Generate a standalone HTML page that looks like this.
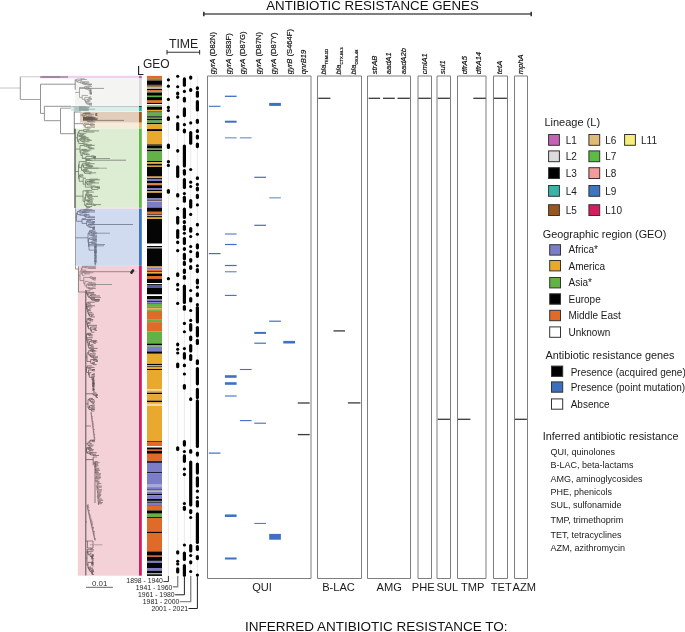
<!DOCTYPE html>
<html><head><meta charset="utf-8"><style>
html,body{margin:0;padding:0;background:#fff;}
svg{display:block;will-change:transform;font-family:"Liberation Sans",sans-serif;}
</style></head><body>
<svg width="685" height="632" viewBox="0 0 685 632">
<rect width="685" height="632" fill="#fff"/>
<rect x="40.00" y="75.80" width="99.00" height="2.50" fill="#efd3ee" />
<rect x="139.00" y="75.80" width="2.80" height="2.50" fill="#c462b6" />
<rect x="75.00" y="78.30" width="64.00" height="27.70" fill="#f4f4f2" />
<rect x="139.00" y="78.30" width="2.80" height="27.70" fill="#dadada" />
<rect x="71.00" y="106.00" width="68.00" height="0.90" fill="#b8bcc0" />
<rect x="139.00" y="106.00" width="2.80" height="0.90" fill="#10201e" />
<rect x="71.00" y="106.90" width="68.00" height="4.20" fill="#d8eeeb" />
<rect x="139.00" y="106.90" width="2.80" height="4.20" fill="#2bb3a6" />
<rect x="80.00" y="111.10" width="59.00" height="0.80" fill="#f6f6d8" />
<rect x="139.00" y="111.10" width="2.80" height="0.80" fill="#e8e070" />
<rect x="80.00" y="111.90" width="59.00" height="10.80" fill="#e1cdb9" />
<rect x="139.00" y="111.90" width="2.80" height="10.80" fill="#9b561e" />
<rect x="82.50" y="122.70" width="56.50" height="6.00" fill="#f6ecdb" />
<rect x="139.00" y="122.70" width="2.80" height="6.00" fill="#e0b86e" />
<rect x="75.00" y="128.70" width="64.00" height="79.20" fill="#ddedd3" />
<rect x="139.00" y="128.70" width="2.80" height="79.20" fill="#5cbb45" />
<rect x="75.00" y="207.90" width="64.00" height="0.80" fill="#f8dcd6" />
<rect x="139.00" y="207.90" width="2.80" height="0.80" fill="#ee9a94" />
<rect x="75.40" y="208.70" width="63.60" height="57.10" fill="#d1dbf0" />
<rect x="139.00" y="208.70" width="2.80" height="57.10" fill="#3a75c4" />
<rect x="77.80" y="265.80" width="61.20" height="309.90" fill="#f4d1d6" />
<rect x="139.00" y="265.80" width="2.80" height="309.90" fill="#d81a60" />
<line x1="0.00" y1="88.00" x2="20.30" y2="88.00" stroke="#c4c4c4" stroke-width="1.0"/>
<line x1="20.30" y1="76.80" x2="20.30" y2="99.50" stroke="#888" stroke-width="0.9"/>
<line x1="20.30" y1="76.80" x2="40.00" y2="76.80" stroke="#c4c4c4" stroke-width="0.9"/>
<line x1="40.00" y1="77.00" x2="68.00" y2="77.00" stroke="#8e7a8c" stroke-width="1.3"/>
<line x1="42.00" y1="77.00" x2="60.00" y2="77.00" stroke="#7a5a78" stroke-width="0.6"/>
<line x1="20.30" y1="99.50" x2="40.50" y2="99.50" stroke="#999" stroke-width="0.9"/>
<line x1="40.50" y1="84.20" x2="40.50" y2="113.40" stroke="#888" stroke-width="0.9"/>
<line x1="40.50" y1="84.20" x2="75.20" y2="84.20" stroke="#888" stroke-width="0.9"/>
<line x1="40.50" y1="113.40" x2="44.40" y2="113.40" stroke="#888" stroke-width="0.9"/>
<line x1="44.40" y1="106.30" x2="44.40" y2="120.70" stroke="#888" stroke-width="0.9"/>
<line x1="44.40" y1="106.30" x2="71.00" y2="106.30" stroke="#888" stroke-width="0.9"/>
<line x1="44.40" y1="120.70" x2="60.50" y2="120.70" stroke="#888" stroke-width="0.9"/>
<line x1="60.50" y1="108.20" x2="60.50" y2="133.70" stroke="#888" stroke-width="0.9"/>
<line x1="60.50" y1="108.20" x2="71.00" y2="108.20" stroke="#999" stroke-width="0.9"/>
<line x1="60.50" y1="133.70" x2="74.30" y2="133.70" stroke="#888" stroke-width="0.9"/>
<line x1="74.30" y1="111.50" x2="74.30" y2="133.70" stroke="#777" stroke-width="0.9"/>
<line x1="75.20" y1="79.40" x2="75.20" y2="89.70" stroke="#777" stroke-width="0.8"/>
<line x1="80.67" y1="78.76" x2="84.76" y2="78.76" stroke="#7a7a7a" stroke-width="0.6"/>
<line x1="80.67" y1="79.51" x2="86.97" y2="79.51" stroke="#7a7a7a" stroke-width="0.6"/>
<line x1="80.67" y1="78.76" x2="80.67" y2="79.51" stroke="#7a7a7a" stroke-width="0.6"/>
<line x1="76.50" y1="79.13" x2="80.67" y2="79.13" stroke="#7a7a7a" stroke-width="0.6"/>
<line x1="77.75" y1="80.54" x2="82.15" y2="80.54" stroke="#7a7a7a" stroke-width="0.6"/>
<line x1="80.24" y1="81.71" x2="88.95" y2="81.71" stroke="#7a7a7a" stroke-width="0.6"/>
<line x1="82.02" y1="82.61" x2="84.97" y2="82.61" stroke="#7a7a7a" stroke-width="0.6"/>
<line x1="82.59" y1="82.89" x2="89.44" y2="82.89" stroke="#7a7a7a" stroke-width="0.6"/>
<line x1="83.79" y1="83.36" x2="87.65" y2="83.36" stroke="#7a7a7a" stroke-width="0.6"/>
<line x1="85.59" y1="84.04" x2="92.00" y2="84.04" stroke="#7a7a7a" stroke-width="0.6"/>
<line x1="88.29" y1="84.49" x2="92.00" y2="84.49" stroke="#7a7a7a" stroke-width="0.6"/>
<line x1="88.29" y1="85.30" x2="91.16" y2="85.30" stroke="#7a7a7a" stroke-width="0.6"/>
<line x1="88.29" y1="84.49" x2="88.29" y2="85.30" stroke="#7a7a7a" stroke-width="0.6"/>
<line x1="85.59" y1="84.89" x2="88.29" y2="84.89" stroke="#7a7a7a" stroke-width="0.6"/>
<line x1="85.59" y1="84.04" x2="85.59" y2="84.89" stroke="#7a7a7a" stroke-width="0.6"/>
<line x1="83.79" y1="84.46" x2="85.59" y2="84.46" stroke="#7a7a7a" stroke-width="0.6"/>
<line x1="83.79" y1="83.36" x2="83.79" y2="84.46" stroke="#7a7a7a" stroke-width="0.6"/>
<line x1="82.59" y1="83.91" x2="83.79" y2="83.91" stroke="#7a7a7a" stroke-width="0.6"/>
<line x1="82.59" y1="82.89" x2="82.59" y2="83.91" stroke="#7a7a7a" stroke-width="0.6"/>
<line x1="82.02" y1="83.40" x2="82.59" y2="83.40" stroke="#7a7a7a" stroke-width="0.6"/>
<line x1="82.02" y1="82.61" x2="82.02" y2="83.40" stroke="#7a7a7a" stroke-width="0.6"/>
<line x1="80.24" y1="83.00" x2="82.02" y2="83.00" stroke="#7a7a7a" stroke-width="0.6"/>
<line x1="80.24" y1="81.71" x2="80.24" y2="83.00" stroke="#7a7a7a" stroke-width="0.6"/>
<line x1="77.75" y1="82.36" x2="80.24" y2="82.36" stroke="#7a7a7a" stroke-width="0.6"/>
<line x1="77.75" y1="80.54" x2="77.75" y2="82.36" stroke="#7a7a7a" stroke-width="0.6"/>
<line x1="76.50" y1="81.45" x2="77.75" y2="81.45" stroke="#7a7a7a" stroke-width="0.6"/>
<line x1="76.50" y1="79.13" x2="76.50" y2="81.45" stroke="#7a7a7a" stroke-width="0.6"/>
<line x1="75.20" y1="80.29" x2="76.50" y2="80.29" stroke="#7a7a7a" stroke-width="0.6"/>
<line x1="84.56" y1="86.56" x2="92.00" y2="86.56" stroke="#7a7a7a" stroke-width="0.6"/>
<line x1="85.82" y1="87.49" x2="89.39" y2="87.49" stroke="#7a7a7a" stroke-width="0.6"/>
<line x1="88.13" y1="88.40" x2="91.31" y2="88.40" stroke="#7a7a7a" stroke-width="0.6"/>
<line x1="90.00" y1="89.24" x2="91.49" y2="89.24" stroke="#7a7a7a" stroke-width="0.6"/>
<line x1="90.00" y1="90.02" x2="91.35" y2="90.02" stroke="#7a7a7a" stroke-width="0.6"/>
<line x1="90.00" y1="90.71" x2="92.00" y2="90.71" stroke="#7a7a7a" stroke-width="0.6"/>
<line x1="90.00" y1="91.47" x2="91.59" y2="91.47" stroke="#7a7a7a" stroke-width="0.6"/>
<line x1="90.00" y1="90.71" x2="90.00" y2="91.47" stroke="#7a7a7a" stroke-width="0.6"/>
<line x1="90.00" y1="92.39" x2="92.00" y2="92.39" stroke="#7a7a7a" stroke-width="0.6"/>
<line x1="90.00" y1="92.92" x2="91.88" y2="92.92" stroke="#7a7a7a" stroke-width="0.6"/>
<line x1="90.00" y1="93.15" x2="92.00" y2="93.15" stroke="#7a7a7a" stroke-width="0.6"/>
<line x1="90.00" y1="93.39" x2="92.00" y2="93.39" stroke="#7a7a7a" stroke-width="0.6"/>
<line x1="90.00" y1="94.20" x2="92.00" y2="94.20" stroke="#7a7a7a" stroke-width="0.6"/>
<line x1="90.00" y1="93.39" x2="90.00" y2="94.20" stroke="#7a7a7a" stroke-width="0.6"/>
<line x1="90.00" y1="93.15" x2="90.00" y2="93.79" stroke="#7a7a7a" stroke-width="0.6"/>
<line x1="90.00" y1="92.92" x2="90.00" y2="93.47" stroke="#7a7a7a" stroke-width="0.6"/>
<line x1="90.00" y1="92.39" x2="90.00" y2="93.19" stroke="#7a7a7a" stroke-width="0.6"/>
<line x1="90.00" y1="91.09" x2="90.00" y2="92.79" stroke="#7a7a7a" stroke-width="0.6"/>
<line x1="90.00" y1="90.02" x2="90.00" y2="91.94" stroke="#7a7a7a" stroke-width="0.6"/>
<line x1="90.00" y1="89.24" x2="90.00" y2="90.98" stroke="#7a7a7a" stroke-width="0.6"/>
<line x1="88.13" y1="90.11" x2="90.00" y2="90.11" stroke="#7a7a7a" stroke-width="0.6"/>
<line x1="88.13" y1="88.40" x2="88.13" y2="90.11" stroke="#7a7a7a" stroke-width="0.6"/>
<line x1="85.82" y1="89.25" x2="88.13" y2="89.25" stroke="#7a7a7a" stroke-width="0.6"/>
<line x1="85.82" y1="87.49" x2="85.82" y2="89.25" stroke="#7a7a7a" stroke-width="0.6"/>
<line x1="84.56" y1="88.37" x2="85.82" y2="88.37" stroke="#7a7a7a" stroke-width="0.6"/>
<line x1="84.56" y1="86.56" x2="84.56" y2="88.37" stroke="#7a7a7a" stroke-width="0.6"/>
<line x1="79.50" y1="87.47" x2="84.56" y2="87.47" stroke="#7a7a7a" stroke-width="0.6"/>
<line x1="82.26" y1="95.47" x2="87.86" y2="95.47" stroke="#7a7a7a" stroke-width="0.6"/>
<line x1="89.33" y1="96.82" x2="91.27" y2="96.82" stroke="#7a7a7a" stroke-width="0.6"/>
<line x1="89.33" y1="97.97" x2="91.10" y2="97.97" stroke="#7a7a7a" stroke-width="0.6"/>
<line x1="89.33" y1="96.82" x2="89.33" y2="97.97" stroke="#7a7a7a" stroke-width="0.6"/>
<line x1="84.80" y1="97.39" x2="89.33" y2="97.39" stroke="#7a7a7a" stroke-width="0.6"/>
<line x1="88.51" y1="98.61" x2="92.00" y2="98.61" stroke="#7a7a7a" stroke-width="0.6"/>
<line x1="88.51" y1="99.37" x2="92.00" y2="99.37" stroke="#7a7a7a" stroke-width="0.6"/>
<line x1="88.51" y1="98.61" x2="88.51" y2="99.37" stroke="#7a7a7a" stroke-width="0.6"/>
<line x1="87.69" y1="98.99" x2="88.51" y2="98.99" stroke="#7a7a7a" stroke-width="0.6"/>
<line x1="87.69" y1="100.53" x2="90.24" y2="100.53" stroke="#7a7a7a" stroke-width="0.6"/>
<line x1="87.69" y1="98.99" x2="87.69" y2="100.53" stroke="#7a7a7a" stroke-width="0.6"/>
<line x1="85.56" y1="99.76" x2="87.69" y2="99.76" stroke="#7a7a7a" stroke-width="0.6"/>
<line x1="86.74" y1="101.26" x2="90.46" y2="101.26" stroke="#7a7a7a" stroke-width="0.6"/>
<line x1="86.74" y1="102.08" x2="89.15" y2="102.08" stroke="#7a7a7a" stroke-width="0.6"/>
<line x1="86.74" y1="101.26" x2="86.74" y2="102.08" stroke="#7a7a7a" stroke-width="0.6"/>
<line x1="86.42" y1="101.67" x2="86.74" y2="101.67" stroke="#7a7a7a" stroke-width="0.6"/>
<line x1="87.29" y1="103.20" x2="92.00" y2="103.20" stroke="#7a7a7a" stroke-width="0.6"/>
<line x1="89.08" y1="103.68" x2="92.00" y2="103.68" stroke="#7a7a7a" stroke-width="0.6"/>
<line x1="89.60" y1="104.37" x2="92.00" y2="104.37" stroke="#7a7a7a" stroke-width="0.6"/>
<line x1="89.60" y1="105.23" x2="92.00" y2="105.23" stroke="#7a7a7a" stroke-width="0.6"/>
<line x1="89.60" y1="104.37" x2="89.60" y2="105.23" stroke="#7a7a7a" stroke-width="0.6"/>
<line x1="89.08" y1="104.80" x2="89.60" y2="104.80" stroke="#7a7a7a" stroke-width="0.6"/>
<line x1="89.08" y1="103.68" x2="89.08" y2="104.80" stroke="#7a7a7a" stroke-width="0.6"/>
<line x1="87.29" y1="104.24" x2="89.08" y2="104.24" stroke="#7a7a7a" stroke-width="0.6"/>
<line x1="87.29" y1="103.20" x2="87.29" y2="104.24" stroke="#7a7a7a" stroke-width="0.6"/>
<line x1="86.42" y1="103.72" x2="87.29" y2="103.72" stroke="#7a7a7a" stroke-width="0.6"/>
<line x1="86.42" y1="101.67" x2="86.42" y2="103.72" stroke="#7a7a7a" stroke-width="0.6"/>
<line x1="85.56" y1="102.70" x2="86.42" y2="102.70" stroke="#7a7a7a" stroke-width="0.6"/>
<line x1="85.56" y1="99.76" x2="85.56" y2="102.70" stroke="#7a7a7a" stroke-width="0.6"/>
<line x1="84.80" y1="101.23" x2="85.56" y2="101.23" stroke="#7a7a7a" stroke-width="0.6"/>
<line x1="84.80" y1="97.39" x2="84.80" y2="101.23" stroke="#7a7a7a" stroke-width="0.6"/>
<line x1="82.26" y1="99.31" x2="84.80" y2="99.31" stroke="#7a7a7a" stroke-width="0.6"/>
<line x1="82.26" y1="95.47" x2="82.26" y2="99.31" stroke="#7a7a7a" stroke-width="0.6"/>
<line x1="79.50" y1="97.39" x2="82.26" y2="97.39" stroke="#7a7a7a" stroke-width="0.6"/>
<line x1="79.50" y1="87.47" x2="79.50" y2="97.39" stroke="#7a7a7a" stroke-width="0.6"/>
<line x1="75.20" y1="92.43" x2="79.50" y2="92.43" stroke="#7a7a7a" stroke-width="0.6"/>
<line x1="79.50" y1="88.40" x2="104.00" y2="88.40" stroke="#777" stroke-width="0.7"/>
<line x1="72.28" y1="106.70" x2="81.00" y2="106.70" stroke="#a6bcba" stroke-width="0.6"/>
<line x1="79.00" y1="106.70" x2="86.30" y2="106.70" stroke="#7d9593" stroke-width="0.6"/>
<line x1="73.18" y1="107.18" x2="80.21" y2="107.18" stroke="#a6bcba" stroke-width="0.6"/>
<line x1="79.00" y1="107.18" x2="89.60" y2="107.18" stroke="#7d9593" stroke-width="0.6"/>
<line x1="73.95" y1="107.66" x2="80.11" y2="107.66" stroke="#a6bcba" stroke-width="0.6"/>
<line x1="79.00" y1="107.66" x2="89.17" y2="107.66" stroke="#7d9593" stroke-width="0.6"/>
<line x1="74.66" y1="108.14" x2="79.06" y2="108.14" stroke="#a6bcba" stroke-width="0.6"/>
<line x1="79.00" y1="108.14" x2="88.74" y2="108.14" stroke="#7d9593" stroke-width="0.6"/>
<line x1="74.60" y1="108.62" x2="80.61" y2="108.62" stroke="#a6bcba" stroke-width="0.6"/>
<line x1="79.00" y1="108.62" x2="87.67" y2="108.62" stroke="#7d9593" stroke-width="0.6"/>
<line x1="74.16" y1="109.10" x2="80.59" y2="109.10" stroke="#a6bcba" stroke-width="0.6"/>
<line x1="79.00" y1="109.10" x2="88.29" y2="109.10" stroke="#7d9593" stroke-width="0.6"/>
<line x1="73.50" y1="109.58" x2="79.15" y2="109.58" stroke="#a6bcba" stroke-width="0.6"/>
<line x1="79.00" y1="109.58" x2="88.33" y2="109.58" stroke="#7d9593" stroke-width="0.6"/>
<line x1="73.44" y1="110.06" x2="78.24" y2="110.06" stroke="#a6bcba" stroke-width="0.6"/>
<line x1="79.00" y1="110.06" x2="88.56" y2="110.06" stroke="#7d9593" stroke-width="0.6"/>
<line x1="74.97" y1="110.54" x2="80.64" y2="110.54" stroke="#a6bcba" stroke-width="0.6"/>
<line x1="79.00" y1="110.54" x2="88.91" y2="110.54" stroke="#7d9593" stroke-width="0.6"/>
<line x1="88.00" y1="109.20" x2="95.00" y2="109.20" stroke="#7d9593" stroke-width="0.6"/>
<line x1="74.30" y1="112.00" x2="80.50" y2="112.00" stroke="#777" stroke-width="0.8"/>
<line x1="84.60" y1="112.90" x2="90.28" y2="112.90" stroke="#6e6258" stroke-width="0.7"/>
<line x1="85.14" y1="113.41" x2="90.62" y2="113.41" stroke="#6e6258" stroke-width="0.7"/>
<line x1="85.14" y1="114.22" x2="93.80" y2="114.22" stroke="#6e6258" stroke-width="0.7"/>
<line x1="85.14" y1="113.41" x2="85.14" y2="114.22" stroke="#6e6258" stroke-width="0.7"/>
<line x1="84.60" y1="113.81" x2="85.14" y2="113.81" stroke="#6e6258" stroke-width="0.7"/>
<line x1="84.60" y1="112.90" x2="84.60" y2="113.81" stroke="#6e6258" stroke-width="0.7"/>
<line x1="83.00" y1="113.36" x2="84.60" y2="113.36" stroke="#6e6258" stroke-width="0.7"/>
<line x1="84.20" y1="115.23" x2="86.60" y2="115.23" stroke="#6e6258" stroke-width="0.7"/>
<line x1="87.98" y1="115.96" x2="92.33" y2="115.96" stroke="#6e6258" stroke-width="0.7"/>
<line x1="87.98" y1="116.93" x2="93.84" y2="116.93" stroke="#6e6258" stroke-width="0.7"/>
<line x1="87.98" y1="115.96" x2="87.98" y2="116.93" stroke="#6e6258" stroke-width="0.7"/>
<line x1="86.06" y1="116.45" x2="87.98" y2="116.45" stroke="#6e6258" stroke-width="0.7"/>
<line x1="88.28" y1="117.67" x2="95.34" y2="117.67" stroke="#6e6258" stroke-width="0.7"/>
<line x1="91.75" y1="117.98" x2="95.87" y2="117.98" stroke="#6e6258" stroke-width="0.7"/>
<line x1="92.89" y1="118.25" x2="98.00" y2="118.25" stroke="#6e6258" stroke-width="0.7"/>
<line x1="92.89" y1="119.10" x2="97.19" y2="119.10" stroke="#6e6258" stroke-width="0.7"/>
<line x1="92.89" y1="118.25" x2="92.89" y2="119.10" stroke="#6e6258" stroke-width="0.7"/>
<line x1="91.75" y1="118.68" x2="92.89" y2="118.68" stroke="#6e6258" stroke-width="0.7"/>
<line x1="91.75" y1="117.98" x2="91.75" y2="118.68" stroke="#6e6258" stroke-width="0.7"/>
<line x1="90.96" y1="118.33" x2="91.75" y2="118.33" stroke="#6e6258" stroke-width="0.7"/>
<line x1="90.96" y1="120.29" x2="92.76" y2="120.29" stroke="#6e6258" stroke-width="0.7"/>
<line x1="90.96" y1="118.33" x2="90.96" y2="120.29" stroke="#6e6258" stroke-width="0.7"/>
<line x1="88.28" y1="119.31" x2="90.96" y2="119.31" stroke="#6e6258" stroke-width="0.7"/>
<line x1="88.28" y1="117.67" x2="88.28" y2="119.31" stroke="#6e6258" stroke-width="0.7"/>
<line x1="87.26" y1="118.49" x2="88.28" y2="118.49" stroke="#6e6258" stroke-width="0.7"/>
<line x1="88.81" y1="121.03" x2="92.88" y2="121.03" stroke="#6e6258" stroke-width="0.7"/>
<line x1="88.81" y1="121.90" x2="95.24" y2="121.90" stroke="#6e6258" stroke-width="0.7"/>
<line x1="88.81" y1="121.03" x2="88.81" y2="121.90" stroke="#6e6258" stroke-width="0.7"/>
<line x1="87.26" y1="121.47" x2="88.81" y2="121.47" stroke="#6e6258" stroke-width="0.7"/>
<line x1="87.26" y1="118.49" x2="87.26" y2="121.47" stroke="#6e6258" stroke-width="0.7"/>
<line x1="86.06" y1="119.98" x2="87.26" y2="119.98" stroke="#6e6258" stroke-width="0.7"/>
<line x1="86.06" y1="116.45" x2="86.06" y2="119.98" stroke="#6e6258" stroke-width="0.7"/>
<line x1="84.20" y1="118.21" x2="86.06" y2="118.21" stroke="#6e6258" stroke-width="0.7"/>
<line x1="84.20" y1="115.23" x2="84.20" y2="118.21" stroke="#6e6258" stroke-width="0.7"/>
<line x1="83.00" y1="116.72" x2="84.20" y2="116.72" stroke="#6e6258" stroke-width="0.7"/>
<line x1="83.00" y1="113.36" x2="83.00" y2="116.72" stroke="#6e6258" stroke-width="0.7"/>
<line x1="80.50" y1="115.04" x2="83.00" y2="115.04" stroke="#6e6258" stroke-width="0.7"/>
<line x1="83.00" y1="117.50" x2="92.12" y2="117.50" stroke="#5e544c" stroke-width="0.8"/>
<line x1="83.00" y1="118.00" x2="92.88" y2="118.00" stroke="#5e544c" stroke-width="0.8"/>
<line x1="83.00" y1="118.50" x2="94.96" y2="118.50" stroke="#5e544c" stroke-width="0.8"/>
<line x1="83.00" y1="119.00" x2="92.16" y2="119.00" stroke="#5e544c" stroke-width="0.8"/>
<line x1="83.00" y1="119.50" x2="97.39" y2="119.50" stroke="#5e544c" stroke-width="0.8"/>
<line x1="83.00" y1="120.00" x2="93.54" y2="120.00" stroke="#5e544c" stroke-width="0.8"/>
<line x1="83.00" y1="120.40" x2="124.00" y2="120.40" stroke="#7a7068" stroke-width="0.8"/>
<line x1="96.00" y1="113.80" x2="96.00" y2="115.20" stroke="#555" stroke-width="1.2"/>
<line x1="95.50" y1="113.60" x2="97.50" y2="113.60" stroke="#555" stroke-width="0.8"/>
<line x1="95.50" y1="115.40" x2="97.50" y2="115.40" stroke="#555" stroke-width="0.8"/>
<line x1="74.30" y1="123.70" x2="83.00" y2="123.70" stroke="#777" stroke-width="0.8"/>
<line x1="84.00" y1="123.25" x2="89.27" y2="123.25" stroke="#7a7a70" stroke-width="0.7"/>
<line x1="90.28" y1="123.78" x2="93.47" y2="123.78" stroke="#7a7a70" stroke-width="0.7"/>
<line x1="90.79" y1="124.54" x2="95.00" y2="124.54" stroke="#7a7a70" stroke-width="0.7"/>
<line x1="90.79" y1="125.82" x2="94.64" y2="125.82" stroke="#7a7a70" stroke-width="0.7"/>
<line x1="90.79" y1="124.54" x2="90.79" y2="125.82" stroke="#7a7a70" stroke-width="0.7"/>
<line x1="90.28" y1="125.18" x2="90.79" y2="125.18" stroke="#7a7a70" stroke-width="0.7"/>
<line x1="90.28" y1="123.78" x2="90.28" y2="125.18" stroke="#7a7a70" stroke-width="0.7"/>
<line x1="85.21" y1="124.48" x2="90.28" y2="124.48" stroke="#7a7a70" stroke-width="0.7"/>
<line x1="87.09" y1="127.18" x2="95.00" y2="127.18" stroke="#7a7a70" stroke-width="0.7"/>
<line x1="87.09" y1="128.13" x2="90.71" y2="128.13" stroke="#7a7a70" stroke-width="0.7"/>
<line x1="87.09" y1="127.18" x2="87.09" y2="128.13" stroke="#7a7a70" stroke-width="0.7"/>
<line x1="85.21" y1="127.65" x2="87.09" y2="127.65" stroke="#7a7a70" stroke-width="0.7"/>
<line x1="85.21" y1="124.48" x2="85.21" y2="127.65" stroke="#7a7a70" stroke-width="0.7"/>
<line x1="84.00" y1="126.07" x2="85.21" y2="126.07" stroke="#7a7a70" stroke-width="0.7"/>
<line x1="84.00" y1="123.25" x2="84.00" y2="126.07" stroke="#7a7a70" stroke-width="0.7"/>
<line x1="83.00" y1="124.66" x2="84.00" y2="124.66" stroke="#7a7a70" stroke-width="0.7"/>
<line x1="75.00" y1="128.80" x2="75.00" y2="208.00" stroke="#333" stroke-width="1.1"/>
<line x1="83.65" y1="129.72" x2="89.43" y2="129.72" stroke="#64725d" stroke-width="0.72"/>
<line x1="86.20" y1="130.88" x2="99.00" y2="130.88" stroke="#64725d" stroke-width="0.72"/>
<line x1="86.20" y1="132.04" x2="94.34" y2="132.04" stroke="#64725d" stroke-width="0.72"/>
<line x1="86.20" y1="130.88" x2="86.20" y2="132.04" stroke="#64725d" stroke-width="0.72"/>
<line x1="83.65" y1="131.46" x2="86.20" y2="131.46" stroke="#64725d" stroke-width="0.72"/>
<line x1="83.65" y1="129.72" x2="83.65" y2="131.46" stroke="#64725d" stroke-width="0.72"/>
<line x1="79.02" y1="130.59" x2="83.65" y2="130.59" stroke="#64725d" stroke-width="0.72"/>
<line x1="80.27" y1="133.24" x2="86.25" y2="133.24" stroke="#64725d" stroke-width="0.72"/>
<line x1="80.27" y1="134.40" x2="84.31" y2="134.40" stroke="#64725d" stroke-width="0.72"/>
<line x1="80.27" y1="133.24" x2="80.27" y2="134.40" stroke="#64725d" stroke-width="0.72"/>
<line x1="79.02" y1="133.82" x2="80.27" y2="133.82" stroke="#64725d" stroke-width="0.72"/>
<line x1="79.02" y1="130.59" x2="79.02" y2="133.82" stroke="#64725d" stroke-width="0.72"/>
<line x1="78.01" y1="132.21" x2="79.02" y2="132.21" stroke="#64725d" stroke-width="0.72"/>
<line x1="79.52" y1="135.37" x2="83.08" y2="135.37" stroke="#64725d" stroke-width="0.72"/>
<line x1="80.82" y1="136.08" x2="85.55" y2="136.08" stroke="#64725d" stroke-width="0.72"/>
<line x1="81.55" y1="136.77" x2="86.30" y2="136.77" stroke="#64725d" stroke-width="0.72"/>
<line x1="81.55" y1="137.60" x2="88.50" y2="137.60" stroke="#64725d" stroke-width="0.72"/>
<line x1="81.55" y1="136.77" x2="81.55" y2="137.60" stroke="#64725d" stroke-width="0.72"/>
<line x1="80.82" y1="137.18" x2="81.55" y2="137.18" stroke="#64725d" stroke-width="0.72"/>
<line x1="80.82" y1="136.08" x2="80.82" y2="137.18" stroke="#64725d" stroke-width="0.72"/>
<line x1="79.52" y1="136.63" x2="80.82" y2="136.63" stroke="#64725d" stroke-width="0.72"/>
<line x1="79.52" y1="135.37" x2="79.52" y2="136.63" stroke="#64725d" stroke-width="0.72"/>
<line x1="78.01" y1="136.00" x2="79.52" y2="136.00" stroke="#64725d" stroke-width="0.72"/>
<line x1="78.01" y1="132.21" x2="78.01" y2="136.00" stroke="#64725d" stroke-width="0.72"/>
<line x1="77.50" y1="134.10" x2="78.01" y2="134.10" stroke="#64725d" stroke-width="0.72"/>
<line x1="80.04" y1="138.41" x2="85.73" y2="138.41" stroke="#64725d" stroke-width="0.72"/>
<line x1="84.04" y1="138.84" x2="88.72" y2="138.84" stroke="#64725d" stroke-width="0.72"/>
<line x1="87.31" y1="139.55" x2="90.28" y2="139.55" stroke="#64725d" stroke-width="0.72"/>
<line x1="87.31" y1="140.35" x2="91.75" y2="140.35" stroke="#64725d" stroke-width="0.72"/>
<line x1="87.31" y1="139.55" x2="87.31" y2="140.35" stroke="#64725d" stroke-width="0.72"/>
<line x1="84.04" y1="139.95" x2="87.31" y2="139.95" stroke="#64725d" stroke-width="0.72"/>
<line x1="84.04" y1="138.84" x2="84.04" y2="139.95" stroke="#64725d" stroke-width="0.72"/>
<line x1="80.95" y1="139.40" x2="84.04" y2="139.40" stroke="#64725d" stroke-width="0.72"/>
<line x1="82.44" y1="140.80" x2="85.60" y2="140.80" stroke="#64725d" stroke-width="0.72"/>
<line x1="82.44" y1="141.72" x2="89.40" y2="141.72" stroke="#64725d" stroke-width="0.72"/>
<line x1="82.44" y1="140.80" x2="82.44" y2="141.72" stroke="#64725d" stroke-width="0.72"/>
<line x1="80.95" y1="141.26" x2="82.44" y2="141.26" stroke="#64725d" stroke-width="0.72"/>
<line x1="80.95" y1="139.40" x2="80.95" y2="141.26" stroke="#64725d" stroke-width="0.72"/>
<line x1="80.04" y1="140.33" x2="80.95" y2="140.33" stroke="#64725d" stroke-width="0.72"/>
<line x1="80.04" y1="138.41" x2="80.04" y2="140.33" stroke="#64725d" stroke-width="0.72"/>
<line x1="78.73" y1="139.37" x2="80.04" y2="139.37" stroke="#64725d" stroke-width="0.72"/>
<line x1="82.80" y1="142.99" x2="85.28" y2="142.99" stroke="#64725d" stroke-width="0.72"/>
<line x1="82.80" y1="144.01" x2="87.64" y2="144.01" stroke="#64725d" stroke-width="0.72"/>
<line x1="82.80" y1="142.99" x2="82.80" y2="144.01" stroke="#64725d" stroke-width="0.72"/>
<line x1="78.73" y1="143.50" x2="82.80" y2="143.50" stroke="#64725d" stroke-width="0.72"/>
<line x1="78.73" y1="139.37" x2="78.73" y2="143.50" stroke="#64725d" stroke-width="0.72"/>
<line x1="77.50" y1="141.43" x2="78.73" y2="141.43" stroke="#64725d" stroke-width="0.72"/>
<line x1="77.50" y1="134.10" x2="77.50" y2="141.43" stroke="#64725d" stroke-width="0.72"/>
<line x1="75.00" y1="137.77" x2="77.50" y2="137.77" stroke="#64725d" stroke-width="0.72"/>
<line x1="84.15" y1="144.76" x2="92.08" y2="144.76" stroke="#64725d" stroke-width="0.72"/>
<line x1="86.68" y1="145.34" x2="94.79" y2="145.34" stroke="#64725d" stroke-width="0.72"/>
<line x1="88.34" y1="146.11" x2="90.32" y2="146.11" stroke="#64725d" stroke-width="0.72"/>
<line x1="89.10" y1="147.16" x2="91.33" y2="147.16" stroke="#64725d" stroke-width="0.72"/>
<line x1="90.76" y1="148.01" x2="93.68" y2="148.01" stroke="#64725d" stroke-width="0.72"/>
<line x1="90.76" y1="148.79" x2="94.49" y2="148.79" stroke="#64725d" stroke-width="0.72"/>
<line x1="90.76" y1="148.01" x2="90.76" y2="148.79" stroke="#64725d" stroke-width="0.72"/>
<line x1="89.10" y1="148.40" x2="90.76" y2="148.40" stroke="#64725d" stroke-width="0.72"/>
<line x1="89.10" y1="147.16" x2="89.10" y2="148.40" stroke="#64725d" stroke-width="0.72"/>
<line x1="88.34" y1="147.78" x2="89.10" y2="147.78" stroke="#64725d" stroke-width="0.72"/>
<line x1="88.34" y1="146.11" x2="88.34" y2="147.78" stroke="#64725d" stroke-width="0.72"/>
<line x1="86.68" y1="146.95" x2="88.34" y2="146.95" stroke="#64725d" stroke-width="0.72"/>
<line x1="86.68" y1="145.34" x2="86.68" y2="146.95" stroke="#64725d" stroke-width="0.72"/>
<line x1="84.15" y1="146.14" x2="86.68" y2="146.14" stroke="#64725d" stroke-width="0.72"/>
<line x1="84.15" y1="144.76" x2="84.15" y2="146.14" stroke="#64725d" stroke-width="0.72"/>
<line x1="80.00" y1="145.45" x2="84.15" y2="145.45" stroke="#64725d" stroke-width="0.72"/>
<line x1="81.98" y1="149.41" x2="86.66" y2="149.41" stroke="#64725d" stroke-width="0.72"/>
<line x1="83.70" y1="149.99" x2="91.29" y2="149.99" stroke="#64725d" stroke-width="0.72"/>
<line x1="83.70" y1="150.82" x2="89.67" y2="150.82" stroke="#64725d" stroke-width="0.72"/>
<line x1="83.70" y1="149.99" x2="83.70" y2="150.82" stroke="#64725d" stroke-width="0.72"/>
<line x1="81.98" y1="150.40" x2="83.70" y2="150.40" stroke="#64725d" stroke-width="0.72"/>
<line x1="81.98" y1="149.41" x2="81.98" y2="150.40" stroke="#64725d" stroke-width="0.72"/>
<line x1="80.88" y1="149.91" x2="81.98" y2="149.91" stroke="#64725d" stroke-width="0.72"/>
<line x1="83.15" y1="151.82" x2="88.41" y2="151.82" stroke="#64725d" stroke-width="0.72"/>
<line x1="83.82" y1="153.04" x2="86.64" y2="153.04" stroke="#64725d" stroke-width="0.72"/>
<line x1="86.46" y1="153.94" x2="88.58" y2="153.94" stroke="#64725d" stroke-width="0.72"/>
<line x1="86.46" y1="154.81" x2="89.91" y2="154.81" stroke="#64725d" stroke-width="0.72"/>
<line x1="86.46" y1="153.94" x2="86.46" y2="154.81" stroke="#64725d" stroke-width="0.72"/>
<line x1="83.82" y1="154.37" x2="86.46" y2="154.37" stroke="#64725d" stroke-width="0.72"/>
<line x1="83.82" y1="153.04" x2="83.82" y2="154.37" stroke="#64725d" stroke-width="0.72"/>
<line x1="83.15" y1="153.71" x2="83.82" y2="153.71" stroke="#64725d" stroke-width="0.72"/>
<line x1="83.15" y1="151.82" x2="83.15" y2="153.71" stroke="#64725d" stroke-width="0.72"/>
<line x1="82.28" y1="152.77" x2="83.15" y2="152.77" stroke="#64725d" stroke-width="0.72"/>
<line x1="91.33" y1="155.84" x2="94.21" y2="155.84" stroke="#64725d" stroke-width="0.72"/>
<line x1="93.22" y1="156.44" x2="96.00" y2="156.44" stroke="#64725d" stroke-width="0.72"/>
<line x1="94.00" y1="156.73" x2="96.00" y2="156.73" stroke="#64725d" stroke-width="0.72"/>
<line x1="94.00" y1="157.24" x2="96.00" y2="157.24" stroke="#64725d" stroke-width="0.72"/>
<line x1="94.00" y1="157.99" x2="96.00" y2="157.99" stroke="#64725d" stroke-width="0.72"/>
<line x1="94.00" y1="157.24" x2="94.00" y2="157.99" stroke="#64725d" stroke-width="0.72"/>
<line x1="94.00" y1="158.74" x2="96.00" y2="158.74" stroke="#64725d" stroke-width="0.72"/>
<line x1="94.00" y1="157.61" x2="94.00" y2="158.74" stroke="#64725d" stroke-width="0.72"/>
<line x1="94.00" y1="156.73" x2="94.00" y2="158.18" stroke="#64725d" stroke-width="0.72"/>
<line x1="93.22" y1="157.46" x2="94.00" y2="157.46" stroke="#64725d" stroke-width="0.72"/>
<line x1="93.22" y1="156.44" x2="93.22" y2="157.46" stroke="#64725d" stroke-width="0.72"/>
<line x1="91.33" y1="156.95" x2="93.22" y2="156.95" stroke="#64725d" stroke-width="0.72"/>
<line x1="91.33" y1="155.84" x2="91.33" y2="156.95" stroke="#64725d" stroke-width="0.72"/>
<line x1="85.85" y1="156.39" x2="91.33" y2="156.39" stroke="#64725d" stroke-width="0.72"/>
<line x1="86.50" y1="159.40" x2="90.11" y2="159.40" stroke="#64725d" stroke-width="0.72"/>
<line x1="86.50" y1="160.34" x2="91.75" y2="160.34" stroke="#64725d" stroke-width="0.72"/>
<line x1="86.50" y1="159.40" x2="86.50" y2="160.34" stroke="#64725d" stroke-width="0.72"/>
<line x1="85.85" y1="159.87" x2="86.50" y2="159.87" stroke="#64725d" stroke-width="0.72"/>
<line x1="85.85" y1="156.39" x2="85.85" y2="159.87" stroke="#64725d" stroke-width="0.72"/>
<line x1="82.28" y1="158.13" x2="85.85" y2="158.13" stroke="#64725d" stroke-width="0.72"/>
<line x1="82.28" y1="152.77" x2="82.28" y2="158.13" stroke="#64725d" stroke-width="0.72"/>
<line x1="80.88" y1="155.45" x2="82.28" y2="155.45" stroke="#64725d" stroke-width="0.72"/>
<line x1="80.88" y1="149.91" x2="80.88" y2="155.45" stroke="#64725d" stroke-width="0.72"/>
<line x1="80.00" y1="152.68" x2="80.88" y2="152.68" stroke="#64725d" stroke-width="0.72"/>
<line x1="80.00" y1="145.45" x2="80.00" y2="152.68" stroke="#64725d" stroke-width="0.72"/>
<line x1="75.00" y1="149.06" x2="80.00" y2="149.06" stroke="#64725d" stroke-width="0.72"/>
<line x1="82.00" y1="158.50" x2="110.00" y2="158.50" stroke="#777" stroke-width="0.7"/>
<line x1="85.00" y1="160.20" x2="126.00" y2="160.20" stroke="#666" stroke-width="0.7"/>
<line x1="79.13" y1="161.56" x2="86.83" y2="161.56" stroke="#64725d" stroke-width="0.72"/>
<line x1="85.40" y1="162.72" x2="90.25" y2="162.72" stroke="#64725d" stroke-width="0.72"/>
<line x1="85.40" y1="163.72" x2="94.59" y2="163.72" stroke="#64725d" stroke-width="0.72"/>
<line x1="85.40" y1="162.72" x2="85.40" y2="163.72" stroke="#64725d" stroke-width="0.72"/>
<line x1="82.64" y1="163.22" x2="85.40" y2="163.22" stroke="#64725d" stroke-width="0.72"/>
<line x1="85.99" y1="164.45" x2="88.98" y2="164.45" stroke="#64725d" stroke-width="0.72"/>
<line x1="86.99" y1="164.95" x2="90.48" y2="164.95" stroke="#64725d" stroke-width="0.72"/>
<line x1="88.67" y1="165.62" x2="92.69" y2="165.62" stroke="#64725d" stroke-width="0.72"/>
<line x1="88.67" y1="166.50" x2="93.36" y2="166.50" stroke="#64725d" stroke-width="0.72"/>
<line x1="88.67" y1="165.62" x2="88.67" y2="166.50" stroke="#64725d" stroke-width="0.72"/>
<line x1="86.99" y1="166.06" x2="88.67" y2="166.06" stroke="#64725d" stroke-width="0.72"/>
<line x1="86.99" y1="164.95" x2="86.99" y2="166.06" stroke="#64725d" stroke-width="0.72"/>
<line x1="85.99" y1="165.50" x2="86.99" y2="165.50" stroke="#64725d" stroke-width="0.72"/>
<line x1="85.99" y1="164.45" x2="85.99" y2="165.50" stroke="#64725d" stroke-width="0.72"/>
<line x1="83.50" y1="164.98" x2="85.99" y2="164.98" stroke="#64725d" stroke-width="0.72"/>
<line x1="85.74" y1="167.18" x2="92.17" y2="167.18" stroke="#64725d" stroke-width="0.72"/>
<line x1="85.74" y1="168.19" x2="98.48" y2="168.19" stroke="#64725d" stroke-width="0.72"/>
<line x1="85.74" y1="167.18" x2="85.74" y2="168.19" stroke="#64725d" stroke-width="0.72"/>
<line x1="83.50" y1="167.69" x2="85.74" y2="167.69" stroke="#64725d" stroke-width="0.72"/>
<line x1="83.50" y1="164.98" x2="83.50" y2="167.69" stroke="#64725d" stroke-width="0.72"/>
<line x1="82.64" y1="166.33" x2="83.50" y2="166.33" stroke="#64725d" stroke-width="0.72"/>
<line x1="82.64" y1="163.22" x2="82.64" y2="166.33" stroke="#64725d" stroke-width="0.72"/>
<line x1="81.57" y1="164.78" x2="82.64" y2="164.78" stroke="#64725d" stroke-width="0.72"/>
<line x1="83.17" y1="169.49" x2="87.76" y2="169.49" stroke="#64725d" stroke-width="0.72"/>
<line x1="84.02" y1="170.35" x2="86.75" y2="170.35" stroke="#64725d" stroke-width="0.72"/>
<line x1="86.01" y1="170.91" x2="89.03" y2="170.91" stroke="#64725d" stroke-width="0.72"/>
<line x1="86.01" y1="171.89" x2="91.77" y2="171.89" stroke="#64725d" stroke-width="0.72"/>
<line x1="86.01" y1="170.91" x2="86.01" y2="171.89" stroke="#64725d" stroke-width="0.72"/>
<line x1="84.65" y1="171.40" x2="86.01" y2="171.40" stroke="#64725d" stroke-width="0.72"/>
<line x1="89.24" y1="172.87" x2="96.13" y2="172.87" stroke="#64725d" stroke-width="0.72"/>
<line x1="89.24" y1="173.78" x2="91.42" y2="173.78" stroke="#64725d" stroke-width="0.72"/>
<line x1="89.24" y1="172.87" x2="89.24" y2="173.78" stroke="#64725d" stroke-width="0.72"/>
<line x1="84.65" y1="173.33" x2="89.24" y2="173.33" stroke="#64725d" stroke-width="0.72"/>
<line x1="84.65" y1="171.40" x2="84.65" y2="173.33" stroke="#64725d" stroke-width="0.72"/>
<line x1="84.02" y1="172.36" x2="84.65" y2="172.36" stroke="#64725d" stroke-width="0.72"/>
<line x1="84.02" y1="170.35" x2="84.02" y2="172.36" stroke="#64725d" stroke-width="0.72"/>
<line x1="83.17" y1="171.36" x2="84.02" y2="171.36" stroke="#64725d" stroke-width="0.72"/>
<line x1="83.17" y1="169.49" x2="83.17" y2="171.36" stroke="#64725d" stroke-width="0.72"/>
<line x1="81.57" y1="170.42" x2="83.17" y2="170.42" stroke="#64725d" stroke-width="0.72"/>
<line x1="81.57" y1="164.78" x2="81.57" y2="170.42" stroke="#64725d" stroke-width="0.72"/>
<line x1="79.13" y1="167.60" x2="81.57" y2="167.60" stroke="#64725d" stroke-width="0.72"/>
<line x1="79.13" y1="161.56" x2="79.13" y2="167.60" stroke="#64725d" stroke-width="0.72"/>
<line x1="78.50" y1="164.58" x2="79.13" y2="164.58" stroke="#64725d" stroke-width="0.72"/>
<line x1="79.61" y1="174.73" x2="83.11" y2="174.73" stroke="#64725d" stroke-width="0.72"/>
<line x1="80.65" y1="175.76" x2="83.33" y2="175.76" stroke="#64725d" stroke-width="0.72"/>
<line x1="80.65" y1="177.11" x2="83.70" y2="177.11" stroke="#64725d" stroke-width="0.72"/>
<line x1="80.65" y1="175.76" x2="80.65" y2="177.11" stroke="#64725d" stroke-width="0.72"/>
<line x1="79.61" y1="176.43" x2="80.65" y2="176.43" stroke="#64725d" stroke-width="0.72"/>
<line x1="79.61" y1="174.73" x2="79.61" y2="176.43" stroke="#64725d" stroke-width="0.72"/>
<line x1="79.22" y1="175.58" x2="79.61" y2="175.58" stroke="#64725d" stroke-width="0.72"/>
<line x1="83.20" y1="178.29" x2="85.99" y2="178.29" stroke="#64725d" stroke-width="0.72"/>
<line x1="89.61" y1="179.17" x2="98.25" y2="179.17" stroke="#64725d" stroke-width="0.72"/>
<line x1="90.99" y1="179.87" x2="100.00" y2="179.87" stroke="#64725d" stroke-width="0.72"/>
<line x1="90.99" y1="180.65" x2="94.84" y2="180.65" stroke="#64725d" stroke-width="0.72"/>
<line x1="90.99" y1="179.87" x2="90.99" y2="180.65" stroke="#64725d" stroke-width="0.72"/>
<line x1="89.61" y1="180.26" x2="90.99" y2="180.26" stroke="#64725d" stroke-width="0.72"/>
<line x1="89.61" y1="179.17" x2="89.61" y2="180.26" stroke="#64725d" stroke-width="0.72"/>
<line x1="85.77" y1="179.71" x2="89.61" y2="179.71" stroke="#64725d" stroke-width="0.72"/>
<line x1="87.58" y1="181.16" x2="91.28" y2="181.16" stroke="#64725d" stroke-width="0.72"/>
<line x1="89.40" y1="181.48" x2="93.41" y2="181.48" stroke="#64725d" stroke-width="0.72"/>
<line x1="91.71" y1="182.20" x2="95.30" y2="182.20" stroke="#64725d" stroke-width="0.72"/>
<line x1="91.71" y1="182.96" x2="99.12" y2="182.96" stroke="#64725d" stroke-width="0.72"/>
<line x1="91.71" y1="182.20" x2="91.71" y2="182.96" stroke="#64725d" stroke-width="0.72"/>
<line x1="89.40" y1="182.58" x2="91.71" y2="182.58" stroke="#64725d" stroke-width="0.72"/>
<line x1="89.40" y1="181.48" x2="89.40" y2="182.58" stroke="#64725d" stroke-width="0.72"/>
<line x1="87.58" y1="182.03" x2="89.40" y2="182.03" stroke="#64725d" stroke-width="0.72"/>
<line x1="87.58" y1="181.16" x2="87.58" y2="182.03" stroke="#64725d" stroke-width="0.72"/>
<line x1="86.94" y1="181.60" x2="87.58" y2="181.60" stroke="#64725d" stroke-width="0.72"/>
<line x1="87.50" y1="183.85" x2="92.36" y2="183.85" stroke="#64725d" stroke-width="0.72"/>
<line x1="87.50" y1="185.01" x2="91.46" y2="185.01" stroke="#64725d" stroke-width="0.72"/>
<line x1="87.50" y1="183.85" x2="87.50" y2="185.01" stroke="#64725d" stroke-width="0.72"/>
<line x1="86.94" y1="184.43" x2="87.50" y2="184.43" stroke="#64725d" stroke-width="0.72"/>
<line x1="86.94" y1="181.60" x2="86.94" y2="184.43" stroke="#64725d" stroke-width="0.72"/>
<line x1="85.77" y1="183.01" x2="86.94" y2="183.01" stroke="#64725d" stroke-width="0.72"/>
<line x1="85.77" y1="179.71" x2="85.77" y2="183.01" stroke="#64725d" stroke-width="0.72"/>
<line x1="85.39" y1="181.36" x2="85.77" y2="181.36" stroke="#64725d" stroke-width="0.72"/>
<line x1="91.28" y1="186.02" x2="95.39" y2="186.02" stroke="#64725d" stroke-width="0.72"/>
<line x1="95.49" y1="186.67" x2="97.89" y2="186.67" stroke="#64725d" stroke-width="0.72"/>
<line x1="97.17" y1="186.93" x2="100.00" y2="186.93" stroke="#64725d" stroke-width="0.72"/>
<line x1="98.00" y1="187.43" x2="100.00" y2="187.43" stroke="#64725d" stroke-width="0.72"/>
<line x1="98.00" y1="188.34" x2="100.00" y2="188.34" stroke="#64725d" stroke-width="0.72"/>
<line x1="98.00" y1="187.43" x2="98.00" y2="188.34" stroke="#64725d" stroke-width="0.72"/>
<line x1="97.17" y1="187.89" x2="98.00" y2="187.89" stroke="#64725d" stroke-width="0.72"/>
<line x1="97.17" y1="186.93" x2="97.17" y2="187.89" stroke="#64725d" stroke-width="0.72"/>
<line x1="95.49" y1="187.41" x2="97.17" y2="187.41" stroke="#64725d" stroke-width="0.72"/>
<line x1="95.49" y1="186.67" x2="95.49" y2="187.41" stroke="#64725d" stroke-width="0.72"/>
<line x1="92.03" y1="187.04" x2="95.49" y2="187.04" stroke="#64725d" stroke-width="0.72"/>
<line x1="92.03" y1="189.42" x2="98.14" y2="189.42" stroke="#64725d" stroke-width="0.72"/>
<line x1="92.03" y1="187.04" x2="92.03" y2="189.42" stroke="#64725d" stroke-width="0.72"/>
<line x1="91.28" y1="188.23" x2="92.03" y2="188.23" stroke="#64725d" stroke-width="0.72"/>
<line x1="91.28" y1="186.02" x2="91.28" y2="188.23" stroke="#64725d" stroke-width="0.72"/>
<line x1="85.39" y1="187.12" x2="91.28" y2="187.12" stroke="#64725d" stroke-width="0.72"/>
<line x1="85.39" y1="181.36" x2="85.39" y2="187.12" stroke="#64725d" stroke-width="0.72"/>
<line x1="83.20" y1="184.24" x2="85.39" y2="184.24" stroke="#64725d" stroke-width="0.72"/>
<line x1="83.20" y1="178.29" x2="83.20" y2="184.24" stroke="#64725d" stroke-width="0.72"/>
<line x1="79.22" y1="181.27" x2="83.20" y2="181.27" stroke="#64725d" stroke-width="0.72"/>
<line x1="79.22" y1="175.58" x2="79.22" y2="181.27" stroke="#64725d" stroke-width="0.72"/>
<line x1="78.50" y1="178.43" x2="79.22" y2="178.43" stroke="#64725d" stroke-width="0.72"/>
<line x1="78.50" y1="164.58" x2="78.50" y2="178.43" stroke="#64725d" stroke-width="0.72"/>
<line x1="75.00" y1="171.50" x2="78.50" y2="171.50" stroke="#64725d" stroke-width="0.72"/>
<line x1="84.00" y1="168.20" x2="107.00" y2="168.20" stroke="#888" stroke-width="0.7"/>
<line x1="85.78" y1="190.36" x2="92.06" y2="190.36" stroke="#64725d" stroke-width="0.72"/>
<line x1="85.78" y1="191.31" x2="88.79" y2="191.31" stroke="#64725d" stroke-width="0.72"/>
<line x1="85.78" y1="190.36" x2="85.78" y2="191.31" stroke="#64725d" stroke-width="0.72"/>
<line x1="83.00" y1="190.84" x2="85.78" y2="190.84" stroke="#64725d" stroke-width="0.72"/>
<line x1="87.12" y1="192.08" x2="93.89" y2="192.08" stroke="#64725d" stroke-width="0.72"/>
<line x1="87.12" y1="193.09" x2="89.25" y2="193.09" stroke="#64725d" stroke-width="0.72"/>
<line x1="87.12" y1="192.08" x2="87.12" y2="193.09" stroke="#64725d" stroke-width="0.72"/>
<line x1="86.70" y1="192.59" x2="87.12" y2="192.59" stroke="#64725d" stroke-width="0.72"/>
<line x1="87.30" y1="194.52" x2="91.96" y2="194.52" stroke="#64725d" stroke-width="0.72"/>
<line x1="88.77" y1="195.51" x2="92.36" y2="195.51" stroke="#64725d" stroke-width="0.72"/>
<line x1="88.77" y1="196.37" x2="98.02" y2="196.37" stroke="#64725d" stroke-width="0.72"/>
<line x1="88.77" y1="195.51" x2="88.77" y2="196.37" stroke="#64725d" stroke-width="0.72"/>
<line x1="88.24" y1="195.94" x2="88.77" y2="195.94" stroke="#64725d" stroke-width="0.72"/>
<line x1="89.27" y1="197.66" x2="92.34" y2="197.66" stroke="#64725d" stroke-width="0.72"/>
<line x1="89.27" y1="198.88" x2="93.68" y2="198.88" stroke="#64725d" stroke-width="0.72"/>
<line x1="89.27" y1="197.66" x2="89.27" y2="198.88" stroke="#64725d" stroke-width="0.72"/>
<line x1="88.24" y1="198.27" x2="89.27" y2="198.27" stroke="#64725d" stroke-width="0.72"/>
<line x1="88.24" y1="195.94" x2="88.24" y2="198.27" stroke="#64725d" stroke-width="0.72"/>
<line x1="87.30" y1="197.10" x2="88.24" y2="197.10" stroke="#64725d" stroke-width="0.72"/>
<line x1="87.30" y1="194.52" x2="87.30" y2="197.10" stroke="#64725d" stroke-width="0.72"/>
<line x1="86.70" y1="195.81" x2="87.30" y2="195.81" stroke="#64725d" stroke-width="0.72"/>
<line x1="86.70" y1="192.59" x2="86.70" y2="195.81" stroke="#64725d" stroke-width="0.72"/>
<line x1="85.56" y1="194.20" x2="86.70" y2="194.20" stroke="#64725d" stroke-width="0.72"/>
<line x1="86.62" y1="199.81" x2="92.42" y2="199.81" stroke="#64725d" stroke-width="0.72"/>
<line x1="87.46" y1="200.55" x2="90.06" y2="200.55" stroke="#64725d" stroke-width="0.72"/>
<line x1="88.55" y1="201.04" x2="93.08" y2="201.04" stroke="#64725d" stroke-width="0.72"/>
<line x1="88.55" y1="202.14" x2="92.71" y2="202.14" stroke="#64725d" stroke-width="0.72"/>
<line x1="88.55" y1="201.04" x2="88.55" y2="202.14" stroke="#64725d" stroke-width="0.72"/>
<line x1="87.46" y1="201.59" x2="88.55" y2="201.59" stroke="#64725d" stroke-width="0.72"/>
<line x1="87.46" y1="200.55" x2="87.46" y2="201.59" stroke="#64725d" stroke-width="0.72"/>
<line x1="86.62" y1="201.07" x2="87.46" y2="201.07" stroke="#64725d" stroke-width="0.72"/>
<line x1="86.62" y1="199.81" x2="86.62" y2="201.07" stroke="#64725d" stroke-width="0.72"/>
<line x1="85.56" y1="200.44" x2="86.62" y2="200.44" stroke="#64725d" stroke-width="0.72"/>
<line x1="85.56" y1="194.20" x2="85.56" y2="200.44" stroke="#64725d" stroke-width="0.72"/>
<line x1="84.67" y1="197.32" x2="85.56" y2="197.32" stroke="#64725d" stroke-width="0.72"/>
<line x1="86.92" y1="203.27" x2="92.11" y2="203.27" stroke="#64725d" stroke-width="0.72"/>
<line x1="91.50" y1="204.00" x2="94.20" y2="204.00" stroke="#64725d" stroke-width="0.72"/>
<line x1="93.86" y1="204.62" x2="101.00" y2="204.62" stroke="#64725d" stroke-width="0.72"/>
<line x1="93.86" y1="205.47" x2="95.85" y2="205.47" stroke="#64725d" stroke-width="0.72"/>
<line x1="93.86" y1="204.62" x2="93.86" y2="205.47" stroke="#64725d" stroke-width="0.72"/>
<line x1="91.50" y1="205.05" x2="93.86" y2="205.05" stroke="#64725d" stroke-width="0.72"/>
<line x1="91.50" y1="204.00" x2="91.50" y2="205.05" stroke="#64725d" stroke-width="0.72"/>
<line x1="86.92" y1="204.52" x2="91.50" y2="204.52" stroke="#64725d" stroke-width="0.72"/>
<line x1="86.92" y1="203.27" x2="86.92" y2="204.52" stroke="#64725d" stroke-width="0.72"/>
<line x1="86.13" y1="203.90" x2="86.92" y2="203.90" stroke="#64725d" stroke-width="0.72"/>
<line x1="86.65" y1="206.59" x2="92.00" y2="206.59" stroke="#64725d" stroke-width="0.72"/>
<line x1="86.65" y1="207.43" x2="90.30" y2="207.43" stroke="#64725d" stroke-width="0.72"/>
<line x1="86.65" y1="206.59" x2="86.65" y2="207.43" stroke="#64725d" stroke-width="0.72"/>
<line x1="86.13" y1="207.01" x2="86.65" y2="207.01" stroke="#64725d" stroke-width="0.72"/>
<line x1="86.13" y1="203.90" x2="86.13" y2="207.01" stroke="#64725d" stroke-width="0.72"/>
<line x1="84.67" y1="205.45" x2="86.13" y2="205.45" stroke="#64725d" stroke-width="0.72"/>
<line x1="84.67" y1="197.32" x2="84.67" y2="205.45" stroke="#64725d" stroke-width="0.72"/>
<line x1="83.00" y1="201.39" x2="84.67" y2="201.39" stroke="#64725d" stroke-width="0.72"/>
<line x1="83.00" y1="190.84" x2="83.00" y2="201.39" stroke="#64725d" stroke-width="0.72"/>
<line x1="75.00" y1="196.11" x2="83.00" y2="196.11" stroke="#64725d" stroke-width="0.72"/>
<line x1="75.50" y1="208.30" x2="75.50" y2="269.00" stroke="#999" stroke-width="0.9"/>
<line x1="85.87" y1="209.04" x2="88.63" y2="209.04" stroke="#636a80" stroke-width="0.75"/>
<line x1="85.87" y1="209.75" x2="92.21" y2="209.75" stroke="#636a80" stroke-width="0.75"/>
<line x1="85.87" y1="209.04" x2="85.87" y2="209.75" stroke="#636a80" stroke-width="0.75"/>
<line x1="83.73" y1="209.40" x2="85.87" y2="209.40" stroke="#636a80" stroke-width="0.75"/>
<line x1="83.73" y1="210.35" x2="95.00" y2="210.35" stroke="#636a80" stroke-width="0.75"/>
<line x1="83.73" y1="209.40" x2="83.73" y2="210.35" stroke="#636a80" stroke-width="0.75"/>
<line x1="80.48" y1="209.87" x2="83.73" y2="209.87" stroke="#636a80" stroke-width="0.75"/>
<line x1="80.48" y1="211.26" x2="85.98" y2="211.26" stroke="#636a80" stroke-width="0.75"/>
<line x1="80.48" y1="209.87" x2="80.48" y2="211.26" stroke="#636a80" stroke-width="0.75"/>
<line x1="79.23" y1="210.57" x2="80.48" y2="210.57" stroke="#636a80" stroke-width="0.75"/>
<line x1="82.25" y1="211.95" x2="95.00" y2="211.95" stroke="#636a80" stroke-width="0.75"/>
<line x1="83.25" y1="212.15" x2="89.25" y2="212.15" stroke="#636a80" stroke-width="0.75"/>
<line x1="83.25" y1="212.87" x2="86.84" y2="212.87" stroke="#636a80" stroke-width="0.75"/>
<line x1="83.25" y1="212.15" x2="83.25" y2="212.87" stroke="#636a80" stroke-width="0.75"/>
<line x1="82.25" y1="212.51" x2="83.25" y2="212.51" stroke="#636a80" stroke-width="0.75"/>
<line x1="82.25" y1="211.95" x2="82.25" y2="212.51" stroke="#636a80" stroke-width="0.75"/>
<line x1="79.23" y1="212.23" x2="82.25" y2="212.23" stroke="#636a80" stroke-width="0.75"/>
<line x1="79.23" y1="210.57" x2="79.23" y2="212.23" stroke="#636a80" stroke-width="0.75"/>
<line x1="77.54" y1="211.40" x2="79.23" y2="211.40" stroke="#636a80" stroke-width="0.75"/>
<line x1="79.88" y1="213.92" x2="82.87" y2="213.92" stroke="#636a80" stroke-width="0.75"/>
<line x1="83.84" y1="214.61" x2="89.37" y2="214.61" stroke="#636a80" stroke-width="0.75"/>
<line x1="84.72" y1="215.08" x2="86.96" y2="215.08" stroke="#636a80" stroke-width="0.75"/>
<line x1="85.70" y1="215.96" x2="90.39" y2="215.96" stroke="#636a80" stroke-width="0.75"/>
<line x1="88.64" y1="216.86" x2="95.00" y2="216.86" stroke="#636a80" stroke-width="0.75"/>
<line x1="88.64" y1="217.75" x2="95.00" y2="217.75" stroke="#636a80" stroke-width="0.75"/>
<line x1="88.64" y1="216.86" x2="88.64" y2="217.75" stroke="#636a80" stroke-width="0.75"/>
<line x1="85.70" y1="217.31" x2="88.64" y2="217.31" stroke="#636a80" stroke-width="0.75"/>
<line x1="85.70" y1="215.96" x2="85.70" y2="217.31" stroke="#636a80" stroke-width="0.75"/>
<line x1="84.72" y1="216.64" x2="85.70" y2="216.64" stroke="#636a80" stroke-width="0.75"/>
<line x1="84.72" y1="215.08" x2="84.72" y2="216.64" stroke="#636a80" stroke-width="0.75"/>
<line x1="83.84" y1="215.86" x2="84.72" y2="215.86" stroke="#636a80" stroke-width="0.75"/>
<line x1="83.84" y1="214.61" x2="83.84" y2="215.86" stroke="#636a80" stroke-width="0.75"/>
<line x1="79.88" y1="215.23" x2="83.84" y2="215.23" stroke="#636a80" stroke-width="0.75"/>
<line x1="79.88" y1="213.92" x2="79.88" y2="215.23" stroke="#636a80" stroke-width="0.75"/>
<line x1="77.54" y1="214.58" x2="79.88" y2="214.58" stroke="#636a80" stroke-width="0.75"/>
<line x1="77.54" y1="211.40" x2="77.54" y2="214.58" stroke="#636a80" stroke-width="0.75"/>
<line x1="76.50" y1="212.99" x2="77.54" y2="212.99" stroke="#636a80" stroke-width="0.75"/>
<line x1="82.36" y1="218.73" x2="85.97" y2="218.73" stroke="#636a80" stroke-width="0.75"/>
<line x1="82.36" y1="219.48" x2="95.00" y2="219.48" stroke="#636a80" stroke-width="0.75"/>
<line x1="82.36" y1="218.73" x2="82.36" y2="219.48" stroke="#636a80" stroke-width="0.75"/>
<line x1="81.97" y1="219.11" x2="82.36" y2="219.11" stroke="#636a80" stroke-width="0.75"/>
<line x1="87.03" y1="220.40" x2="91.09" y2="220.40" stroke="#636a80" stroke-width="0.75"/>
<line x1="88.87" y1="221.13" x2="92.89" y2="221.13" stroke="#636a80" stroke-width="0.75"/>
<line x1="93.00" y1="221.58" x2="95.00" y2="221.58" stroke="#636a80" stroke-width="0.75"/>
<line x1="93.00" y1="222.46" x2="95.00" y2="222.46" stroke="#636a80" stroke-width="0.75"/>
<line x1="93.00" y1="221.58" x2="93.00" y2="222.46" stroke="#636a80" stroke-width="0.75"/>
<line x1="92.30" y1="222.02" x2="93.00" y2="222.02" stroke="#636a80" stroke-width="0.75"/>
<line x1="92.30" y1="223.50" x2="94.26" y2="223.50" stroke="#636a80" stroke-width="0.75"/>
<line x1="92.30" y1="222.02" x2="92.30" y2="223.50" stroke="#636a80" stroke-width="0.75"/>
<line x1="88.87" y1="222.76" x2="92.30" y2="222.76" stroke="#636a80" stroke-width="0.75"/>
<line x1="88.87" y1="221.13" x2="88.87" y2="222.76" stroke="#636a80" stroke-width="0.75"/>
<line x1="87.03" y1="221.95" x2="88.87" y2="221.95" stroke="#636a80" stroke-width="0.75"/>
<line x1="87.03" y1="220.40" x2="87.03" y2="221.95" stroke="#636a80" stroke-width="0.75"/>
<line x1="86.71" y1="221.17" x2="87.03" y2="221.17" stroke="#636a80" stroke-width="0.75"/>
<line x1="88.62" y1="224.09" x2="92.59" y2="224.09" stroke="#636a80" stroke-width="0.75"/>
<line x1="88.62" y1="224.82" x2="95.00" y2="224.82" stroke="#636a80" stroke-width="0.75"/>
<line x1="88.62" y1="224.09" x2="88.62" y2="224.82" stroke="#636a80" stroke-width="0.75"/>
<line x1="88.13" y1="224.46" x2="88.62" y2="224.46" stroke="#636a80" stroke-width="0.75"/>
<line x1="89.58" y1="225.99" x2="91.75" y2="225.99" stroke="#636a80" stroke-width="0.75"/>
<line x1="92.60" y1="226.98" x2="95.00" y2="226.98" stroke="#636a80" stroke-width="0.75"/>
<line x1="93.00" y1="227.44" x2="95.00" y2="227.44" stroke="#636a80" stroke-width="0.75"/>
<line x1="93.00" y1="227.85" x2="95.00" y2="227.85" stroke="#636a80" stroke-width="0.75"/>
<line x1="93.00" y1="228.72" x2="95.00" y2="228.72" stroke="#636a80" stroke-width="0.75"/>
<line x1="93.00" y1="229.66" x2="95.00" y2="229.66" stroke="#636a80" stroke-width="0.75"/>
<line x1="93.00" y1="228.72" x2="93.00" y2="229.66" stroke="#636a80" stroke-width="0.75"/>
<line x1="93.00" y1="227.85" x2="93.00" y2="229.19" stroke="#636a80" stroke-width="0.75"/>
<line x1="93.00" y1="227.44" x2="93.00" y2="228.52" stroke="#636a80" stroke-width="0.75"/>
<line x1="92.60" y1="227.98" x2="93.00" y2="227.98" stroke="#636a80" stroke-width="0.75"/>
<line x1="92.60" y1="226.98" x2="92.60" y2="227.98" stroke="#636a80" stroke-width="0.75"/>
<line x1="89.58" y1="227.48" x2="92.60" y2="227.48" stroke="#636a80" stroke-width="0.75"/>
<line x1="89.58" y1="225.99" x2="89.58" y2="227.48" stroke="#636a80" stroke-width="0.75"/>
<line x1="88.13" y1="226.74" x2="89.58" y2="226.74" stroke="#636a80" stroke-width="0.75"/>
<line x1="88.13" y1="224.46" x2="88.13" y2="226.74" stroke="#636a80" stroke-width="0.75"/>
<line x1="86.71" y1="225.60" x2="88.13" y2="225.60" stroke="#636a80" stroke-width="0.75"/>
<line x1="86.71" y1="221.17" x2="86.71" y2="225.60" stroke="#636a80" stroke-width="0.75"/>
<line x1="81.97" y1="223.38" x2="86.71" y2="223.38" stroke="#636a80" stroke-width="0.75"/>
<line x1="81.97" y1="219.11" x2="81.97" y2="223.38" stroke="#636a80" stroke-width="0.75"/>
<line x1="76.50" y1="221.25" x2="81.97" y2="221.25" stroke="#636a80" stroke-width="0.75"/>
<line x1="76.50" y1="212.99" x2="76.50" y2="221.25" stroke="#636a80" stroke-width="0.75"/>
<line x1="75.50" y1="217.12" x2="76.50" y2="217.12" stroke="#636a80" stroke-width="0.75"/>
<line x1="89.87" y1="230.37" x2="93.36" y2="230.37" stroke="#636a80" stroke-width="0.7"/>
<line x1="90.79" y1="231.16" x2="95.82" y2="231.16" stroke="#636a80" stroke-width="0.7"/>
<line x1="91.56" y1="232.00" x2="95.11" y2="232.00" stroke="#636a80" stroke-width="0.7"/>
<line x1="93.60" y1="232.77" x2="97.00" y2="232.77" stroke="#636a80" stroke-width="0.7"/>
<line x1="93.60" y1="233.80" x2="97.00" y2="233.80" stroke="#636a80" stroke-width="0.7"/>
<line x1="93.60" y1="232.77" x2="93.60" y2="233.80" stroke="#636a80" stroke-width="0.7"/>
<line x1="91.56" y1="233.29" x2="93.60" y2="233.29" stroke="#636a80" stroke-width="0.7"/>
<line x1="91.56" y1="232.00" x2="91.56" y2="233.29" stroke="#636a80" stroke-width="0.7"/>
<line x1="90.79" y1="232.64" x2="91.56" y2="232.64" stroke="#636a80" stroke-width="0.7"/>
<line x1="90.79" y1="231.16" x2="90.79" y2="232.64" stroke="#636a80" stroke-width="0.7"/>
<line x1="89.87" y1="231.90" x2="90.79" y2="231.90" stroke="#636a80" stroke-width="0.7"/>
<line x1="89.87" y1="230.37" x2="89.87" y2="231.90" stroke="#636a80" stroke-width="0.7"/>
<line x1="89.22" y1="231.13" x2="89.87" y2="231.13" stroke="#636a80" stroke-width="0.7"/>
<line x1="90.87" y1="234.72" x2="95.12" y2="234.72" stroke="#636a80" stroke-width="0.7"/>
<line x1="92.45" y1="235.09" x2="94.13" y2="235.09" stroke="#636a80" stroke-width="0.7"/>
<line x1="93.57" y1="235.69" x2="97.00" y2="235.69" stroke="#636a80" stroke-width="0.7"/>
<line x1="93.57" y1="236.71" x2="97.00" y2="236.71" stroke="#636a80" stroke-width="0.7"/>
<line x1="93.57" y1="235.69" x2="93.57" y2="236.71" stroke="#636a80" stroke-width="0.7"/>
<line x1="92.45" y1="236.20" x2="93.57" y2="236.20" stroke="#636a80" stroke-width="0.7"/>
<line x1="92.45" y1="235.09" x2="92.45" y2="236.20" stroke="#636a80" stroke-width="0.7"/>
<line x1="90.87" y1="235.64" x2="92.45" y2="235.64" stroke="#636a80" stroke-width="0.7"/>
<line x1="90.87" y1="234.72" x2="90.87" y2="235.64" stroke="#636a80" stroke-width="0.7"/>
<line x1="89.22" y1="235.18" x2="90.87" y2="235.18" stroke="#636a80" stroke-width="0.7"/>
<line x1="89.22" y1="231.13" x2="89.22" y2="235.18" stroke="#636a80" stroke-width="0.7"/>
<line x1="88.00" y1="233.16" x2="89.22" y2="233.16" stroke="#636a80" stroke-width="0.7"/>
<line x1="89.61" y1="237.75" x2="97.00" y2="237.75" stroke="#636a80" stroke-width="0.7"/>
<line x1="91.98" y1="238.77" x2="96.51" y2="238.77" stroke="#636a80" stroke-width="0.7"/>
<line x1="92.98" y1="239.46" x2="97.00" y2="239.46" stroke="#636a80" stroke-width="0.7"/>
<line x1="95.00" y1="240.00" x2="97.00" y2="240.00" stroke="#636a80" stroke-width="0.7"/>
<line x1="95.00" y1="240.96" x2="97.00" y2="240.96" stroke="#636a80" stroke-width="0.7"/>
<line x1="95.00" y1="240.00" x2="95.00" y2="240.96" stroke="#636a80" stroke-width="0.7"/>
<line x1="92.98" y1="240.48" x2="95.00" y2="240.48" stroke="#636a80" stroke-width="0.7"/>
<line x1="92.98" y1="239.46" x2="92.98" y2="240.48" stroke="#636a80" stroke-width="0.7"/>
<line x1="91.98" y1="239.97" x2="92.98" y2="239.97" stroke="#636a80" stroke-width="0.7"/>
<line x1="91.98" y1="238.77" x2="91.98" y2="239.97" stroke="#636a80" stroke-width="0.7"/>
<line x1="89.61" y1="239.37" x2="91.98" y2="239.37" stroke="#636a80" stroke-width="0.7"/>
<line x1="89.61" y1="237.75" x2="89.61" y2="239.37" stroke="#636a80" stroke-width="0.7"/>
<line x1="88.51" y1="238.56" x2="89.61" y2="238.56" stroke="#636a80" stroke-width="0.7"/>
<line x1="91.21" y1="241.88" x2="97.00" y2="241.88" stroke="#636a80" stroke-width="0.7"/>
<line x1="91.97" y1="242.58" x2="95.55" y2="242.58" stroke="#636a80" stroke-width="0.7"/>
<line x1="91.97" y1="243.60" x2="96.79" y2="243.60" stroke="#636a80" stroke-width="0.7"/>
<line x1="91.97" y1="242.58" x2="91.97" y2="243.60" stroke="#636a80" stroke-width="0.7"/>
<line x1="91.21" y1="243.09" x2="91.97" y2="243.09" stroke="#636a80" stroke-width="0.7"/>
<line x1="91.21" y1="241.88" x2="91.21" y2="243.09" stroke="#636a80" stroke-width="0.7"/>
<line x1="89.03" y1="242.49" x2="91.21" y2="242.49" stroke="#636a80" stroke-width="0.7"/>
<line x1="95.00" y1="244.41" x2="97.00" y2="244.41" stroke="#636a80" stroke-width="0.7"/>
<line x1="95.00" y1="245.30" x2="97.00" y2="245.30" stroke="#636a80" stroke-width="0.7"/>
<line x1="95.00" y1="244.41" x2="95.00" y2="245.30" stroke="#636a80" stroke-width="0.7"/>
<line x1="95.00" y1="246.33" x2="97.00" y2="246.33" stroke="#636a80" stroke-width="0.7"/>
<line x1="95.00" y1="246.81" x2="96.50" y2="246.81" stroke="#636a80" stroke-width="0.7"/>
<line x1="95.00" y1="247.65" x2="97.00" y2="247.65" stroke="#636a80" stroke-width="0.7"/>
<line x1="95.00" y1="246.81" x2="95.00" y2="247.65" stroke="#636a80" stroke-width="0.7"/>
<line x1="95.00" y1="246.33" x2="95.00" y2="247.23" stroke="#636a80" stroke-width="0.7"/>
<line x1="95.00" y1="248.87" x2="97.00" y2="248.87" stroke="#636a80" stroke-width="0.7"/>
<line x1="95.00" y1="249.85" x2="97.00" y2="249.85" stroke="#636a80" stroke-width="0.7"/>
<line x1="95.00" y1="248.87" x2="95.00" y2="249.85" stroke="#636a80" stroke-width="0.7"/>
<line x1="95.00" y1="246.78" x2="95.00" y2="249.36" stroke="#636a80" stroke-width="0.7"/>
<line x1="95.00" y1="244.85" x2="95.00" y2="248.07" stroke="#636a80" stroke-width="0.7"/>
<line x1="94.72" y1="246.46" x2="95.00" y2="246.46" stroke="#636a80" stroke-width="0.7"/>
<line x1="95.00" y1="250.49" x2="96.48" y2="250.49" stroke="#636a80" stroke-width="0.7"/>
<line x1="95.00" y1="250.95" x2="97.00" y2="250.95" stroke="#636a80" stroke-width="0.7"/>
<line x1="95.00" y1="251.53" x2="97.00" y2="251.53" stroke="#636a80" stroke-width="0.7"/>
<line x1="95.00" y1="252.07" x2="97.00" y2="252.07" stroke="#636a80" stroke-width="0.7"/>
<line x1="95.00" y1="252.74" x2="97.00" y2="252.74" stroke="#636a80" stroke-width="0.7"/>
<line x1="95.00" y1="253.70" x2="97.00" y2="253.70" stroke="#636a80" stroke-width="0.7"/>
<line x1="95.00" y1="252.74" x2="95.00" y2="253.70" stroke="#636a80" stroke-width="0.7"/>
<line x1="95.00" y1="252.07" x2="95.00" y2="253.22" stroke="#636a80" stroke-width="0.7"/>
<line x1="95.00" y1="251.53" x2="95.00" y2="252.65" stroke="#636a80" stroke-width="0.7"/>
<line x1="95.00" y1="250.95" x2="95.00" y2="252.09" stroke="#636a80" stroke-width="0.7"/>
<line x1="95.00" y1="250.49" x2="95.00" y2="251.52" stroke="#636a80" stroke-width="0.7"/>
<line x1="95.00" y1="254.39" x2="96.14" y2="254.39" stroke="#636a80" stroke-width="0.7"/>
<line x1="95.00" y1="255.22" x2="97.00" y2="255.22" stroke="#636a80" stroke-width="0.7"/>
<line x1="95.00" y1="256.18" x2="96.91" y2="256.18" stroke="#636a80" stroke-width="0.7"/>
<line x1="95.00" y1="255.22" x2="95.00" y2="256.18" stroke="#636a80" stroke-width="0.7"/>
<line x1="95.00" y1="254.39" x2="95.00" y2="255.70" stroke="#636a80" stroke-width="0.7"/>
<line x1="95.00" y1="256.93" x2="97.00" y2="256.93" stroke="#636a80" stroke-width="0.7"/>
<line x1="95.00" y1="257.73" x2="96.68" y2="257.73" stroke="#636a80" stroke-width="0.7"/>
<line x1="95.00" y1="258.72" x2="97.00" y2="258.72" stroke="#636a80" stroke-width="0.7"/>
<line x1="95.00" y1="260.02" x2="97.00" y2="260.02" stroke="#636a80" stroke-width="0.7"/>
<line x1="95.00" y1="260.97" x2="97.00" y2="260.97" stroke="#636a80" stroke-width="0.7"/>
<line x1="95.00" y1="261.34" x2="96.16" y2="261.34" stroke="#636a80" stroke-width="0.7"/>
<line x1="95.00" y1="262.14" x2="97.00" y2="262.14" stroke="#636a80" stroke-width="0.7"/>
<line x1="95.00" y1="261.34" x2="95.00" y2="262.14" stroke="#636a80" stroke-width="0.7"/>
<line x1="95.00" y1="260.97" x2="95.00" y2="261.74" stroke="#636a80" stroke-width="0.7"/>
<line x1="95.00" y1="260.02" x2="95.00" y2="261.35" stroke="#636a80" stroke-width="0.7"/>
<line x1="95.00" y1="263.44" x2="96.12" y2="263.44" stroke="#636a80" stroke-width="0.7"/>
<line x1="95.00" y1="264.78" x2="96.08" y2="264.78" stroke="#636a80" stroke-width="0.7"/>
<line x1="95.00" y1="263.44" x2="95.00" y2="264.78" stroke="#636a80" stroke-width="0.7"/>
<line x1="95.00" y1="260.69" x2="95.00" y2="264.11" stroke="#636a80" stroke-width="0.7"/>
<line x1="95.00" y1="258.72" x2="95.00" y2="262.40" stroke="#636a80" stroke-width="0.7"/>
<line x1="95.00" y1="257.73" x2="95.00" y2="260.56" stroke="#636a80" stroke-width="0.7"/>
<line x1="95.00" y1="256.93" x2="95.00" y2="259.14" stroke="#636a80" stroke-width="0.7"/>
<line x1="95.00" y1="255.04" x2="95.00" y2="258.04" stroke="#636a80" stroke-width="0.7"/>
<line x1="95.00" y1="251.01" x2="95.00" y2="256.54" stroke="#636a80" stroke-width="0.7"/>
<line x1="94.72" y1="253.77" x2="95.00" y2="253.77" stroke="#636a80" stroke-width="0.7"/>
<line x1="94.72" y1="246.46" x2="94.72" y2="253.77" stroke="#636a80" stroke-width="0.7"/>
<line x1="89.03" y1="250.12" x2="94.72" y2="250.12" stroke="#636a80" stroke-width="0.7"/>
<line x1="89.03" y1="242.49" x2="89.03" y2="250.12" stroke="#636a80" stroke-width="0.7"/>
<line x1="88.51" y1="246.30" x2="89.03" y2="246.30" stroke="#636a80" stroke-width="0.7"/>
<line x1="88.51" y1="238.56" x2="88.51" y2="246.30" stroke="#636a80" stroke-width="0.7"/>
<line x1="88.00" y1="242.43" x2="88.51" y2="242.43" stroke="#636a80" stroke-width="0.7"/>
<line x1="88.00" y1="233.16" x2="88.00" y2="242.43" stroke="#636a80" stroke-width="0.7"/>
<line x1="75.50" y1="237.79" x2="88.00" y2="237.79" stroke="#636a80" stroke-width="0.7"/>
<line x1="90.00" y1="224.50" x2="133.00" y2="224.50" stroke="#6d7488" stroke-width="0.8"/>
<line x1="88.00" y1="233.20" x2="110.00" y2="233.20" stroke="#6d7488" stroke-width="0.7"/>
<line x1="88.00" y1="244.50" x2="105.00" y2="244.50" stroke="#6d7488" stroke-width="0.7"/>
<line x1="88.00" y1="245.80" x2="104.00" y2="245.80" stroke="#6d7488" stroke-width="0.7"/>
<line x1="75.50" y1="269.00" x2="78.50" y2="269.00" stroke="#777" stroke-width="0.8"/>
<line x1="78.50" y1="266.50" x2="78.50" y2="292.00" stroke="#777" stroke-width="0.8"/>
<line x1="82.61" y1="266.30" x2="96.00" y2="266.30" stroke="#75686a" stroke-width="0.6"/>
<line x1="85.65" y1="266.89" x2="87.40" y2="266.89" stroke="#75686a" stroke-width="0.6"/>
<line x1="88.70" y1="267.44" x2="95.65" y2="267.44" stroke="#75686a" stroke-width="0.6"/>
<line x1="88.70" y1="268.48" x2="96.00" y2="268.48" stroke="#75686a" stroke-width="0.6"/>
<line x1="88.70" y1="267.44" x2="88.70" y2="268.48" stroke="#75686a" stroke-width="0.6"/>
<line x1="85.65" y1="267.96" x2="88.70" y2="267.96" stroke="#75686a" stroke-width="0.6"/>
<line x1="85.65" y1="266.89" x2="85.65" y2="267.96" stroke="#75686a" stroke-width="0.6"/>
<line x1="82.61" y1="267.43" x2="85.65" y2="267.43" stroke="#75686a" stroke-width="0.6"/>
<line x1="82.61" y1="266.30" x2="82.61" y2="267.43" stroke="#75686a" stroke-width="0.6"/>
<line x1="81.98" y1="266.86" x2="82.61" y2="266.86" stroke="#75686a" stroke-width="0.6"/>
<line x1="81.98" y1="270.12" x2="86.03" y2="270.12" stroke="#75686a" stroke-width="0.6"/>
<line x1="81.98" y1="266.86" x2="81.98" y2="270.12" stroke="#75686a" stroke-width="0.6"/>
<line x1="81.33" y1="268.49" x2="81.98" y2="268.49" stroke="#75686a" stroke-width="0.6"/>
<line x1="83.44" y1="271.23" x2="87.10" y2="271.23" stroke="#75686a" stroke-width="0.6"/>
<line x1="84.20" y1="271.82" x2="90.56" y2="271.82" stroke="#75686a" stroke-width="0.6"/>
<line x1="85.26" y1="272.78" x2="93.49" y2="272.78" stroke="#75686a" stroke-width="0.6"/>
<line x1="85.26" y1="273.93" x2="89.94" y2="273.93" stroke="#75686a" stroke-width="0.6"/>
<line x1="85.26" y1="272.78" x2="85.26" y2="273.93" stroke="#75686a" stroke-width="0.6"/>
<line x1="84.20" y1="273.36" x2="85.26" y2="273.36" stroke="#75686a" stroke-width="0.6"/>
<line x1="84.20" y1="271.82" x2="84.20" y2="273.36" stroke="#75686a" stroke-width="0.6"/>
<line x1="83.44" y1="272.59" x2="84.20" y2="272.59" stroke="#75686a" stroke-width="0.6"/>
<line x1="83.44" y1="271.23" x2="83.44" y2="272.59" stroke="#75686a" stroke-width="0.6"/>
<line x1="82.26" y1="271.91" x2="83.44" y2="271.91" stroke="#75686a" stroke-width="0.6"/>
<line x1="82.26" y1="275.31" x2="84.66" y2="275.31" stroke="#75686a" stroke-width="0.6"/>
<line x1="82.26" y1="271.91" x2="82.26" y2="275.31" stroke="#75686a" stroke-width="0.6"/>
<line x1="81.33" y1="273.61" x2="82.26" y2="273.61" stroke="#75686a" stroke-width="0.6"/>
<line x1="81.33" y1="268.49" x2="81.33" y2="273.61" stroke="#75686a" stroke-width="0.6"/>
<line x1="80.00" y1="271.05" x2="81.33" y2="271.05" stroke="#75686a" stroke-width="0.6"/>
<line x1="90.17" y1="276.61" x2="92.38" y2="276.61" stroke="#75686a" stroke-width="0.6"/>
<line x1="91.77" y1="277.55" x2="96.00" y2="277.55" stroke="#75686a" stroke-width="0.6"/>
<line x1="92.68" y1="278.23" x2="96.00" y2="278.23" stroke="#75686a" stroke-width="0.6"/>
<line x1="93.42" y1="278.80" x2="96.00" y2="278.80" stroke="#75686a" stroke-width="0.6"/>
<line x1="93.42" y1="279.99" x2="96.00" y2="279.99" stroke="#75686a" stroke-width="0.6"/>
<line x1="93.42" y1="278.80" x2="93.42" y2="279.99" stroke="#75686a" stroke-width="0.6"/>
<line x1="92.68" y1="279.39" x2="93.42" y2="279.39" stroke="#75686a" stroke-width="0.6"/>
<line x1="92.68" y1="278.23" x2="92.68" y2="279.39" stroke="#75686a" stroke-width="0.6"/>
<line x1="91.77" y1="278.81" x2="92.68" y2="278.81" stroke="#75686a" stroke-width="0.6"/>
<line x1="91.77" y1="277.55" x2="91.77" y2="278.81" stroke="#75686a" stroke-width="0.6"/>
<line x1="90.17" y1="278.18" x2="91.77" y2="278.18" stroke="#75686a" stroke-width="0.6"/>
<line x1="90.17" y1="276.61" x2="90.17" y2="278.18" stroke="#75686a" stroke-width="0.6"/>
<line x1="83.76" y1="277.40" x2="90.17" y2="277.40" stroke="#75686a" stroke-width="0.6"/>
<line x1="84.96" y1="281.36" x2="88.59" y2="281.36" stroke="#75686a" stroke-width="0.6"/>
<line x1="89.49" y1="282.26" x2="91.73" y2="282.26" stroke="#75686a" stroke-width="0.6"/>
<line x1="91.12" y1="282.89" x2="95.41" y2="282.89" stroke="#75686a" stroke-width="0.6"/>
<line x1="91.12" y1="283.95" x2="96.00" y2="283.95" stroke="#75686a" stroke-width="0.6"/>
<line x1="91.12" y1="282.89" x2="91.12" y2="283.95" stroke="#75686a" stroke-width="0.6"/>
<line x1="89.49" y1="283.42" x2="91.12" y2="283.42" stroke="#75686a" stroke-width="0.6"/>
<line x1="89.49" y1="282.26" x2="89.49" y2="283.42" stroke="#75686a" stroke-width="0.6"/>
<line x1="88.09" y1="282.84" x2="89.49" y2="282.84" stroke="#75686a" stroke-width="0.6"/>
<line x1="92.22" y1="284.97" x2="96.00" y2="284.97" stroke="#75686a" stroke-width="0.6"/>
<line x1="92.22" y1="286.03" x2="96.00" y2="286.03" stroke="#75686a" stroke-width="0.6"/>
<line x1="92.22" y1="284.97" x2="92.22" y2="286.03" stroke="#75686a" stroke-width="0.6"/>
<line x1="88.09" y1="285.50" x2="92.22" y2="285.50" stroke="#75686a" stroke-width="0.6"/>
<line x1="88.09" y1="282.84" x2="88.09" y2="285.50" stroke="#75686a" stroke-width="0.6"/>
<line x1="86.70" y1="284.17" x2="88.09" y2="284.17" stroke="#75686a" stroke-width="0.6"/>
<line x1="88.05" y1="287.30" x2="89.69" y2="287.30" stroke="#75686a" stroke-width="0.6"/>
<line x1="88.74" y1="287.92" x2="94.92" y2="287.92" stroke="#75686a" stroke-width="0.6"/>
<line x1="89.61" y1="288.38" x2="96.00" y2="288.38" stroke="#75686a" stroke-width="0.6"/>
<line x1="89.61" y1="289.32" x2="92.73" y2="289.32" stroke="#75686a" stroke-width="0.6"/>
<line x1="89.61" y1="288.38" x2="89.61" y2="289.32" stroke="#75686a" stroke-width="0.6"/>
<line x1="88.74" y1="288.85" x2="89.61" y2="288.85" stroke="#75686a" stroke-width="0.6"/>
<line x1="88.74" y1="287.92" x2="88.74" y2="288.85" stroke="#75686a" stroke-width="0.6"/>
<line x1="88.05" y1="288.39" x2="88.74" y2="288.39" stroke="#75686a" stroke-width="0.6"/>
<line x1="88.05" y1="287.30" x2="88.05" y2="288.39" stroke="#75686a" stroke-width="0.6"/>
<line x1="86.70" y1="287.84" x2="88.05" y2="287.84" stroke="#75686a" stroke-width="0.6"/>
<line x1="86.70" y1="284.17" x2="86.70" y2="287.84" stroke="#75686a" stroke-width="0.6"/>
<line x1="84.96" y1="286.01" x2="86.70" y2="286.01" stroke="#75686a" stroke-width="0.6"/>
<line x1="84.96" y1="281.36" x2="84.96" y2="286.01" stroke="#75686a" stroke-width="0.6"/>
<line x1="83.76" y1="283.68" x2="84.96" y2="283.68" stroke="#75686a" stroke-width="0.6"/>
<line x1="83.76" y1="277.40" x2="83.76" y2="283.68" stroke="#75686a" stroke-width="0.6"/>
<line x1="80.00" y1="280.54" x2="83.76" y2="280.54" stroke="#75686a" stroke-width="0.6"/>
<line x1="80.00" y1="271.05" x2="80.00" y2="280.54" stroke="#75686a" stroke-width="0.6"/>
<line x1="78.50" y1="275.79" x2="80.00" y2="275.79" stroke="#75686a" stroke-width="0.6"/>
<line x1="82.00" y1="271.70" x2="131.00" y2="271.70" stroke="#8e7e80" stroke-width="0.9"/>
<line x1="131.00" y1="271.70" x2="136.80" y2="271.70" stroke="#c0a8ac" stroke-width="0.6"/>
<rect x="129.7" y="270.3" width="5" height="2.6" rx="0.8" fill="#2a2a2a" transform="rotate(-55 132.2 271.6)"/>
<line x1="85.80" y1="290.00" x2="85.80" y2="575.50" stroke="#444" stroke-width="0.9"/>
<line x1="78.50" y1="292.00" x2="85.80" y2="292.00" stroke="#777" stroke-width="0.8"/>
<line x1="86.50" y1="290.89" x2="90.29" y2="290.89" stroke="#5a4e50" stroke-width="0.68"/>
<line x1="87.45" y1="292.49" x2="94.38" y2="292.49" stroke="#5a4e50" stroke-width="0.68"/>
<line x1="88.06" y1="293.79" x2="94.07" y2="293.79" stroke="#5a4e50" stroke-width="0.68"/>
<line x1="91.07" y1="294.75" x2="96.01" y2="294.75" stroke="#5a4e50" stroke-width="0.68"/>
<line x1="91.07" y1="295.99" x2="100.00" y2="295.99" stroke="#5a4e50" stroke-width="0.68"/>
<line x1="91.07" y1="294.75" x2="91.07" y2="295.99" stroke="#5a4e50" stroke-width="0.68"/>
<line x1="89.97" y1="295.37" x2="91.07" y2="295.37" stroke="#5a4e50" stroke-width="0.68"/>
<line x1="91.02" y1="297.32" x2="95.05" y2="297.32" stroke="#5a4e50" stroke-width="0.68"/>
<line x1="91.56" y1="298.54" x2="94.99" y2="298.54" stroke="#5a4e50" stroke-width="0.68"/>
<line x1="92.49" y1="299.41" x2="100.00" y2="299.41" stroke="#5a4e50" stroke-width="0.68"/>
<line x1="94.72" y1="299.69" x2="98.77" y2="299.69" stroke="#5a4e50" stroke-width="0.68"/>
<line x1="95.55" y1="300.34" x2="99.83" y2="300.34" stroke="#5a4e50" stroke-width="0.68"/>
<line x1="95.55" y1="301.41" x2="99.10" y2="301.41" stroke="#5a4e50" stroke-width="0.68"/>
<line x1="95.55" y1="300.34" x2="95.55" y2="301.41" stroke="#5a4e50" stroke-width="0.68"/>
<line x1="94.72" y1="300.87" x2="95.55" y2="300.87" stroke="#5a4e50" stroke-width="0.68"/>
<line x1="94.72" y1="299.69" x2="94.72" y2="300.87" stroke="#5a4e50" stroke-width="0.68"/>
<line x1="92.49" y1="300.28" x2="94.72" y2="300.28" stroke="#5a4e50" stroke-width="0.68"/>
<line x1="92.49" y1="299.41" x2="92.49" y2="300.28" stroke="#5a4e50" stroke-width="0.68"/>
<line x1="91.56" y1="299.85" x2="92.49" y2="299.85" stroke="#5a4e50" stroke-width="0.68"/>
<line x1="91.56" y1="298.54" x2="91.56" y2="299.85" stroke="#5a4e50" stroke-width="0.68"/>
<line x1="91.02" y1="299.19" x2="91.56" y2="299.19" stroke="#5a4e50" stroke-width="0.68"/>
<line x1="91.02" y1="297.32" x2="91.02" y2="299.19" stroke="#5a4e50" stroke-width="0.68"/>
<line x1="89.97" y1="298.26" x2="91.02" y2="298.26" stroke="#5a4e50" stroke-width="0.68"/>
<line x1="89.97" y1="295.37" x2="89.97" y2="298.26" stroke="#5a4e50" stroke-width="0.68"/>
<line x1="88.06" y1="296.81" x2="89.97" y2="296.81" stroke="#5a4e50" stroke-width="0.68"/>
<line x1="88.06" y1="293.79" x2="88.06" y2="296.81" stroke="#5a4e50" stroke-width="0.68"/>
<line x1="87.45" y1="295.30" x2="88.06" y2="295.30" stroke="#5a4e50" stroke-width="0.68"/>
<line x1="87.45" y1="292.49" x2="87.45" y2="295.30" stroke="#5a4e50" stroke-width="0.68"/>
<line x1="86.50" y1="293.90" x2="87.45" y2="293.90" stroke="#5a4e50" stroke-width="0.68"/>
<line x1="86.50" y1="290.89" x2="86.50" y2="293.90" stroke="#5a4e50" stroke-width="0.68"/>
<line x1="85.80" y1="292.39" x2="86.50" y2="292.39" stroke="#5a4e50" stroke-width="0.68"/>
<line x1="88.24" y1="302.19" x2="94.81" y2="302.19" stroke="#5a4e50" stroke-width="0.68"/>
<line x1="88.24" y1="303.34" x2="90.69" y2="303.34" stroke="#5a4e50" stroke-width="0.68"/>
<line x1="88.24" y1="302.19" x2="88.24" y2="303.34" stroke="#5a4e50" stroke-width="0.68"/>
<line x1="86.87" y1="302.77" x2="88.24" y2="302.77" stroke="#5a4e50" stroke-width="0.68"/>
<line x1="86.87" y1="304.94" x2="91.31" y2="304.94" stroke="#5a4e50" stroke-width="0.68"/>
<line x1="86.87" y1="302.77" x2="86.87" y2="304.94" stroke="#5a4e50" stroke-width="0.68"/>
<line x1="86.50" y1="303.85" x2="86.87" y2="303.85" stroke="#5a4e50" stroke-width="0.68"/>
<line x1="87.92" y1="305.80" x2="95.00" y2="305.80" stroke="#5a4e50" stroke-width="0.68"/>
<line x1="87.92" y1="307.04" x2="92.26" y2="307.04" stroke="#5a4e50" stroke-width="0.68"/>
<line x1="87.92" y1="305.80" x2="87.92" y2="307.04" stroke="#5a4e50" stroke-width="0.68"/>
<line x1="87.40" y1="306.42" x2="87.92" y2="306.42" stroke="#5a4e50" stroke-width="0.68"/>
<line x1="89.00" y1="308.91" x2="91.09" y2="308.91" stroke="#5a4e50" stroke-width="0.68"/>
<line x1="89.00" y1="310.81" x2="91.13" y2="310.81" stroke="#5a4e50" stroke-width="0.68"/>
<line x1="89.00" y1="308.91" x2="89.00" y2="310.81" stroke="#5a4e50" stroke-width="0.68"/>
<line x1="88.12" y1="309.86" x2="89.00" y2="309.86" stroke="#5a4e50" stroke-width="0.68"/>
<line x1="88.69" y1="312.73" x2="92.40" y2="312.73" stroke="#5a4e50" stroke-width="0.68"/>
<line x1="89.50" y1="314.23" x2="93.90" y2="314.23" stroke="#5a4e50" stroke-width="0.68"/>
<line x1="91.39" y1="315.34" x2="93.33" y2="315.34" stroke="#5a4e50" stroke-width="0.68"/>
<line x1="91.39" y1="316.91" x2="95.00" y2="316.91" stroke="#5a4e50" stroke-width="0.68"/>
<line x1="91.39" y1="315.34" x2="91.39" y2="316.91" stroke="#5a4e50" stroke-width="0.68"/>
<line x1="89.50" y1="316.13" x2="91.39" y2="316.13" stroke="#5a4e50" stroke-width="0.68"/>
<line x1="89.50" y1="314.23" x2="89.50" y2="316.13" stroke="#5a4e50" stroke-width="0.68"/>
<line x1="88.69" y1="315.18" x2="89.50" y2="315.18" stroke="#5a4e50" stroke-width="0.68"/>
<line x1="88.69" y1="312.73" x2="88.69" y2="315.18" stroke="#5a4e50" stroke-width="0.68"/>
<line x1="88.12" y1="313.95" x2="88.69" y2="313.95" stroke="#5a4e50" stroke-width="0.68"/>
<line x1="88.12" y1="309.86" x2="88.12" y2="313.95" stroke="#5a4e50" stroke-width="0.68"/>
<line x1="87.40" y1="311.91" x2="88.12" y2="311.91" stroke="#5a4e50" stroke-width="0.68"/>
<line x1="87.40" y1="306.42" x2="87.40" y2="311.91" stroke="#5a4e50" stroke-width="0.68"/>
<line x1="86.50" y1="309.16" x2="87.40" y2="309.16" stroke="#5a4e50" stroke-width="0.68"/>
<line x1="86.50" y1="303.85" x2="86.50" y2="309.16" stroke="#5a4e50" stroke-width="0.68"/>
<line x1="85.80" y1="306.51" x2="86.50" y2="306.51" stroke="#5a4e50" stroke-width="0.68"/>
<line x1="88.18" y1="318.25" x2="91.34" y2="318.25" stroke="#5a4e50" stroke-width="0.68"/>
<line x1="88.84" y1="318.74" x2="91.09" y2="318.74" stroke="#5a4e50" stroke-width="0.68"/>
<line x1="90.09" y1="319.54" x2="93.26" y2="319.54" stroke="#5a4e50" stroke-width="0.68"/>
<line x1="90.09" y1="320.92" x2="93.10" y2="320.92" stroke="#5a4e50" stroke-width="0.68"/>
<line x1="90.09" y1="319.54" x2="90.09" y2="320.92" stroke="#5a4e50" stroke-width="0.68"/>
<line x1="88.84" y1="320.23" x2="90.09" y2="320.23" stroke="#5a4e50" stroke-width="0.68"/>
<line x1="88.84" y1="318.74" x2="88.84" y2="320.23" stroke="#5a4e50" stroke-width="0.68"/>
<line x1="88.18" y1="319.48" x2="88.84" y2="319.48" stroke="#5a4e50" stroke-width="0.68"/>
<line x1="88.18" y1="318.25" x2="88.18" y2="319.48" stroke="#5a4e50" stroke-width="0.68"/>
<line x1="87.00" y1="318.87" x2="88.18" y2="318.87" stroke="#5a4e50" stroke-width="0.68"/>
<line x1="88.48" y1="322.26" x2="90.68" y2="322.26" stroke="#5a4e50" stroke-width="0.68"/>
<line x1="88.48" y1="323.60" x2="90.47" y2="323.60" stroke="#5a4e50" stroke-width="0.68"/>
<line x1="88.48" y1="322.26" x2="88.48" y2="323.60" stroke="#5a4e50" stroke-width="0.68"/>
<line x1="87.55" y1="322.93" x2="88.48" y2="322.93" stroke="#5a4e50" stroke-width="0.68"/>
<line x1="88.52" y1="325.35" x2="97.00" y2="325.35" stroke="#5a4e50" stroke-width="0.68"/>
<line x1="90.61" y1="327.05" x2="97.00" y2="327.05" stroke="#5a4e50" stroke-width="0.68"/>
<line x1="94.08" y1="328.41" x2="96.12" y2="328.41" stroke="#5a4e50" stroke-width="0.68"/>
<line x1="95.00" y1="329.18" x2="96.35" y2="329.18" stroke="#5a4e50" stroke-width="0.68"/>
<line x1="95.00" y1="330.36" x2="97.00" y2="330.36" stroke="#5a4e50" stroke-width="0.68"/>
<line x1="95.00" y1="329.18" x2="95.00" y2="330.36" stroke="#5a4e50" stroke-width="0.68"/>
<line x1="94.08" y1="329.77" x2="95.00" y2="329.77" stroke="#5a4e50" stroke-width="0.68"/>
<line x1="94.08" y1="328.41" x2="94.08" y2="329.77" stroke="#5a4e50" stroke-width="0.68"/>
<line x1="91.35" y1="329.09" x2="94.08" y2="329.09" stroke="#5a4e50" stroke-width="0.68"/>
<line x1="91.35" y1="332.18" x2="94.39" y2="332.18" stroke="#5a4e50" stroke-width="0.68"/>
<line x1="91.35" y1="329.09" x2="91.35" y2="332.18" stroke="#5a4e50" stroke-width="0.68"/>
<line x1="90.61" y1="330.63" x2="91.35" y2="330.63" stroke="#5a4e50" stroke-width="0.68"/>
<line x1="90.61" y1="327.05" x2="90.61" y2="330.63" stroke="#5a4e50" stroke-width="0.68"/>
<line x1="88.52" y1="328.84" x2="90.61" y2="328.84" stroke="#5a4e50" stroke-width="0.68"/>
<line x1="88.52" y1="325.35" x2="88.52" y2="328.84" stroke="#5a4e50" stroke-width="0.68"/>
<line x1="87.55" y1="327.10" x2="88.52" y2="327.10" stroke="#5a4e50" stroke-width="0.68"/>
<line x1="87.55" y1="322.93" x2="87.55" y2="327.10" stroke="#5a4e50" stroke-width="0.68"/>
<line x1="87.00" y1="325.01" x2="87.55" y2="325.01" stroke="#5a4e50" stroke-width="0.68"/>
<line x1="87.00" y1="318.87" x2="87.00" y2="325.01" stroke="#5a4e50" stroke-width="0.68"/>
<line x1="85.80" y1="321.94" x2="87.00" y2="321.94" stroke="#5a4e50" stroke-width="0.68"/>
<line x1="87.13" y1="333.33" x2="91.04" y2="333.33" stroke="#5a4e50" stroke-width="0.68"/>
<line x1="88.47" y1="334.04" x2="90.70" y2="334.04" stroke="#5a4e50" stroke-width="0.68"/>
<line x1="89.44" y1="334.62" x2="92.58" y2="334.62" stroke="#5a4e50" stroke-width="0.68"/>
<line x1="89.44" y1="335.83" x2="92.87" y2="335.83" stroke="#5a4e50" stroke-width="0.68"/>
<line x1="89.44" y1="334.62" x2="89.44" y2="335.83" stroke="#5a4e50" stroke-width="0.68"/>
<line x1="88.47" y1="335.23" x2="89.44" y2="335.23" stroke="#5a4e50" stroke-width="0.68"/>
<line x1="88.47" y1="334.04" x2="88.47" y2="335.23" stroke="#5a4e50" stroke-width="0.68"/>
<line x1="87.13" y1="334.63" x2="88.47" y2="334.63" stroke="#5a4e50" stroke-width="0.68"/>
<line x1="87.13" y1="333.33" x2="87.13" y2="334.63" stroke="#5a4e50" stroke-width="0.68"/>
<line x1="86.50" y1="333.98" x2="87.13" y2="333.98" stroke="#5a4e50" stroke-width="0.68"/>
<line x1="87.09" y1="337.74" x2="92.87" y2="337.74" stroke="#5a4e50" stroke-width="0.68"/>
<line x1="88.00" y1="339.42" x2="91.89" y2="339.42" stroke="#5a4e50" stroke-width="0.68"/>
<line x1="91.03" y1="340.55" x2="96.95" y2="340.55" stroke="#5a4e50" stroke-width="0.68"/>
<line x1="93.22" y1="341.37" x2="95.99" y2="341.37" stroke="#5a4e50" stroke-width="0.68"/>
<line x1="93.86" y1="342.03" x2="97.43" y2="342.03" stroke="#5a4e50" stroke-width="0.68"/>
<line x1="93.86" y1="343.25" x2="96.04" y2="343.25" stroke="#5a4e50" stroke-width="0.68"/>
<line x1="93.86" y1="342.03" x2="93.86" y2="343.25" stroke="#5a4e50" stroke-width="0.68"/>
<line x1="93.22" y1="342.64" x2="93.86" y2="342.64" stroke="#5a4e50" stroke-width="0.68"/>
<line x1="93.22" y1="341.37" x2="93.22" y2="342.64" stroke="#5a4e50" stroke-width="0.68"/>
<line x1="91.03" y1="342.00" x2="93.22" y2="342.00" stroke="#5a4e50" stroke-width="0.68"/>
<line x1="91.03" y1="340.55" x2="91.03" y2="342.00" stroke="#5a4e50" stroke-width="0.68"/>
<line x1="89.54" y1="341.27" x2="91.03" y2="341.27" stroke="#5a4e50" stroke-width="0.68"/>
<line x1="90.97" y1="344.78" x2="93.27" y2="344.78" stroke="#5a4e50" stroke-width="0.68"/>
<line x1="90.97" y1="346.09" x2="93.77" y2="346.09" stroke="#5a4e50" stroke-width="0.68"/>
<line x1="90.97" y1="344.78" x2="90.97" y2="346.09" stroke="#5a4e50" stroke-width="0.68"/>
<line x1="89.54" y1="345.43" x2="90.97" y2="345.43" stroke="#5a4e50" stroke-width="0.68"/>
<line x1="89.54" y1="341.27" x2="89.54" y2="345.43" stroke="#5a4e50" stroke-width="0.68"/>
<line x1="88.70" y1="343.35" x2="89.54" y2="343.35" stroke="#5a4e50" stroke-width="0.68"/>
<line x1="90.02" y1="347.23" x2="93.92" y2="347.23" stroke="#5a4e50" stroke-width="0.68"/>
<line x1="91.46" y1="348.41" x2="97.60" y2="348.41" stroke="#5a4e50" stroke-width="0.68"/>
<line x1="91.46" y1="349.62" x2="94.13" y2="349.62" stroke="#5a4e50" stroke-width="0.68"/>
<line x1="91.46" y1="348.41" x2="91.46" y2="349.62" stroke="#5a4e50" stroke-width="0.68"/>
<line x1="90.02" y1="349.02" x2="91.46" y2="349.02" stroke="#5a4e50" stroke-width="0.68"/>
<line x1="90.02" y1="347.23" x2="90.02" y2="349.02" stroke="#5a4e50" stroke-width="0.68"/>
<line x1="88.70" y1="348.12" x2="90.02" y2="348.12" stroke="#5a4e50" stroke-width="0.68"/>
<line x1="88.70" y1="343.35" x2="88.70" y2="348.12" stroke="#5a4e50" stroke-width="0.68"/>
<line x1="88.00" y1="345.74" x2="88.70" y2="345.74" stroke="#5a4e50" stroke-width="0.68"/>
<line x1="88.00" y1="339.42" x2="88.00" y2="345.74" stroke="#5a4e50" stroke-width="0.68"/>
<line x1="87.09" y1="342.58" x2="88.00" y2="342.58" stroke="#5a4e50" stroke-width="0.68"/>
<line x1="87.09" y1="337.74" x2="87.09" y2="342.58" stroke="#5a4e50" stroke-width="0.68"/>
<line x1="86.50" y1="340.16" x2="87.09" y2="340.16" stroke="#5a4e50" stroke-width="0.68"/>
<line x1="86.50" y1="333.98" x2="86.50" y2="340.16" stroke="#5a4e50" stroke-width="0.68"/>
<line x1="85.80" y1="337.07" x2="86.50" y2="337.07" stroke="#5a4e50" stroke-width="0.68"/>
<line x1="90.16" y1="350.25" x2="93.39" y2="350.25" stroke="#5a4e50" stroke-width="0.68"/>
<line x1="91.99" y1="350.69" x2="95.20" y2="350.69" stroke="#5a4e50" stroke-width="0.68"/>
<line x1="92.67" y1="350.97" x2="96.50" y2="350.97" stroke="#5a4e50" stroke-width="0.68"/>
<line x1="92.67" y1="352.12" x2="94.52" y2="352.12" stroke="#5a4e50" stroke-width="0.68"/>
<line x1="92.67" y1="350.97" x2="92.67" y2="352.12" stroke="#5a4e50" stroke-width="0.68"/>
<line x1="91.99" y1="351.55" x2="92.67" y2="351.55" stroke="#5a4e50" stroke-width="0.68"/>
<line x1="91.99" y1="350.69" x2="91.99" y2="351.55" stroke="#5a4e50" stroke-width="0.68"/>
<line x1="90.16" y1="351.12" x2="91.99" y2="351.12" stroke="#5a4e50" stroke-width="0.68"/>
<line x1="90.16" y1="350.25" x2="90.16" y2="351.12" stroke="#5a4e50" stroke-width="0.68"/>
<line x1="88.69" y1="350.69" x2="90.16" y2="350.69" stroke="#5a4e50" stroke-width="0.68"/>
<line x1="89.84" y1="353.84" x2="95.95" y2="353.84" stroke="#5a4e50" stroke-width="0.68"/>
<line x1="90.51" y1="355.20" x2="95.35" y2="355.20" stroke="#5a4e50" stroke-width="0.68"/>
<line x1="91.69" y1="356.20" x2="94.13" y2="356.20" stroke="#5a4e50" stroke-width="0.68"/>
<line x1="93.40" y1="356.80" x2="98.00" y2="356.80" stroke="#5a4e50" stroke-width="0.68"/>
<line x1="93.40" y1="357.87" x2="97.68" y2="357.87" stroke="#5a4e50" stroke-width="0.68"/>
<line x1="93.40" y1="356.80" x2="93.40" y2="357.87" stroke="#5a4e50" stroke-width="0.68"/>
<line x1="91.69" y1="357.33" x2="93.40" y2="357.33" stroke="#5a4e50" stroke-width="0.68"/>
<line x1="91.69" y1="356.20" x2="91.69" y2="357.33" stroke="#5a4e50" stroke-width="0.68"/>
<line x1="90.51" y1="356.76" x2="91.69" y2="356.76" stroke="#5a4e50" stroke-width="0.68"/>
<line x1="90.51" y1="355.20" x2="90.51" y2="356.76" stroke="#5a4e50" stroke-width="0.68"/>
<line x1="89.84" y1="355.98" x2="90.51" y2="355.98" stroke="#5a4e50" stroke-width="0.68"/>
<line x1="89.84" y1="353.84" x2="89.84" y2="355.98" stroke="#5a4e50" stroke-width="0.68"/>
<line x1="88.69" y1="354.91" x2="89.84" y2="354.91" stroke="#5a4e50" stroke-width="0.68"/>
<line x1="88.69" y1="350.69" x2="88.69" y2="354.91" stroke="#5a4e50" stroke-width="0.68"/>
<line x1="87.00" y1="352.80" x2="88.69" y2="352.80" stroke="#5a4e50" stroke-width="0.68"/>
<line x1="93.12" y1="358.96" x2="96.16" y2="358.96" stroke="#5a4e50" stroke-width="0.68"/>
<line x1="93.87" y1="359.54" x2="97.29" y2="359.54" stroke="#5a4e50" stroke-width="0.68"/>
<line x1="96.00" y1="360.38" x2="98.00" y2="360.38" stroke="#5a4e50" stroke-width="0.68"/>
<line x1="96.00" y1="361.53" x2="98.00" y2="361.53" stroke="#5a4e50" stroke-width="0.68"/>
<line x1="96.00" y1="360.38" x2="96.00" y2="361.53" stroke="#5a4e50" stroke-width="0.68"/>
<line x1="93.87" y1="360.96" x2="96.00" y2="360.96" stroke="#5a4e50" stroke-width="0.68"/>
<line x1="93.87" y1="359.54" x2="93.87" y2="360.96" stroke="#5a4e50" stroke-width="0.68"/>
<line x1="93.12" y1="360.25" x2="93.87" y2="360.25" stroke="#5a4e50" stroke-width="0.68"/>
<line x1="93.12" y1="358.96" x2="93.12" y2="360.25" stroke="#5a4e50" stroke-width="0.68"/>
<line x1="90.69" y1="359.60" x2="93.12" y2="359.60" stroke="#5a4e50" stroke-width="0.68"/>
<line x1="92.74" y1="362.49" x2="94.87" y2="362.49" stroke="#5a4e50" stroke-width="0.68"/>
<line x1="93.28" y1="363.58" x2="94.79" y2="363.58" stroke="#5a4e50" stroke-width="0.68"/>
<line x1="93.28" y1="364.67" x2="96.73" y2="364.67" stroke="#5a4e50" stroke-width="0.68"/>
<line x1="93.28" y1="363.58" x2="93.28" y2="364.67" stroke="#5a4e50" stroke-width="0.68"/>
<line x1="92.74" y1="364.13" x2="93.28" y2="364.13" stroke="#5a4e50" stroke-width="0.68"/>
<line x1="92.74" y1="362.49" x2="92.74" y2="364.13" stroke="#5a4e50" stroke-width="0.68"/>
<line x1="90.69" y1="363.31" x2="92.74" y2="363.31" stroke="#5a4e50" stroke-width="0.68"/>
<line x1="90.69" y1="359.60" x2="90.69" y2="363.31" stroke="#5a4e50" stroke-width="0.68"/>
<line x1="87.00" y1="361.45" x2="90.69" y2="361.45" stroke="#5a4e50" stroke-width="0.68"/>
<line x1="87.00" y1="352.80" x2="87.00" y2="361.45" stroke="#5a4e50" stroke-width="0.68"/>
<line x1="85.80" y1="357.13" x2="87.00" y2="357.13" stroke="#5a4e50" stroke-width="0.68"/>
<line x1="87.24" y1="365.91" x2="92.04" y2="365.91" stroke="#5a4e50" stroke-width="0.68"/>
<line x1="88.67" y1="367.40" x2="94.61" y2="367.40" stroke="#5a4e50" stroke-width="0.68"/>
<line x1="88.67" y1="368.68" x2="91.24" y2="368.68" stroke="#5a4e50" stroke-width="0.68"/>
<line x1="88.67" y1="367.40" x2="88.67" y2="368.68" stroke="#5a4e50" stroke-width="0.68"/>
<line x1="87.24" y1="368.04" x2="88.67" y2="368.04" stroke="#5a4e50" stroke-width="0.68"/>
<line x1="87.24" y1="365.91" x2="87.24" y2="368.04" stroke="#5a4e50" stroke-width="0.68"/>
<line x1="86.50" y1="366.97" x2="87.24" y2="366.97" stroke="#5a4e50" stroke-width="0.68"/>
<line x1="92.10" y1="369.50" x2="95.00" y2="369.50" stroke="#5a4e50" stroke-width="0.68"/>
<line x1="92.62" y1="369.86" x2="95.00" y2="369.86" stroke="#5a4e50" stroke-width="0.68"/>
<line x1="92.62" y1="370.90" x2="94.91" y2="370.90" stroke="#5a4e50" stroke-width="0.68"/>
<line x1="92.62" y1="369.86" x2="92.62" y2="370.90" stroke="#5a4e50" stroke-width="0.68"/>
<line x1="92.10" y1="370.38" x2="92.62" y2="370.38" stroke="#5a4e50" stroke-width="0.68"/>
<line x1="92.10" y1="369.50" x2="92.10" y2="370.38" stroke="#5a4e50" stroke-width="0.68"/>
<line x1="88.55" y1="369.94" x2="92.10" y2="369.94" stroke="#5a4e50" stroke-width="0.68"/>
<line x1="89.33" y1="372.65" x2="91.45" y2="372.65" stroke="#5a4e50" stroke-width="0.68"/>
<line x1="93.00" y1="373.87" x2="95.00" y2="373.87" stroke="#5a4e50" stroke-width="0.68"/>
<line x1="93.00" y1="374.98" x2="95.00" y2="374.98" stroke="#5a4e50" stroke-width="0.68"/>
<line x1="93.00" y1="373.87" x2="93.00" y2="374.98" stroke="#5a4e50" stroke-width="0.68"/>
<line x1="91.97" y1="374.43" x2="93.00" y2="374.43" stroke="#5a4e50" stroke-width="0.68"/>
<line x1="93.00" y1="376.25" x2="95.00" y2="376.25" stroke="#5a4e50" stroke-width="0.68"/>
<line x1="93.00" y1="377.41" x2="94.37" y2="377.41" stroke="#5a4e50" stroke-width="0.68"/>
<line x1="93.00" y1="378.57" x2="94.25" y2="378.57" stroke="#5a4e50" stroke-width="0.68"/>
<line x1="93.00" y1="377.41" x2="93.00" y2="378.57" stroke="#5a4e50" stroke-width="0.68"/>
<line x1="93.00" y1="376.25" x2="93.00" y2="377.99" stroke="#5a4e50" stroke-width="0.68"/>
<line x1="93.00" y1="379.13" x2="94.02" y2="379.13" stroke="#5a4e50" stroke-width="0.68"/>
<line x1="93.00" y1="380.16" x2="95.00" y2="380.16" stroke="#5a4e50" stroke-width="0.68"/>
<line x1="93.00" y1="379.13" x2="93.00" y2="380.16" stroke="#5a4e50" stroke-width="0.68"/>
<line x1="93.00" y1="381.72" x2="94.58" y2="381.72" stroke="#5a4e50" stroke-width="0.68"/>
<line x1="93.00" y1="382.80" x2="94.98" y2="382.80" stroke="#5a4e50" stroke-width="0.68"/>
<line x1="93.00" y1="383.50" x2="95.00" y2="383.50" stroke="#5a4e50" stroke-width="0.68"/>
<line x1="93.00" y1="384.54" x2="94.87" y2="384.54" stroke="#5a4e50" stroke-width="0.68"/>
<line x1="93.00" y1="383.50" x2="93.00" y2="384.54" stroke="#5a4e50" stroke-width="0.68"/>
<line x1="93.00" y1="382.80" x2="93.00" y2="384.02" stroke="#5a4e50" stroke-width="0.68"/>
<line x1="93.00" y1="381.72" x2="93.00" y2="383.41" stroke="#5a4e50" stroke-width="0.68"/>
<line x1="93.00" y1="385.69" x2="94.82" y2="385.69" stroke="#5a4e50" stroke-width="0.68"/>
<line x1="93.00" y1="386.93" x2="95.00" y2="386.93" stroke="#5a4e50" stroke-width="0.68"/>
<line x1="93.00" y1="385.69" x2="93.00" y2="386.93" stroke="#5a4e50" stroke-width="0.68"/>
<line x1="93.00" y1="382.56" x2="93.00" y2="386.31" stroke="#5a4e50" stroke-width="0.68"/>
<line x1="93.00" y1="388.33" x2="94.39" y2="388.33" stroke="#5a4e50" stroke-width="0.68"/>
<line x1="93.00" y1="389.02" x2="94.02" y2="389.02" stroke="#5a4e50" stroke-width="0.68"/>
<line x1="93.00" y1="389.43" x2="95.00" y2="389.43" stroke="#5a4e50" stroke-width="0.68"/>
<line x1="93.00" y1="389.99" x2="94.23" y2="389.99" stroke="#5a4e50" stroke-width="0.68"/>
<line x1="93.00" y1="391.15" x2="95.00" y2="391.15" stroke="#5a4e50" stroke-width="0.68"/>
<line x1="93.00" y1="389.99" x2="93.00" y2="391.15" stroke="#5a4e50" stroke-width="0.68"/>
<line x1="93.00" y1="389.43" x2="93.00" y2="390.57" stroke="#5a4e50" stroke-width="0.68"/>
<line x1="93.00" y1="389.02" x2="93.00" y2="390.00" stroke="#5a4e50" stroke-width="0.68"/>
<line x1="93.00" y1="388.33" x2="93.00" y2="389.51" stroke="#5a4e50" stroke-width="0.68"/>
<line x1="93.00" y1="384.44" x2="93.00" y2="388.92" stroke="#5a4e50" stroke-width="0.68"/>
<line x1="93.00" y1="379.65" x2="93.00" y2="386.68" stroke="#5a4e50" stroke-width="0.68"/>
<line x1="93.00" y1="377.12" x2="93.00" y2="383.16" stroke="#5a4e50" stroke-width="0.68"/>
<line x1="91.97" y1="380.14" x2="93.00" y2="380.14" stroke="#5a4e50" stroke-width="0.68"/>
<line x1="91.97" y1="374.43" x2="91.97" y2="380.14" stroke="#5a4e50" stroke-width="0.68"/>
<line x1="89.33" y1="377.28" x2="91.97" y2="377.28" stroke="#5a4e50" stroke-width="0.68"/>
<line x1="89.33" y1="372.65" x2="89.33" y2="377.28" stroke="#5a4e50" stroke-width="0.68"/>
<line x1="88.55" y1="374.97" x2="89.33" y2="374.97" stroke="#5a4e50" stroke-width="0.68"/>
<line x1="88.55" y1="369.94" x2="88.55" y2="374.97" stroke="#5a4e50" stroke-width="0.68"/>
<line x1="86.50" y1="372.45" x2="88.55" y2="372.45" stroke="#5a4e50" stroke-width="0.68"/>
<line x1="86.50" y1="366.97" x2="86.50" y2="372.45" stroke="#5a4e50" stroke-width="0.68"/>
<line x1="85.80" y1="369.71" x2="86.50" y2="369.71" stroke="#5a4e50" stroke-width="0.68"/>
<line x1="93.00" y1="392.88" x2="96.36" y2="392.88" stroke="#5a4e50" stroke-width="0.68"/>
<line x1="93.88" y1="394.05" x2="96.78" y2="394.05" stroke="#5a4e50" stroke-width="0.68"/>
<line x1="96.00" y1="394.64" x2="98.00" y2="394.64" stroke="#5a4e50" stroke-width="0.68"/>
<line x1="96.00" y1="395.27" x2="98.00" y2="395.27" stroke="#5a4e50" stroke-width="0.68"/>
<line x1="96.00" y1="396.27" x2="97.18" y2="396.27" stroke="#5a4e50" stroke-width="0.68"/>
<line x1="96.00" y1="397.46" x2="98.00" y2="397.46" stroke="#5a4e50" stroke-width="0.68"/>
<line x1="96.00" y1="396.27" x2="96.00" y2="397.46" stroke="#5a4e50" stroke-width="0.68"/>
<line x1="96.00" y1="395.27" x2="96.00" y2="396.87" stroke="#5a4e50" stroke-width="0.68"/>
<line x1="96.00" y1="394.64" x2="96.00" y2="396.07" stroke="#5a4e50" stroke-width="0.68"/>
<line x1="93.88" y1="395.35" x2="96.00" y2="395.35" stroke="#5a4e50" stroke-width="0.68"/>
<line x1="93.88" y1="394.05" x2="93.88" y2="395.35" stroke="#5a4e50" stroke-width="0.68"/>
<line x1="93.00" y1="394.70" x2="93.88" y2="394.70" stroke="#5a4e50" stroke-width="0.68"/>
<line x1="93.00" y1="392.88" x2="93.00" y2="394.70" stroke="#5a4e50" stroke-width="0.68"/>
<line x1="85.80" y1="393.79" x2="93.00" y2="393.79" stroke="#5a4e50" stroke-width="0.68"/>
<line x1="89.45" y1="398.44" x2="92.98" y2="398.44" stroke="#5a4e50" stroke-width="0.68"/>
<line x1="90.66" y1="399.52" x2="94.17" y2="399.52" stroke="#5a4e50" stroke-width="0.68"/>
<line x1="91.92" y1="400.98" x2="95.00" y2="400.98" stroke="#5a4e50" stroke-width="0.68"/>
<line x1="93.00" y1="402.16" x2="95.00" y2="402.16" stroke="#5a4e50" stroke-width="0.68"/>
<line x1="93.00" y1="403.63" x2="94.24" y2="403.63" stroke="#5a4e50" stroke-width="0.68"/>
<line x1="93.00" y1="402.16" x2="93.00" y2="403.63" stroke="#5a4e50" stroke-width="0.68"/>
<line x1="91.92" y1="402.90" x2="93.00" y2="402.90" stroke="#5a4e50" stroke-width="0.68"/>
<line x1="91.92" y1="400.98" x2="91.92" y2="402.90" stroke="#5a4e50" stroke-width="0.68"/>
<line x1="90.66" y1="401.94" x2="91.92" y2="401.94" stroke="#5a4e50" stroke-width="0.68"/>
<line x1="90.66" y1="399.52" x2="90.66" y2="401.94" stroke="#5a4e50" stroke-width="0.68"/>
<line x1="89.45" y1="400.73" x2="90.66" y2="400.73" stroke="#5a4e50" stroke-width="0.68"/>
<line x1="89.45" y1="398.44" x2="89.45" y2="400.73" stroke="#5a4e50" stroke-width="0.68"/>
<line x1="88.00" y1="399.58" x2="89.45" y2="399.58" stroke="#5a4e50" stroke-width="0.68"/>
<line x1="91.69" y1="405.10" x2="95.00" y2="405.10" stroke="#5a4e50" stroke-width="0.68"/>
<line x1="91.69" y1="406.32" x2="94.51" y2="406.32" stroke="#5a4e50" stroke-width="0.68"/>
<line x1="91.69" y1="405.10" x2="91.69" y2="406.32" stroke="#5a4e50" stroke-width="0.68"/>
<line x1="89.54" y1="405.71" x2="91.69" y2="405.71" stroke="#5a4e50" stroke-width="0.68"/>
<line x1="89.54" y1="407.76" x2="95.00" y2="407.76" stroke="#5a4e50" stroke-width="0.68"/>
<line x1="89.54" y1="405.71" x2="89.54" y2="407.76" stroke="#5a4e50" stroke-width="0.68"/>
<line x1="88.96" y1="406.73" x2="89.54" y2="406.73" stroke="#5a4e50" stroke-width="0.68"/>
<line x1="91.00" y1="408.71" x2="94.57" y2="408.71" stroke="#5a4e50" stroke-width="0.68"/>
<line x1="91.68" y1="409.55" x2="95.00" y2="409.55" stroke="#5a4e50" stroke-width="0.68"/>
<line x1="91.68" y1="411.02" x2="94.48" y2="411.02" stroke="#5a4e50" stroke-width="0.68"/>
<line x1="91.68" y1="409.55" x2="91.68" y2="411.02" stroke="#5a4e50" stroke-width="0.68"/>
<line x1="91.00" y1="410.28" x2="91.68" y2="410.28" stroke="#5a4e50" stroke-width="0.68"/>
<line x1="91.00" y1="408.71" x2="91.00" y2="410.28" stroke="#5a4e50" stroke-width="0.68"/>
<line x1="88.96" y1="409.49" x2="91.00" y2="409.49" stroke="#5a4e50" stroke-width="0.68"/>
<line x1="88.96" y1="406.73" x2="88.96" y2="409.49" stroke="#5a4e50" stroke-width="0.68"/>
<line x1="88.00" y1="408.11" x2="88.96" y2="408.11" stroke="#5a4e50" stroke-width="0.68"/>
<line x1="88.00" y1="399.58" x2="88.00" y2="408.11" stroke="#5a4e50" stroke-width="0.68"/>
<line x1="85.80" y1="403.85" x2="88.00" y2="403.85" stroke="#5a4e50" stroke-width="0.68"/>
<line x1="90.32" y1="440.12" x2="95.00" y2="440.12" stroke="#5a4e50" stroke-width="0.68"/>
<line x1="92.50" y1="440.40" x2="95.00" y2="440.40" stroke="#5a4e50" stroke-width="0.68"/>
<line x1="92.50" y1="441.66" x2="95.00" y2="441.66" stroke="#5a4e50" stroke-width="0.68"/>
<line x1="92.50" y1="440.40" x2="92.50" y2="441.66" stroke="#5a4e50" stroke-width="0.68"/>
<line x1="90.32" y1="441.03" x2="92.50" y2="441.03" stroke="#5a4e50" stroke-width="0.68"/>
<line x1="90.32" y1="440.12" x2="90.32" y2="441.03" stroke="#5a4e50" stroke-width="0.68"/>
<line x1="89.85" y1="440.58" x2="90.32" y2="440.58" stroke="#5a4e50" stroke-width="0.68"/>
<line x1="89.85" y1="443.64" x2="91.86" y2="443.64" stroke="#5a4e50" stroke-width="0.68"/>
<line x1="89.85" y1="440.58" x2="89.85" y2="443.64" stroke="#5a4e50" stroke-width="0.68"/>
<line x1="88.00" y1="442.11" x2="89.85" y2="442.11" stroke="#5a4e50" stroke-width="0.68"/>
<line x1="89.17" y1="444.97" x2="93.79" y2="444.97" stroke="#5a4e50" stroke-width="0.68"/>
<line x1="89.17" y1="446.23" x2="92.81" y2="446.23" stroke="#5a4e50" stroke-width="0.68"/>
<line x1="89.17" y1="444.97" x2="89.17" y2="446.23" stroke="#5a4e50" stroke-width="0.68"/>
<line x1="88.00" y1="445.60" x2="89.17" y2="445.60" stroke="#5a4e50" stroke-width="0.68"/>
<line x1="88.00" y1="442.11" x2="88.00" y2="445.60" stroke="#5a4e50" stroke-width="0.68"/>
<line x1="85.80" y1="443.85" x2="88.00" y2="443.85" stroke="#5a4e50" stroke-width="0.68"/>
<line x1="86.82" y1="447.46" x2="90.88" y2="447.46" stroke="#5a4e50" stroke-width="0.68"/>
<line x1="88.21" y1="448.11" x2="91.20" y2="448.11" stroke="#5a4e50" stroke-width="0.68"/>
<line x1="89.31" y1="448.71" x2="92.18" y2="448.71" stroke="#5a4e50" stroke-width="0.68"/>
<line x1="90.23" y1="449.75" x2="93.88" y2="449.75" stroke="#5a4e50" stroke-width="0.68"/>
<line x1="90.23" y1="450.80" x2="93.21" y2="450.80" stroke="#5a4e50" stroke-width="0.68"/>
<line x1="90.23" y1="449.75" x2="90.23" y2="450.80" stroke="#5a4e50" stroke-width="0.68"/>
<line x1="89.31" y1="450.28" x2="90.23" y2="450.28" stroke="#5a4e50" stroke-width="0.68"/>
<line x1="89.31" y1="448.71" x2="89.31" y2="450.28" stroke="#5a4e50" stroke-width="0.68"/>
<line x1="88.21" y1="449.49" x2="89.31" y2="449.49" stroke="#5a4e50" stroke-width="0.68"/>
<line x1="88.21" y1="448.11" x2="88.21" y2="449.49" stroke="#5a4e50" stroke-width="0.68"/>
<line x1="86.82" y1="448.80" x2="88.21" y2="448.80" stroke="#5a4e50" stroke-width="0.68"/>
<line x1="86.82" y1="447.46" x2="86.82" y2="448.80" stroke="#5a4e50" stroke-width="0.68"/>
<line x1="86.50" y1="448.13" x2="86.82" y2="448.13" stroke="#5a4e50" stroke-width="0.68"/>
<line x1="87.40" y1="451.77" x2="90.41" y2="451.77" stroke="#5a4e50" stroke-width="0.68"/>
<line x1="89.55" y1="452.65" x2="96.69" y2="452.65" stroke="#5a4e50" stroke-width="0.68"/>
<line x1="90.45" y1="453.31" x2="92.83" y2="453.31" stroke="#5a4e50" stroke-width="0.68"/>
<line x1="92.93" y1="454.30" x2="95.94" y2="454.30" stroke="#5a4e50" stroke-width="0.68"/>
<line x1="92.93" y1="455.49" x2="99.00" y2="455.49" stroke="#5a4e50" stroke-width="0.68"/>
<line x1="92.93" y1="454.30" x2="92.93" y2="455.49" stroke="#5a4e50" stroke-width="0.68"/>
<line x1="90.45" y1="454.90" x2="92.93" y2="454.90" stroke="#5a4e50" stroke-width="0.68"/>
<line x1="90.45" y1="453.31" x2="90.45" y2="454.90" stroke="#5a4e50" stroke-width="0.68"/>
<line x1="89.55" y1="454.10" x2="90.45" y2="454.10" stroke="#5a4e50" stroke-width="0.68"/>
<line x1="89.55" y1="452.65" x2="89.55" y2="454.10" stroke="#5a4e50" stroke-width="0.68"/>
<line x1="87.40" y1="453.37" x2="89.55" y2="453.37" stroke="#5a4e50" stroke-width="0.68"/>
<line x1="87.40" y1="451.77" x2="87.40" y2="453.37" stroke="#5a4e50" stroke-width="0.68"/>
<line x1="86.50" y1="452.57" x2="87.40" y2="452.57" stroke="#5a4e50" stroke-width="0.68"/>
<line x1="86.50" y1="448.13" x2="86.50" y2="452.57" stroke="#5a4e50" stroke-width="0.68"/>
<line x1="85.80" y1="450.35" x2="86.50" y2="450.35" stroke="#5a4e50" stroke-width="0.68"/>
<line x1="90.91" y1="548.66" x2="92.76" y2="548.66" stroke="#5a4e50" stroke-width="0.68"/>
<line x1="90.91" y1="549.82" x2="94.00" y2="549.82" stroke="#5a4e50" stroke-width="0.68"/>
<line x1="90.91" y1="548.66" x2="90.91" y2="549.82" stroke="#5a4e50" stroke-width="0.68"/>
<line x1="87.37" y1="549.24" x2="90.91" y2="549.24" stroke="#5a4e50" stroke-width="0.68"/>
<line x1="88.16" y1="551.25" x2="93.22" y2="551.25" stroke="#5a4e50" stroke-width="0.68"/>
<line x1="90.10" y1="553.07" x2="91.68" y2="553.07" stroke="#5a4e50" stroke-width="0.68"/>
<line x1="92.00" y1="554.54" x2="93.74" y2="554.54" stroke="#5a4e50" stroke-width="0.68"/>
<line x1="92.00" y1="555.44" x2="94.00" y2="555.44" stroke="#5a4e50" stroke-width="0.68"/>
<line x1="92.00" y1="556.07" x2="94.00" y2="556.07" stroke="#5a4e50" stroke-width="0.68"/>
<line x1="92.00" y1="557.25" x2="93.12" y2="557.25" stroke="#5a4e50" stroke-width="0.68"/>
<line x1="92.00" y1="556.07" x2="92.00" y2="557.25" stroke="#5a4e50" stroke-width="0.68"/>
<line x1="92.00" y1="558.64" x2="94.00" y2="558.64" stroke="#5a4e50" stroke-width="0.68"/>
<line x1="92.00" y1="556.66" x2="92.00" y2="558.64" stroke="#5a4e50" stroke-width="0.68"/>
<line x1="92.00" y1="555.44" x2="92.00" y2="557.65" stroke="#5a4e50" stroke-width="0.68"/>
<line x1="92.00" y1="560.13" x2="93.90" y2="560.13" stroke="#5a4e50" stroke-width="0.68"/>
<line x1="92.00" y1="556.55" x2="92.00" y2="560.13" stroke="#5a4e50" stroke-width="0.68"/>
<line x1="92.00" y1="554.54" x2="92.00" y2="558.34" stroke="#5a4e50" stroke-width="0.68"/>
<line x1="90.10" y1="556.44" x2="92.00" y2="556.44" stroke="#5a4e50" stroke-width="0.68"/>
<line x1="90.10" y1="553.07" x2="90.10" y2="556.44" stroke="#5a4e50" stroke-width="0.68"/>
<line x1="88.16" y1="554.75" x2="90.10" y2="554.75" stroke="#5a4e50" stroke-width="0.68"/>
<line x1="88.16" y1="551.25" x2="88.16" y2="554.75" stroke="#5a4e50" stroke-width="0.68"/>
<line x1="87.37" y1="553.00" x2="88.16" y2="553.00" stroke="#5a4e50" stroke-width="0.68"/>
<line x1="87.37" y1="549.24" x2="87.37" y2="553.00" stroke="#5a4e50" stroke-width="0.68"/>
<line x1="87.00" y1="551.12" x2="87.37" y2="551.12" stroke="#5a4e50" stroke-width="0.68"/>
<line x1="92.00" y1="561.39" x2="93.15" y2="561.39" stroke="#5a4e50" stroke-width="0.68"/>
<line x1="92.00" y1="562.24" x2="93.51" y2="562.24" stroke="#5a4e50" stroke-width="0.68"/>
<line x1="92.00" y1="562.88" x2="94.00" y2="562.88" stroke="#5a4e50" stroke-width="0.68"/>
<line x1="92.00" y1="563.14" x2="93.21" y2="563.14" stroke="#5a4e50" stroke-width="0.68"/>
<line x1="92.00" y1="564.17" x2="94.00" y2="564.17" stroke="#5a4e50" stroke-width="0.68"/>
<line x1="92.00" y1="563.14" x2="92.00" y2="564.17" stroke="#5a4e50" stroke-width="0.68"/>
<line x1="92.00" y1="562.88" x2="92.00" y2="563.66" stroke="#5a4e50" stroke-width="0.68"/>
<line x1="92.00" y1="565.82" x2="93.63" y2="565.82" stroke="#5a4e50" stroke-width="0.68"/>
<line x1="92.00" y1="563.27" x2="92.00" y2="565.82" stroke="#5a4e50" stroke-width="0.68"/>
<line x1="92.00" y1="562.24" x2="92.00" y2="564.54" stroke="#5a4e50" stroke-width="0.68"/>
<line x1="92.00" y1="561.39" x2="92.00" y2="563.39" stroke="#5a4e50" stroke-width="0.68"/>
<line x1="87.96" y1="562.39" x2="92.00" y2="562.39" stroke="#5a4e50" stroke-width="0.68"/>
<line x1="88.65" y1="567.06" x2="91.00" y2="567.06" stroke="#5a4e50" stroke-width="0.68"/>
<line x1="89.27" y1="568.09" x2="93.08" y2="568.09" stroke="#5a4e50" stroke-width="0.68"/>
<line x1="90.01" y1="569.08" x2="93.02" y2="569.08" stroke="#5a4e50" stroke-width="0.68"/>
<line x1="92.00" y1="570.01" x2="94.00" y2="570.01" stroke="#5a4e50" stroke-width="0.68"/>
<line x1="92.00" y1="571.00" x2="94.00" y2="571.00" stroke="#5a4e50" stroke-width="0.68"/>
<line x1="92.00" y1="570.01" x2="92.00" y2="571.00" stroke="#5a4e50" stroke-width="0.68"/>
<line x1="91.19" y1="570.50" x2="92.00" y2="570.50" stroke="#5a4e50" stroke-width="0.68"/>
<line x1="91.84" y1="571.64" x2="94.00" y2="571.64" stroke="#5a4e50" stroke-width="0.68"/>
<line x1="92.00" y1="572.43" x2="93.20" y2="572.43" stroke="#5a4e50" stroke-width="0.68"/>
<line x1="92.00" y1="573.39" x2="93.08" y2="573.39" stroke="#5a4e50" stroke-width="0.68"/>
<line x1="92.00" y1="574.51" x2="93.94" y2="574.51" stroke="#5a4e50" stroke-width="0.68"/>
<line x1="92.00" y1="573.39" x2="92.00" y2="574.51" stroke="#5a4e50" stroke-width="0.68"/>
<line x1="92.00" y1="572.43" x2="92.00" y2="573.95" stroke="#5a4e50" stroke-width="0.68"/>
<line x1="91.84" y1="573.19" x2="92.00" y2="573.19" stroke="#5a4e50" stroke-width="0.68"/>
<line x1="91.84" y1="571.64" x2="91.84" y2="573.19" stroke="#5a4e50" stroke-width="0.68"/>
<line x1="91.19" y1="572.42" x2="91.84" y2="572.42" stroke="#5a4e50" stroke-width="0.68"/>
<line x1="91.19" y1="570.50" x2="91.19" y2="572.42" stroke="#5a4e50" stroke-width="0.68"/>
<line x1="90.01" y1="571.46" x2="91.19" y2="571.46" stroke="#5a4e50" stroke-width="0.68"/>
<line x1="90.01" y1="569.08" x2="90.01" y2="571.46" stroke="#5a4e50" stroke-width="0.68"/>
<line x1="89.27" y1="570.27" x2="90.01" y2="570.27" stroke="#5a4e50" stroke-width="0.68"/>
<line x1="89.27" y1="568.09" x2="89.27" y2="570.27" stroke="#5a4e50" stroke-width="0.68"/>
<line x1="88.65" y1="569.18" x2="89.27" y2="569.18" stroke="#5a4e50" stroke-width="0.68"/>
<line x1="88.65" y1="567.06" x2="88.65" y2="569.18" stroke="#5a4e50" stroke-width="0.68"/>
<line x1="87.96" y1="568.12" x2="88.65" y2="568.12" stroke="#5a4e50" stroke-width="0.68"/>
<line x1="87.96" y1="562.39" x2="87.96" y2="568.12" stroke="#5a4e50" stroke-width="0.68"/>
<line x1="87.00" y1="565.26" x2="87.96" y2="565.26" stroke="#5a4e50" stroke-width="0.68"/>
<line x1="87.00" y1="551.12" x2="87.00" y2="565.26" stroke="#5a4e50" stroke-width="0.68"/>
<line x1="85.80" y1="558.19" x2="87.00" y2="558.19" stroke="#5a4e50" stroke-width="0.68"/>
<line x1="85.80" y1="426.00" x2="91.00" y2="426.00" stroke="#5a4e50" stroke-width="0.6"/>
<line x1="91.00" y1="412.00" x2="91.58" y2="412.00" stroke="#5a4e50" stroke-width="0.6"/>
<line x1="91.21" y1="413.60" x2="91.97" y2="413.60" stroke="#5a4e50" stroke-width="0.6"/>
<line x1="91.00" y1="412.00" x2="91.00" y2="413.60" stroke="#5a4e50" stroke-width="0.6"/>
<line x1="91.00" y1="413.60" x2="91.21" y2="413.60" stroke="#5a4e50" stroke-width="0.6"/>
<line x1="91.41" y1="415.20" x2="92.02" y2="415.20" stroke="#5a4e50" stroke-width="0.6"/>
<line x1="91.21" y1="413.60" x2="91.21" y2="415.20" stroke="#5a4e50" stroke-width="0.6"/>
<line x1="91.21" y1="415.20" x2="91.41" y2="415.20" stroke="#5a4e50" stroke-width="0.6"/>
<line x1="91.62" y1="416.80" x2="93.04" y2="416.80" stroke="#5a4e50" stroke-width="0.6"/>
<line x1="91.41" y1="415.20" x2="91.41" y2="416.80" stroke="#5a4e50" stroke-width="0.6"/>
<line x1="91.41" y1="416.80" x2="91.62" y2="416.80" stroke="#5a4e50" stroke-width="0.6"/>
<line x1="91.82" y1="418.40" x2="92.65" y2="418.40" stroke="#5a4e50" stroke-width="0.6"/>
<line x1="91.62" y1="416.80" x2="91.62" y2="418.40" stroke="#5a4e50" stroke-width="0.6"/>
<line x1="91.62" y1="418.40" x2="91.82" y2="418.40" stroke="#5a4e50" stroke-width="0.6"/>
<line x1="92.03" y1="420.00" x2="93.02" y2="420.00" stroke="#5a4e50" stroke-width="0.6"/>
<line x1="91.82" y1="418.40" x2="91.82" y2="420.00" stroke="#5a4e50" stroke-width="0.6"/>
<line x1="91.82" y1="420.00" x2="92.03" y2="420.00" stroke="#5a4e50" stroke-width="0.6"/>
<line x1="92.24" y1="421.60" x2="93.39" y2="421.60" stroke="#5a4e50" stroke-width="0.6"/>
<line x1="92.03" y1="420.00" x2="92.03" y2="421.60" stroke="#5a4e50" stroke-width="0.6"/>
<line x1="92.03" y1="421.60" x2="92.24" y2="421.60" stroke="#5a4e50" stroke-width="0.6"/>
<line x1="92.44" y1="423.20" x2="93.83" y2="423.20" stroke="#5a4e50" stroke-width="0.6"/>
<line x1="92.24" y1="421.60" x2="92.24" y2="423.20" stroke="#5a4e50" stroke-width="0.6"/>
<line x1="92.24" y1="423.20" x2="92.44" y2="423.20" stroke="#5a4e50" stroke-width="0.6"/>
<line x1="92.65" y1="424.80" x2="94.09" y2="424.80" stroke="#5a4e50" stroke-width="0.6"/>
<line x1="92.44" y1="423.20" x2="92.44" y2="424.80" stroke="#5a4e50" stroke-width="0.6"/>
<line x1="92.44" y1="424.80" x2="92.65" y2="424.80" stroke="#5a4e50" stroke-width="0.6"/>
<line x1="92.85" y1="426.40" x2="93.92" y2="426.40" stroke="#5a4e50" stroke-width="0.6"/>
<line x1="92.65" y1="424.80" x2="92.65" y2="426.40" stroke="#5a4e50" stroke-width="0.6"/>
<line x1="92.65" y1="426.40" x2="92.85" y2="426.40" stroke="#5a4e50" stroke-width="0.6"/>
<line x1="93.06" y1="428.00" x2="94.06" y2="428.00" stroke="#5a4e50" stroke-width="0.6"/>
<line x1="92.85" y1="426.40" x2="92.85" y2="428.00" stroke="#5a4e50" stroke-width="0.6"/>
<line x1="92.85" y1="428.00" x2="93.06" y2="428.00" stroke="#5a4e50" stroke-width="0.6"/>
<line x1="93.26" y1="429.60" x2="94.67" y2="429.60" stroke="#5a4e50" stroke-width="0.6"/>
<line x1="93.06" y1="428.00" x2="93.06" y2="429.60" stroke="#5a4e50" stroke-width="0.6"/>
<line x1="93.06" y1="429.60" x2="93.26" y2="429.60" stroke="#5a4e50" stroke-width="0.6"/>
<line x1="93.47" y1="431.20" x2="94.37" y2="431.20" stroke="#5a4e50" stroke-width="0.6"/>
<line x1="93.26" y1="429.60" x2="93.26" y2="431.20" stroke="#5a4e50" stroke-width="0.6"/>
<line x1="93.26" y1="431.20" x2="93.47" y2="431.20" stroke="#5a4e50" stroke-width="0.6"/>
<line x1="93.68" y1="432.80" x2="94.48" y2="432.80" stroke="#5a4e50" stroke-width="0.6"/>
<line x1="93.47" y1="431.20" x2="93.47" y2="432.80" stroke="#5a4e50" stroke-width="0.6"/>
<line x1="93.47" y1="432.80" x2="93.68" y2="432.80" stroke="#5a4e50" stroke-width="0.6"/>
<line x1="93.88" y1="434.40" x2="95.12" y2="434.40" stroke="#5a4e50" stroke-width="0.6"/>
<line x1="93.68" y1="432.80" x2="93.68" y2="434.40" stroke="#5a4e50" stroke-width="0.6"/>
<line x1="93.68" y1="434.40" x2="93.88" y2="434.40" stroke="#5a4e50" stroke-width="0.6"/>
<line x1="94.09" y1="436.00" x2="94.85" y2="436.00" stroke="#5a4e50" stroke-width="0.6"/>
<line x1="93.88" y1="434.40" x2="93.88" y2="436.00" stroke="#5a4e50" stroke-width="0.6"/>
<line x1="93.88" y1="436.00" x2="94.09" y2="436.00" stroke="#5a4e50" stroke-width="0.6"/>
<line x1="94.29" y1="437.60" x2="95.16" y2="437.60" stroke="#5a4e50" stroke-width="0.6"/>
<line x1="94.09" y1="436.00" x2="94.09" y2="437.60" stroke="#5a4e50" stroke-width="0.6"/>
<line x1="94.09" y1="437.60" x2="94.29" y2="437.60" stroke="#5a4e50" stroke-width="0.6"/>
<line x1="94.50" y1="439.20" x2="95.43" y2="439.20" stroke="#5a4e50" stroke-width="0.6"/>
<line x1="94.29" y1="437.60" x2="94.29" y2="439.20" stroke="#5a4e50" stroke-width="0.6"/>
<line x1="94.29" y1="439.20" x2="94.50" y2="439.20" stroke="#5a4e50" stroke-width="0.6"/>
<line x1="85.80" y1="459.60" x2="93.20" y2="459.60" stroke="#5a4e50" stroke-width="0.7"/>
<line x1="93.20" y1="457.00" x2="93.20" y2="465.30" stroke="#5a4e50" stroke-width="0.7"/>
<line x1="93.20" y1="457.00" x2="97.00" y2="457.00" stroke="#5a4e50" stroke-width="0.6"/>
<line x1="95.00" y1="462.00" x2="95.00" y2="503.00" stroke="#5a4e50" stroke-width="0.7"/>
<line x1="93.20" y1="463.00" x2="95.00" y2="463.00" stroke="#5a4e50" stroke-width="0.6"/>
<line x1="94.33" y1="461.50" x2="97.80" y2="461.50" stroke="#5a4e50" stroke-width="0.6"/>
<line x1="95.06" y1="462.63" x2="99.56" y2="462.63" stroke="#5a4e50" stroke-width="0.6"/>
<line x1="95.14" y1="462.63" x2="95.14" y2="463.83" stroke="#5a4e50" stroke-width="0.6"/>
<line x1="94.41" y1="463.79" x2="98.13" y2="463.79" stroke="#5a4e50" stroke-width="0.6"/>
<line x1="95.23" y1="463.79" x2="95.23" y2="464.99" stroke="#5a4e50" stroke-width="0.6"/>
<line x1="94.75" y1="464.74" x2="97.91" y2="464.74" stroke="#5a4e50" stroke-width="0.6"/>
<line x1="94.27" y1="465.75" x2="98.60" y2="465.75" stroke="#5a4e50" stroke-width="0.6"/>
<line x1="95.40" y1="465.75" x2="95.40" y2="466.95" stroke="#5a4e50" stroke-width="0.6"/>
<line x1="94.04" y1="466.86" x2="97.01" y2="466.86" stroke="#5a4e50" stroke-width="0.6"/>
<line x1="95.05" y1="468.24" x2="99.20" y2="468.24" stroke="#5a4e50" stroke-width="0.6"/>
<line x1="94.78" y1="469.29" x2="99.25" y2="469.29" stroke="#5a4e50" stroke-width="0.6"/>
<line x1="95.69" y1="469.29" x2="95.69" y2="470.49" stroke="#5a4e50" stroke-width="0.6"/>
<line x1="95.01" y1="470.44" x2="99.92" y2="470.44" stroke="#5a4e50" stroke-width="0.6"/>
<line x1="95.79" y1="470.44" x2="95.79" y2="471.64" stroke="#5a4e50" stroke-width="0.6"/>
<line x1="95.49" y1="471.38" x2="98.31" y2="471.38" stroke="#5a4e50" stroke-width="0.6"/>
<line x1="94.67" y1="472.50" x2="98.87" y2="472.50" stroke="#5a4e50" stroke-width="0.6"/>
<line x1="95.96" y1="472.50" x2="95.96" y2="473.70" stroke="#5a4e50" stroke-width="0.6"/>
<line x1="95.93" y1="473.74" x2="101.01" y2="473.74" stroke="#5a4e50" stroke-width="0.6"/>
<line x1="95.67" y1="474.80" x2="100.52" y2="474.80" stroke="#5a4e50" stroke-width="0.6"/>
<line x1="96.17" y1="476.02" x2="100.42" y2="476.02" stroke="#5a4e50" stroke-width="0.6"/>
<line x1="96.25" y1="476.02" x2="96.25" y2="477.22" stroke="#5a4e50" stroke-width="0.6"/>
<line x1="95.52" y1="477.23" x2="101.10" y2="477.23" stroke="#5a4e50" stroke-width="0.6"/>
<line x1="95.03" y1="478.15" x2="100.56" y2="478.15" stroke="#5a4e50" stroke-width="0.6"/>
<line x1="95.40" y1="479.05" x2="99.47" y2="479.05" stroke="#5a4e50" stroke-width="0.6"/>
<line x1="95.24" y1="480.44" x2="98.38" y2="480.44" stroke="#5a4e50" stroke-width="0.6"/>
<line x1="95.59" y1="481.56" x2="99.54" y2="481.56" stroke="#5a4e50" stroke-width="0.6"/>
<line x1="96.63" y1="482.68" x2="99.43" y2="482.68" stroke="#5a4e50" stroke-width="0.6"/>
<line x1="96.71" y1="483.61" x2="101.30" y2="483.61" stroke="#5a4e50" stroke-width="0.6"/>
<line x1="96.81" y1="484.79" x2="98.90" y2="484.79" stroke="#5a4e50" stroke-width="0.6"/>
<line x1="96.98" y1="484.79" x2="96.98" y2="485.99" stroke="#5a4e50" stroke-width="0.6"/>
<line x1="96.26" y1="486.17" x2="101.83" y2="486.17" stroke="#5a4e50" stroke-width="0.6"/>
<line x1="97.10" y1="486.17" x2="97.10" y2="487.37" stroke="#5a4e50" stroke-width="0.6"/>
<line x1="96.38" y1="487.27" x2="101.63" y2="487.27" stroke="#5a4e50" stroke-width="0.6"/>
<line x1="97.19" y1="487.27" x2="97.19" y2="488.47" stroke="#5a4e50" stroke-width="0.6"/>
<line x1="96.59" y1="488.61" x2="98.91" y2="488.61" stroke="#5a4e50" stroke-width="0.6"/>
<line x1="96.38" y1="489.70" x2="102.14" y2="489.70" stroke="#5a4e50" stroke-width="0.6"/>
<line x1="96.91" y1="490.94" x2="101.72" y2="490.94" stroke="#5a4e50" stroke-width="0.6"/>
<line x1="97.50" y1="490.94" x2="97.50" y2="492.14" stroke="#5a4e50" stroke-width="0.6"/>
<line x1="97.35" y1="492.21" x2="101.15" y2="492.21" stroke="#5a4e50" stroke-width="0.6"/>
<line x1="97.60" y1="492.21" x2="97.60" y2="493.41" stroke="#5a4e50" stroke-width="0.6"/>
<line x1="97.44" y1="493.29" x2="100.41" y2="493.29" stroke="#5a4e50" stroke-width="0.6"/>
<line x1="97.20" y1="494.45" x2="101.30" y2="494.45" stroke="#5a4e50" stroke-width="0.6"/>
<line x1="97.00" y1="495.53" x2="101.06" y2="495.53" stroke="#5a4e50" stroke-width="0.6"/>
<line x1="96.92" y1="496.59" x2="100.28" y2="496.59" stroke="#5a4e50" stroke-width="0.6"/>
<line x1="97.97" y1="496.59" x2="97.97" y2="497.79" stroke="#5a4e50" stroke-width="0.6"/>
<line x1="97.21" y1="497.86" x2="100.47" y2="497.86" stroke="#5a4e50" stroke-width="0.6"/>
<line x1="98.07" y1="497.86" x2="98.07" y2="499.06" stroke="#5a4e50" stroke-width="0.6"/>
<line x1="97.61" y1="499.17" x2="102.19" y2="499.17" stroke="#5a4e50" stroke-width="0.6"/>
<line x1="97.44" y1="500.38" x2="103.20" y2="500.38" stroke="#5a4e50" stroke-width="0.6"/>
<line x1="97.65" y1="501.50" x2="100.69" y2="501.50" stroke="#5a4e50" stroke-width="0.6"/>
<line x1="97.99" y1="502.46" x2="102.92" y2="502.46" stroke="#5a4e50" stroke-width="0.6"/>
<line x1="98.45" y1="502.46" x2="98.45" y2="503.66" stroke="#5a4e50" stroke-width="0.6"/>
<line x1="97.71" y1="503.71" x2="101.99" y2="503.71" stroke="#5a4e50" stroke-width="0.6"/>
<line x1="98.56" y1="503.71" x2="98.56" y2="504.91" stroke="#5a4e50" stroke-width="0.6"/>
<line x1="85.80" y1="522.00" x2="87.00" y2="522.00" stroke="#5a4e50" stroke-width="0.6"/>
<line x1="87.00" y1="505.00" x2="88.93" y2="505.00" stroke="#5a4e50" stroke-width="0.6"/>
<line x1="87.32" y1="506.40" x2="88.97" y2="506.40" stroke="#5a4e50" stroke-width="0.6"/>
<line x1="87.00" y1="505.00" x2="87.00" y2="506.40" stroke="#5a4e50" stroke-width="0.6"/>
<line x1="87.00" y1="506.40" x2="87.32" y2="506.40" stroke="#5a4e50" stroke-width="0.6"/>
<line x1="87.64" y1="507.80" x2="89.35" y2="507.80" stroke="#5a4e50" stroke-width="0.6"/>
<line x1="87.32" y1="506.40" x2="87.32" y2="507.80" stroke="#5a4e50" stroke-width="0.6"/>
<line x1="87.32" y1="507.80" x2="87.64" y2="507.80" stroke="#5a4e50" stroke-width="0.6"/>
<line x1="87.96" y1="509.20" x2="88.61" y2="509.20" stroke="#5a4e50" stroke-width="0.6"/>
<line x1="87.64" y1="507.80" x2="87.64" y2="509.20" stroke="#5a4e50" stroke-width="0.6"/>
<line x1="87.64" y1="509.20" x2="87.96" y2="509.20" stroke="#5a4e50" stroke-width="0.6"/>
<line x1="88.28" y1="510.60" x2="89.96" y2="510.60" stroke="#5a4e50" stroke-width="0.6"/>
<line x1="87.96" y1="509.20" x2="87.96" y2="510.60" stroke="#5a4e50" stroke-width="0.6"/>
<line x1="87.96" y1="510.60" x2="88.28" y2="510.60" stroke="#5a4e50" stroke-width="0.6"/>
<line x1="88.60" y1="512.00" x2="89.43" y2="512.00" stroke="#5a4e50" stroke-width="0.6"/>
<line x1="88.28" y1="510.60" x2="88.28" y2="512.00" stroke="#5a4e50" stroke-width="0.6"/>
<line x1="88.28" y1="512.00" x2="88.60" y2="512.00" stroke="#5a4e50" stroke-width="0.6"/>
<line x1="88.92" y1="513.40" x2="89.72" y2="513.40" stroke="#5a4e50" stroke-width="0.6"/>
<line x1="88.60" y1="512.00" x2="88.60" y2="513.40" stroke="#5a4e50" stroke-width="0.6"/>
<line x1="88.60" y1="513.40" x2="88.92" y2="513.40" stroke="#5a4e50" stroke-width="0.6"/>
<line x1="89.24" y1="514.80" x2="90.54" y2="514.80" stroke="#5a4e50" stroke-width="0.6"/>
<line x1="88.92" y1="513.40" x2="88.92" y2="514.80" stroke="#5a4e50" stroke-width="0.6"/>
<line x1="88.92" y1="514.80" x2="89.24" y2="514.80" stroke="#5a4e50" stroke-width="0.6"/>
<line x1="89.56" y1="516.20" x2="90.97" y2="516.20" stroke="#5a4e50" stroke-width="0.6"/>
<line x1="89.24" y1="514.80" x2="89.24" y2="516.20" stroke="#5a4e50" stroke-width="0.6"/>
<line x1="89.24" y1="516.20" x2="89.56" y2="516.20" stroke="#5a4e50" stroke-width="0.6"/>
<line x1="89.88" y1="517.60" x2="90.56" y2="517.60" stroke="#5a4e50" stroke-width="0.6"/>
<line x1="89.56" y1="516.20" x2="89.56" y2="517.60" stroke="#5a4e50" stroke-width="0.6"/>
<line x1="89.56" y1="517.60" x2="89.88" y2="517.60" stroke="#5a4e50" stroke-width="0.6"/>
<line x1="90.20" y1="519.00" x2="91.85" y2="519.00" stroke="#5a4e50" stroke-width="0.6"/>
<line x1="89.88" y1="517.60" x2="89.88" y2="519.00" stroke="#5a4e50" stroke-width="0.6"/>
<line x1="89.88" y1="519.00" x2="90.20" y2="519.00" stroke="#5a4e50" stroke-width="0.6"/>
<line x1="90.52" y1="520.40" x2="91.89" y2="520.40" stroke="#5a4e50" stroke-width="0.6"/>
<line x1="90.20" y1="519.00" x2="90.20" y2="520.40" stroke="#5a4e50" stroke-width="0.6"/>
<line x1="90.20" y1="520.40" x2="90.52" y2="520.40" stroke="#5a4e50" stroke-width="0.6"/>
<line x1="90.84" y1="521.80" x2="92.69" y2="521.80" stroke="#5a4e50" stroke-width="0.6"/>
<line x1="90.52" y1="520.40" x2="90.52" y2="521.80" stroke="#5a4e50" stroke-width="0.6"/>
<line x1="90.52" y1="521.80" x2="90.84" y2="521.80" stroke="#5a4e50" stroke-width="0.6"/>
<line x1="91.16" y1="523.20" x2="93.05" y2="523.20" stroke="#5a4e50" stroke-width="0.6"/>
<line x1="90.84" y1="521.80" x2="90.84" y2="523.20" stroke="#5a4e50" stroke-width="0.6"/>
<line x1="90.84" y1="523.20" x2="91.16" y2="523.20" stroke="#5a4e50" stroke-width="0.6"/>
<line x1="91.48" y1="524.60" x2="93.01" y2="524.60" stroke="#5a4e50" stroke-width="0.6"/>
<line x1="91.16" y1="523.20" x2="91.16" y2="524.60" stroke="#5a4e50" stroke-width="0.6"/>
<line x1="91.16" y1="524.60" x2="91.48" y2="524.60" stroke="#5a4e50" stroke-width="0.6"/>
<line x1="91.80" y1="526.00" x2="92.85" y2="526.00" stroke="#5a4e50" stroke-width="0.6"/>
<line x1="91.48" y1="524.60" x2="91.48" y2="526.00" stroke="#5a4e50" stroke-width="0.6"/>
<line x1="91.48" y1="526.00" x2="91.80" y2="526.00" stroke="#5a4e50" stroke-width="0.6"/>
<line x1="92.12" y1="527.40" x2="94.05" y2="527.40" stroke="#5a4e50" stroke-width="0.6"/>
<line x1="91.80" y1="526.00" x2="91.80" y2="527.40" stroke="#5a4e50" stroke-width="0.6"/>
<line x1="91.80" y1="527.40" x2="92.12" y2="527.40" stroke="#5a4e50" stroke-width="0.6"/>
<line x1="92.44" y1="528.80" x2="94.02" y2="528.80" stroke="#5a4e50" stroke-width="0.6"/>
<line x1="92.12" y1="527.40" x2="92.12" y2="528.80" stroke="#5a4e50" stroke-width="0.6"/>
<line x1="92.12" y1="528.80" x2="92.44" y2="528.80" stroke="#5a4e50" stroke-width="0.6"/>
<line x1="92.76" y1="530.20" x2="93.70" y2="530.20" stroke="#5a4e50" stroke-width="0.6"/>
<line x1="92.44" y1="528.80" x2="92.44" y2="530.20" stroke="#5a4e50" stroke-width="0.6"/>
<line x1="92.44" y1="530.20" x2="92.76" y2="530.20" stroke="#5a4e50" stroke-width="0.6"/>
<line x1="93.08" y1="531.60" x2="94.87" y2="531.60" stroke="#5a4e50" stroke-width="0.6"/>
<line x1="92.76" y1="530.20" x2="92.76" y2="531.60" stroke="#5a4e50" stroke-width="0.6"/>
<line x1="92.76" y1="531.60" x2="93.08" y2="531.60" stroke="#5a4e50" stroke-width="0.6"/>
<line x1="93.40" y1="533.00" x2="94.99" y2="533.00" stroke="#5a4e50" stroke-width="0.6"/>
<line x1="93.08" y1="531.60" x2="93.08" y2="533.00" stroke="#5a4e50" stroke-width="0.6"/>
<line x1="93.08" y1="533.00" x2="93.40" y2="533.00" stroke="#5a4e50" stroke-width="0.6"/>
<line x1="93.72" y1="534.40" x2="94.62" y2="534.40" stroke="#5a4e50" stroke-width="0.6"/>
<line x1="93.40" y1="533.00" x2="93.40" y2="534.40" stroke="#5a4e50" stroke-width="0.6"/>
<line x1="93.40" y1="534.40" x2="93.72" y2="534.40" stroke="#5a4e50" stroke-width="0.6"/>
<line x1="94.04" y1="535.80" x2="94.91" y2="535.80" stroke="#5a4e50" stroke-width="0.6"/>
<line x1="93.72" y1="534.40" x2="93.72" y2="535.80" stroke="#5a4e50" stroke-width="0.6"/>
<line x1="93.72" y1="535.80" x2="94.04" y2="535.80" stroke="#5a4e50" stroke-width="0.6"/>
<line x1="94.36" y1="537.20" x2="94.89" y2="537.20" stroke="#5a4e50" stroke-width="0.6"/>
<line x1="94.04" y1="535.80" x2="94.04" y2="537.20" stroke="#5a4e50" stroke-width="0.6"/>
<line x1="94.04" y1="537.20" x2="94.36" y2="537.20" stroke="#5a4e50" stroke-width="0.6"/>
<line x1="94.68" y1="538.60" x2="95.99" y2="538.60" stroke="#5a4e50" stroke-width="0.6"/>
<line x1="94.36" y1="537.20" x2="94.36" y2="538.60" stroke="#5a4e50" stroke-width="0.6"/>
<line x1="94.36" y1="538.60" x2="94.68" y2="538.60" stroke="#5a4e50" stroke-width="0.6"/>
<line x1="95.00" y1="540.00" x2="95.88" y2="540.00" stroke="#5a4e50" stroke-width="0.6"/>
<line x1="94.68" y1="538.60" x2="94.68" y2="540.00" stroke="#5a4e50" stroke-width="0.6"/>
<line x1="94.68" y1="540.00" x2="95.00" y2="540.00" stroke="#5a4e50" stroke-width="0.6"/>
<line x1="85.80" y1="541.00" x2="87.50" y2="541.00" stroke="#5a4e50" stroke-width="0.6"/>
<line x1="87.50" y1="541.00" x2="87.50" y2="548.00" stroke="#5a4e50" stroke-width="0.6"/>
<line x1="87.50" y1="541.00" x2="93.00" y2="541.00" stroke="#5a4e50" stroke-width="0.6"/>
<line x1="87.50" y1="548.00" x2="93.00" y2="548.00" stroke="#5a4e50" stroke-width="0.6"/>
<line x1="93.00" y1="541.00" x2="93.00" y2="548.00" stroke="#5a4e50" stroke-width="0.6"/>
<line x1="90.00" y1="544.80" x2="102.40" y2="544.80" stroke="#9a8a8c" stroke-width="0.7"/>
<line x1="88.00" y1="284.50" x2="112.00" y2="284.50" stroke="#777" stroke-width="0.7"/>
<line x1="88.00" y1="297.50" x2="101.00" y2="297.50" stroke="#777" stroke-width="0.7"/>
<rect x="147.00" y="75.90" width="15.00" height="2.40" fill="#e06b28" />
<rect x="147.00" y="78.30" width="15.00" height="1.20" fill="#b0601e" />
<rect x="147.00" y="79.50" width="15.00" height="1.10" fill="#6a4a20" />
<rect x="147.00" y="80.60" width="15.00" height="4.30" fill="#050505" />
<rect x="147.00" y="84.90" width="15.00" height="1.90" fill="#8a5a22" />
<rect x="147.00" y="86.80" width="15.00" height="1.00" fill="#63b247" />
<rect x="147.00" y="87.80" width="15.00" height="0.90" fill="#ffffff" />
<rect x="147.00" y="88.70" width="15.00" height="1.40" fill="#050505" />
<rect x="147.00" y="90.10" width="15.00" height="1.00" fill="#e06b28" />
<rect x="147.00" y="91.10" width="15.00" height="1.40" fill="#63b247" />
<rect x="147.00" y="92.50" width="15.00" height="3.30" fill="#050505" />
<rect x="147.00" y="95.80" width="15.00" height="1.30" fill="#63b247" />
<rect x="147.00" y="97.10" width="15.00" height="3.00" fill="#050505" />
<rect x="147.00" y="100.10" width="15.00" height="1.00" fill="#b06020" />
<rect x="147.00" y="101.10" width="15.00" height="1.90" fill="#e06b28" />
<rect x="147.00" y="103.00" width="15.00" height="1.20" fill="#050505" />
<rect x="147.00" y="104.20" width="15.00" height="0.90" fill="#ffffff" />
<rect x="147.00" y="105.10" width="15.00" height="1.00" fill="#e89060" />
<rect x="147.00" y="106.10" width="15.00" height="0.70" fill="#63b247" />
<rect x="147.00" y="106.80" width="15.00" height="3.10" fill="#050505" />
<rect x="147.00" y="109.90" width="15.00" height="1.60" fill="#e9a92f" />
<rect x="147.00" y="111.50" width="15.00" height="1.00" fill="#050505" />
<rect x="147.00" y="112.50" width="15.00" height="3.80" fill="#63b247" />
<rect x="147.00" y="116.30" width="15.00" height="1.40" fill="#050505" />
<rect x="147.00" y="117.70" width="15.00" height="1.10" fill="#63b247" />
<rect x="147.00" y="118.80" width="15.00" height="1.70" fill="#050505" />
<rect x="147.00" y="120.50" width="15.00" height="2.40" fill="#63b247" />
<rect x="147.00" y="122.90" width="15.00" height="1.40" fill="#050505" />
<rect x="147.00" y="124.30" width="15.00" height="4.80" fill="#e9a92f" />
<rect x="147.00" y="129.10" width="15.00" height="1.90" fill="#050505" />
<rect x="147.00" y="131.00" width="15.00" height="13.30" fill="#e9a92f" />
<rect x="147.00" y="144.30" width="15.00" height="1.50" fill="#3a2008" />
<rect x="147.00" y="145.80" width="15.00" height="2.80" fill="#050505" />
<rect x="147.00" y="148.60" width="15.00" height="1.40" fill="#63b247" />
<rect x="147.00" y="150.00" width="15.00" height="1.50" fill="#050505" />
<rect x="147.00" y="151.50" width="15.00" height="9.50" fill="#63b247" />
<rect x="147.00" y="161.00" width="15.00" height="1.20" fill="#050505" />
<rect x="147.00" y="162.20" width="15.00" height="1.60" fill="#e9a92f" />
<rect x="147.00" y="163.80" width="15.00" height="1.90" fill="#050505" />
<rect x="147.00" y="165.70" width="15.00" height="1.20" fill="#e9a92f" />
<rect x="147.00" y="166.90" width="15.00" height="9.70" fill="#050505" />
<rect x="147.00" y="176.60" width="15.00" height="1.50" fill="#e9a92f" />
<rect x="147.00" y="178.10" width="15.00" height="1.40" fill="#050505" />
<rect x="147.00" y="179.50" width="15.00" height="1.50" fill="#7b7dc6" />
<rect x="147.00" y="181.00" width="15.00" height="2.30" fill="#050505" />
<rect x="147.00" y="183.30" width="15.00" height="0.90" fill="#7b7dc6" />
<rect x="147.00" y="184.20" width="15.00" height="1.00" fill="#e06b28" />
<rect x="147.00" y="185.20" width="15.00" height="2.80" fill="#050505" />
<rect x="147.00" y="188.00" width="15.00" height="1.90" fill="#7b7dc6" />
<rect x="147.00" y="189.90" width="15.00" height="1.10" fill="#050505" />
<rect x="147.00" y="191.00" width="15.00" height="1.80" fill="#e9a92f" />
<rect x="147.00" y="192.80" width="15.00" height="5.30" fill="#050505" />
<rect x="147.00" y="198.10" width="15.00" height="2.20" fill="#7b7dc6" />
<rect x="147.00" y="200.30" width="15.00" height="0.60" fill="#050505" />
<rect x="147.00" y="200.90" width="15.00" height="1.00" fill="#e9a92f" />
<rect x="147.00" y="201.90" width="15.00" height="5.70" fill="#7b7dc6" />
<rect x="147.00" y="207.60" width="15.00" height="4.20" fill="#050505" />
<rect x="147.00" y="211.80" width="15.00" height="2.40" fill="#e06b28" />
<rect x="147.00" y="214.20" width="15.00" height="0.70" fill="#050505" />
<rect x="147.00" y="214.90" width="15.00" height="1.20" fill="#e9a92f" />
<rect x="147.00" y="216.10" width="15.00" height="1.40" fill="#050505" />
<rect x="147.00" y="217.50" width="15.00" height="1.50" fill="#e9a92f" />
<rect x="147.00" y="219.00" width="15.00" height="24.70" fill="#050505" />
<rect x="147.00" y="243.70" width="15.00" height="2.30" fill="#ffffff" />
<rect x="147.00" y="246.00" width="15.00" height="1.50" fill="#050505" />
<rect x="147.00" y="247.50" width="15.00" height="0.90" fill="#c8c8c8" />
<rect x="147.00" y="248.40" width="15.00" height="18.10" fill="#050505" />
<rect x="147.00" y="266.50" width="15.00" height="1.50" fill="#e9a92f" />
<rect x="147.00" y="268.00" width="15.00" height="1.40" fill="#7b7dc6" />
<rect x="147.00" y="269.40" width="15.00" height="1.90" fill="#e06b28" />
<rect x="147.00" y="271.30" width="15.00" height="0.90" fill="#050505" />
<rect x="147.00" y="272.20" width="15.00" height="1.30" fill="#e9a92f" />
<rect x="147.00" y="273.50" width="15.00" height="2.50" fill="#050505" />
<rect x="147.00" y="276.00" width="15.00" height="2.90" fill="#e06b28" />
<rect x="147.00" y="278.90" width="15.00" height="4.10" fill="#050505" />
<rect x="147.00" y="283.00" width="15.00" height="1.10" fill="#ffffff" />
<rect x="147.00" y="284.10" width="15.00" height="0.90" fill="#050505" />
<rect x="147.00" y="285.00" width="15.00" height="2.90" fill="#5a5ca0" />
<rect x="147.00" y="287.90" width="15.00" height="6.60" fill="#050505" />
<rect x="147.00" y="294.50" width="15.00" height="1.50" fill="#ffffff" />
<rect x="147.00" y="296.00" width="15.00" height="3.30" fill="#050505" />
<rect x="147.00" y="299.30" width="15.00" height="1.90" fill="#7b7dc6" />
<rect x="147.00" y="301.20" width="15.00" height="0.90" fill="#050505" />
<rect x="147.00" y="302.10" width="15.00" height="1.50" fill="#7b7dc6" />
<rect x="147.00" y="303.60" width="15.00" height="0.40" fill="#050505" />
<rect x="147.00" y="304.00" width="15.00" height="2.90" fill="#63b247" />
<rect x="147.00" y="306.90" width="15.00" height="1.50" fill="#e06b28" />
<rect x="147.00" y="308.40" width="15.00" height="0.90" fill="#e9a92f" />
<rect x="147.00" y="309.30" width="15.00" height="1.60" fill="#63b247" />
<rect x="147.00" y="310.90" width="15.00" height="8.90" fill="#e06b28" />
<rect x="147.00" y="319.80" width="15.00" height="2.30" fill="#63b247" />
<rect x="147.00" y="322.10" width="15.00" height="9.50" fill="#e06b28" />
<rect x="147.00" y="331.60" width="15.00" height="11.90" fill="#63b247" />
<rect x="147.00" y="343.50" width="15.00" height="1.60" fill="#050505" />
<rect x="147.00" y="345.10" width="15.00" height="1.70" fill="#63b247" />
<rect x="147.00" y="346.80" width="15.00" height="4.60" fill="#7b7dc6" />
<rect x="147.00" y="351.40" width="15.00" height="2.40" fill="#050505" />
<rect x="147.00" y="353.80" width="15.00" height="10.10" fill="#e9a92f" />
<rect x="147.00" y="363.90" width="15.00" height="1.10" fill="#050505" />
<rect x="147.00" y="365.00" width="15.00" height="1.00" fill="#e9a92f" />
<rect x="147.00" y="366.00" width="15.00" height="0.80" fill="#050505" />
<rect x="147.00" y="366.80" width="15.00" height="2.20" fill="#e9a92f" />
<rect x="147.00" y="369.00" width="15.00" height="1.00" fill="#050505" />
<rect x="147.00" y="370.00" width="15.00" height="19.20" fill="#e9a92f" />
<rect x="147.00" y="389.20" width="15.00" height="1.40" fill="#f2d8a0" />
<rect x="147.00" y="390.60" width="15.00" height="2.10" fill="#e9a92f" />
<rect x="147.00" y="392.70" width="15.00" height="1.50" fill="#050505" />
<rect x="147.00" y="394.20" width="15.00" height="6.40" fill="#e9a92f" />
<rect x="147.00" y="400.60" width="15.00" height="1.40" fill="#050505" />
<rect x="147.00" y="402.00" width="15.00" height="1.90" fill="#e9a92f" />
<rect x="147.00" y="403.90" width="15.00" height="1.90" fill="#f4dcaa" />
<rect x="147.00" y="405.80" width="15.00" height="35.20" fill="#e9a92f" />
<rect x="147.00" y="441.00" width="15.00" height="1.00" fill="#5a3a10" />
<rect x="147.00" y="442.00" width="15.00" height="4.20" fill="#e06b28" />
<rect x="147.00" y="446.20" width="15.00" height="1.30" fill="#ffffff" />
<rect x="147.00" y="447.50" width="15.00" height="2.20" fill="#050505" />
<rect x="147.00" y="449.70" width="15.00" height="1.30" fill="#e06b28" />
<rect x="147.00" y="451.00" width="15.00" height="2.80" fill="#050505" />
<rect x="147.00" y="453.80" width="15.00" height="7.10" fill="#e06b28" />
<rect x="147.00" y="460.90" width="15.00" height="2.10" fill="#2a2a50" />
<rect x="147.00" y="463.00" width="15.00" height="8.90" fill="#7b7dc6" />
<rect x="147.00" y="471.90" width="15.00" height="1.20" fill="#20203a" />
<rect x="147.00" y="473.10" width="15.00" height="11.60" fill="#7b7dc6" />
<rect x="147.00" y="484.70" width="15.00" height="2.40" fill="#a8aada" />
<rect x="147.00" y="487.10" width="15.00" height="2.40" fill="#7b7dc6" />
<rect x="147.00" y="489.50" width="15.00" height="1.10" fill="#050505" />
<rect x="147.00" y="490.60" width="15.00" height="0.80" fill="#ffffff" />
<rect x="147.00" y="491.40" width="15.00" height="2.40" fill="#7b7dc6" />
<rect x="147.00" y="493.80" width="15.00" height="1.40" fill="#050505" />
<rect x="147.00" y="495.20" width="15.00" height="3.80" fill="#7b7dc6" />
<rect x="147.00" y="499.00" width="15.00" height="1.90" fill="#050505" />
<rect x="147.00" y="500.90" width="15.00" height="0.90" fill="#7b7dc6" />
<rect x="147.00" y="501.80" width="15.00" height="1.00" fill="#050505" />
<rect x="147.00" y="502.80" width="15.00" height="2.40" fill="#7b7dc6" />
<rect x="147.00" y="505.20" width="15.00" height="0.60" fill="#3a2010" />
<rect x="147.00" y="505.80" width="15.00" height="4.60" fill="#e06b28" />
<rect x="147.00" y="510.40" width="15.00" height="3.30" fill="#050505" />
<rect x="147.00" y="513.70" width="15.00" height="3.30" fill="#63b247" />
<rect x="147.00" y="517.00" width="15.00" height="1.00" fill="#202010" />
<rect x="147.00" y="518.00" width="15.00" height="13.70" fill="#e06b28" />
<rect x="147.00" y="531.70" width="15.00" height="1.30" fill="#050505" />
<rect x="147.00" y="533.00" width="15.00" height="18.40" fill="#e06b28" />
<rect x="147.00" y="551.40" width="15.00" height="4.30" fill="#050505" />
<rect x="147.00" y="555.70" width="15.00" height="1.20" fill="#e06b28" />
<rect x="147.00" y="556.90" width="15.00" height="4.00" fill="#050505" />
<rect x="147.00" y="560.90" width="15.00" height="1.90" fill="#7b7dc6" />
<rect x="147.00" y="562.80" width="15.00" height="5.20" fill="#050505" />
<rect x="147.00" y="568.00" width="15.00" height="2.70" fill="#7b7dc6" />
<rect x="147.00" y="570.70" width="15.00" height="2.40" fill="#050505" />
<rect x="147.00" y="573.10" width="15.00" height="1.20" fill="#9a9ad0" />
<rect x="147.00" y="574.30" width="15.00" height="1.60" fill="#050505" />
<line x1="168.40" y1="75.50" x2="168.40" y2="576.50" stroke="#e4e4e4" stroke-width="0.8" />
<line x1="177.70" y1="75.50" x2="177.70" y2="576.50" stroke="#e4e4e4" stroke-width="0.8" />
<line x1="184.40" y1="75.50" x2="184.40" y2="576.50" stroke="#e4e4e4" stroke-width="0.8" />
<line x1="190.70" y1="75.50" x2="190.70" y2="576.50" stroke="#e4e4e4" stroke-width="0.8" />
<line x1="197.40" y1="75.50" x2="197.40" y2="576.50" stroke="#e4e4e4" stroke-width="0.8" />
<rect x="166.80" y="78.30" width="3.2" height="3.10" rx="1.6" fill="#000"/>
<rect x="166.80" y="84.60" width="3.2" height="3.20" rx="1.6" fill="#000"/>
<rect x="166.80" y="97.80" width="3.2" height="3.30" rx="1.6" fill="#000"/>
<rect x="166.80" y="105.80" width="3.2" height="3.20" rx="1.6" fill="#000"/>
<rect x="166.80" y="109.00" width="3.2" height="3.00" rx="1.6" fill="#000"/>
<rect x="166.80" y="116.30" width="3.2" height="4.70" rx="1.6" fill="#000"/>
<rect x="166.80" y="143.40" width="3.2" height="5.70" rx="1.6" fill="#000"/>
<rect x="166.80" y="160.00" width="3.2" height="3.40" rx="1.6" fill="#000"/>
<rect x="166.80" y="163.80" width="3.2" height="3.20" rx="1.6" fill="#000"/>
<rect x="166.80" y="189.00" width="3.2" height="4.80" rx="1.6" fill="#000"/>
<rect x="166.80" y="277.00" width="3.2" height="3.30" rx="1.6" fill="#000"/>
<rect x="176.10" y="74.80" width="3.2" height="3.00" rx="1.6" fill="#000"/>
<rect x="176.10" y="85.20" width="3.2" height="3.10" rx="1.6" fill="#000"/>
<rect x="176.10" y="91.60" width="3.2" height="3.90" rx="1.6" fill="#000"/>
<rect x="176.10" y="95.50" width="3.2" height="3.40" rx="1.6" fill="#000"/>
<rect x="176.10" y="115.30" width="3.2" height="3.20" rx="1.6" fill="#000"/>
<rect x="176.10" y="122.00" width="3.2" height="9.00" rx="1.6" fill="#000"/>
<rect x="176.10" y="148.90" width="3.2" height="3.80" rx="1.6" fill="#000"/>
<rect x="176.10" y="165.30" width="3.2" height="12.80" rx="1.6" fill="#000"/>
<rect x="176.10" y="192.90" width="3.2" height="4.70" rx="1.6" fill="#000"/>
<rect x="176.10" y="206.90" width="3.2" height="3.10" rx="1.6" fill="#000"/>
<rect x="176.10" y="215.70" width="3.2" height="9.00" rx="1.6" fill="#000"/>
<rect x="176.10" y="229.00" width="3.2" height="9.90" rx="1.6" fill="#000"/>
<rect x="176.10" y="240.40" width="3.2" height="3.80" rx="1.6" fill="#000"/>
<rect x="176.10" y="249.00" width="3.2" height="3.30" rx="1.6" fill="#000"/>
<rect x="176.10" y="272.20" width="3.2" height="4.80" rx="1.6" fill="#000"/>
<rect x="176.10" y="282.70" width="3.2" height="3.80" rx="1.6" fill="#000"/>
<rect x="176.10" y="287.90" width="3.2" height="3.10" rx="1.6" fill="#000"/>
<rect x="176.10" y="301.70" width="3.2" height="3.30" rx="1.6" fill="#000"/>
<rect x="176.10" y="342.60" width="3.2" height="3.80" rx="1.6" fill="#000"/>
<rect x="176.10" y="347.80" width="3.2" height="3.00" rx="1.6" fill="#000"/>
<rect x="176.10" y="351.40" width="3.2" height="3.10" rx="1.6" fill="#000"/>
<rect x="176.10" y="362.50" width="3.2" height="5.80" rx="1.6" fill="#000"/>
<rect x="176.10" y="446.20" width="3.2" height="4.80" rx="1.6" fill="#000"/>
<rect x="176.10" y="550.20" width="3.2" height="4.30" rx="1.6" fill="#000"/>
<rect x="176.10" y="559.70" width="3.2" height="3.00" rx="1.6" fill="#000"/>
<rect x="176.10" y="562.50" width="3.2" height="3.00" rx="1.6" fill="#000"/>
<rect x="176.10" y="567.30" width="3.2" height="6.20" rx="1.6" fill="#000"/>
<rect x="182.80" y="77.30" width="3.2" height="9.50" rx="1.6" fill="#000"/>
<rect x="182.80" y="89.70" width="3.2" height="3.30" rx="1.6" fill="#000"/>
<rect x="182.80" y="96.80" width="3.2" height="5.70" rx="1.6" fill="#000"/>
<rect x="182.80" y="107.30" width="3.2" height="9.90" rx="1.6" fill="#000"/>
<rect x="182.80" y="123.00" width="3.2" height="3.30" rx="1.6" fill="#000"/>
<rect x="182.80" y="128.60" width="3.2" height="4.80" rx="1.6" fill="#000"/>
<rect x="182.80" y="144.40" width="3.2" height="23.20" rx="1.6" fill="#000"/>
<rect x="182.80" y="169.00" width="3.2" height="6.70" rx="1.6" fill="#000"/>
<rect x="182.80" y="178.10" width="3.2" height="10.90" rx="1.6" fill="#000"/>
<rect x="182.80" y="191.90" width="3.2" height="3.30" rx="1.6" fill="#000"/>
<rect x="182.80" y="195.70" width="3.2" height="7.10" rx="1.6" fill="#000"/>
<rect x="182.80" y="207.60" width="3.2" height="11.40" rx="1.6" fill="#000"/>
<rect x="182.80" y="219.90" width="3.2" height="4.30" rx="1.6" fill="#000"/>
<rect x="182.80" y="224.70" width="3.2" height="6.20" rx="1.6" fill="#000"/>
<rect x="182.80" y="231.80" width="3.2" height="3.00" rx="1.6" fill="#000"/>
<rect x="182.80" y="237.00" width="3.2" height="8.10" rx="1.6" fill="#000"/>
<rect x="182.80" y="247.00" width="3.2" height="3.90" rx="1.6" fill="#000"/>
<rect x="182.80" y="252.80" width="3.2" height="7.60" rx="1.6" fill="#000"/>
<rect x="182.80" y="260.80" width="3.2" height="5.20" rx="1.6" fill="#000"/>
<rect x="182.80" y="268.40" width="3.2" height="5.70" rx="1.6" fill="#000"/>
<rect x="182.80" y="275.00" width="3.2" height="4.80" rx="1.6" fill="#000"/>
<rect x="182.80" y="284.60" width="3.2" height="19.40" rx="1.6" fill="#000"/>
<rect x="182.80" y="305.00" width="3.2" height="5.80" rx="1.6" fill="#000"/>
<rect x="182.80" y="321.70" width="3.2" height="3.30" rx="1.6" fill="#000"/>
<rect x="182.80" y="330.20" width="3.2" height="3.00" rx="1.6" fill="#000"/>
<rect x="182.80" y="346.90" width="3.2" height="3.30" rx="1.6" fill="#000"/>
<rect x="182.80" y="352.10" width="3.2" height="7.60" rx="1.6" fill="#000"/>
<rect x="182.80" y="363.50" width="3.2" height="3.80" rx="1.6" fill="#000"/>
<rect x="182.80" y="372.60" width="3.2" height="3.00" rx="1.6" fill="#000"/>
<rect x="182.80" y="384.00" width="3.2" height="5.70" rx="1.6" fill="#000"/>
<rect x="182.80" y="440.00" width="3.2" height="6.70" rx="1.6" fill="#000"/>
<rect x="182.80" y="450.00" width="3.2" height="3.00" rx="1.6" fill="#000"/>
<rect x="182.80" y="454.30" width="3.2" height="8.60" rx="1.6" fill="#000"/>
<rect x="182.80" y="467.60" width="3.2" height="3.00" rx="1.6" fill="#000"/>
<rect x="182.80" y="472.80" width="3.2" height="3.40" rx="1.6" fill="#000"/>
<rect x="182.80" y="501.90" width="3.2" height="3.00" rx="1.6" fill="#000"/>
<rect x="182.80" y="505.70" width="3.2" height="5.20" rx="1.6" fill="#000"/>
<rect x="182.80" y="543.50" width="3.2" height="3.00" rx="1.6" fill="#000"/>
<rect x="182.80" y="551.60" width="3.2" height="9.50" rx="1.6" fill="#000"/>
<rect x="182.80" y="564.00" width="3.2" height="12.80" rx="1.6" fill="#000"/>
<rect x="189.10" y="75.40" width="3.2" height="4.30" rx="1.6" fill="#000"/>
<rect x="189.10" y="88.00" width="3.2" height="4.00" rx="1.6" fill="#000"/>
<rect x="189.10" y="121.30" width="3.2" height="3.20" rx="1.6" fill="#000"/>
<rect x="189.10" y="131.00" width="3.2" height="13.80" rx="1.6" fill="#000"/>
<rect x="189.10" y="168.10" width="3.2" height="3.00" rx="1.6" fill="#000"/>
<rect x="189.10" y="180.50" width="3.2" height="3.30" rx="1.6" fill="#000"/>
<rect x="189.10" y="185.00" width="3.2" height="3.00" rx="1.6" fill="#000"/>
<rect x="189.10" y="199.00" width="3.2" height="9.50" rx="1.6" fill="#000"/>
<rect x="189.10" y="212.80" width="3.2" height="3.30" rx="1.6" fill="#000"/>
<rect x="189.10" y="227.00" width="3.2" height="5.80" rx="1.6" fill="#000"/>
<rect x="189.10" y="235.10" width="3.2" height="3.00" rx="1.6" fill="#000"/>
<rect x="189.10" y="245.10" width="3.2" height="3.00" rx="1.6" fill="#000"/>
<rect x="189.10" y="249.90" width="3.2" height="3.30" rx="1.6" fill="#000"/>
<rect x="189.10" y="258.00" width="3.2" height="4.70" rx="1.6" fill="#000"/>
<rect x="189.10" y="265.10" width="3.2" height="4.80" rx="1.6" fill="#000"/>
<rect x="189.10" y="288.90" width="3.2" height="3.00" rx="1.6" fill="#000"/>
<rect x="189.10" y="297.00" width="3.2" height="5.60" rx="1.6" fill="#000"/>
<rect x="189.10" y="308.90" width="3.2" height="3.00" rx="1.6" fill="#000"/>
<rect x="189.10" y="318.80" width="3.2" height="3.20" rx="1.6" fill="#000"/>
<rect x="189.10" y="323.10" width="3.2" height="8.60" rx="1.6" fill="#000"/>
<rect x="189.10" y="335.50" width="3.2" height="5.70" rx="1.6" fill="#000"/>
<rect x="189.10" y="344.00" width="3.2" height="8.60" rx="1.6" fill="#000"/>
<rect x="189.10" y="354.00" width="3.2" height="7.10" rx="1.6" fill="#000"/>
<rect x="189.10" y="397.30" width="3.2" height="3.70" rx="1.6" fill="#000"/>
<rect x="189.10" y="449.10" width="3.2" height="4.70" rx="1.6" fill="#000"/>
<rect x="189.10" y="460.50" width="3.2" height="46.10" rx="1.6" fill="#000"/>
<rect x="189.10" y="509.00" width="3.2" height="5.20" rx="1.6" fill="#000"/>
<rect x="189.10" y="516.10" width="3.2" height="3.00" rx="1.6" fill="#000"/>
<rect x="189.10" y="544.00" width="3.2" height="8.60" rx="1.6" fill="#000"/>
<rect x="189.10" y="554.00" width="3.2" height="3.00" rx="1.6" fill="#000"/>
<rect x="189.10" y="560.20" width="3.2" height="4.20" rx="1.6" fill="#000"/>
<rect x="189.10" y="570.10" width="3.2" height="3.00" rx="1.6" fill="#000"/>
<rect x="195.80" y="86.20" width="3.2" height="3.80" rx="1.6" fill="#000"/>
<rect x="195.80" y="90.60" width="3.2" height="7.20" rx="1.6" fill="#000"/>
<rect x="195.80" y="100.10" width="3.2" height="11.40" rx="1.6" fill="#000"/>
<rect x="195.80" y="118.70" width="3.2" height="5.20" rx="1.6" fill="#000"/>
<rect x="195.80" y="129.10" width="3.2" height="3.90" rx="1.6" fill="#000"/>
<rect x="195.80" y="134.40" width="3.2" height="5.20" rx="1.6" fill="#000"/>
<rect x="195.80" y="142.50" width="3.2" height="5.70" rx="1.6" fill="#000"/>
<rect x="195.80" y="176.20" width="3.2" height="3.80" rx="1.6" fill="#000"/>
<rect x="195.80" y="182.80" width="3.2" height="3.40" rx="1.6" fill="#000"/>
<rect x="195.80" y="186.60" width="3.2" height="4.80" rx="1.6" fill="#000"/>
<rect x="195.80" y="193.80" width="3.2" height="5.20" rx="1.6" fill="#000"/>
<rect x="195.80" y="203.30" width="3.2" height="3.30" rx="1.6" fill="#000"/>
<rect x="195.80" y="222.80" width="3.2" height="3.80" rx="1.6" fill="#000"/>
<rect x="195.80" y="232.80" width="3.2" height="3.00" rx="1.6" fill="#000"/>
<rect x="195.80" y="243.20" width="3.2" height="6.20" rx="1.6" fill="#000"/>
<rect x="195.80" y="251.30" width="3.2" height="6.70" rx="1.6" fill="#000"/>
<rect x="195.80" y="264.30" width="3.2" height="3.00" rx="1.6" fill="#000"/>
<rect x="195.80" y="268.00" width="3.2" height="5.20" rx="1.6" fill="#000"/>
<rect x="195.80" y="278.40" width="3.2" height="6.20" rx="1.6" fill="#000"/>
<rect x="195.80" y="285.50" width="3.2" height="3.40" rx="1.6" fill="#000"/>
<rect x="195.80" y="292.20" width="3.2" height="4.80" rx="1.6" fill="#000"/>
<rect x="195.80" y="303.10" width="3.2" height="3.30" rx="1.6" fill="#000"/>
<rect x="195.80" y="306.00" width="3.2" height="17.60" rx="1.6" fill="#000"/>
<rect x="195.80" y="326.00" width="3.2" height="11.40" rx="1.6" fill="#000"/>
<rect x="195.80" y="338.80" width="3.2" height="6.20" rx="1.6" fill="#000"/>
<rect x="195.80" y="359.20" width="3.2" height="5.80" rx="1.6" fill="#000"/>
<rect x="195.80" y="366.90" width="3.2" height="18.50" rx="1.6" fill="#000"/>
<rect x="195.80" y="387.80" width="3.2" height="11.40" rx="1.6" fill="#000"/>
<rect x="195.80" y="399.20" width="3.2" height="48.90" rx="1.6" fill="#000"/>
<rect x="195.80" y="451.50" width="3.2" height="5.20" rx="1.6" fill="#000"/>
<rect x="195.80" y="462.40" width="3.2" height="12.30" rx="1.6" fill="#000"/>
<rect x="195.80" y="476.20" width="3.2" height="11.40" rx="1.6" fill="#000"/>
<rect x="195.80" y="489.50" width="3.2" height="3.30" rx="1.6" fill="#000"/>
<rect x="195.80" y="496.00" width="3.2" height="3.00" rx="1.6" fill="#000"/>
<rect x="195.80" y="500.00" width="3.2" height="7.60" rx="1.6" fill="#000"/>
<rect x="195.80" y="512.30" width="3.2" height="31.70" rx="1.6" fill="#000"/>
<rect x="195.80" y="545.00" width="3.2" height="6.10" rx="1.6" fill="#000"/>
<rect x="195.80" y="554.90" width="3.2" height="5.30" rx="1.6" fill="#000"/>
<rect x="195.80" y="573.50" width="3.2" height="3.00" rx="1.6" fill="#000"/>
<polyline points="163.40,581.60 168.40,581.60 168.40,576" fill="none" stroke="#333" stroke-width="1.0"/>
<text x="162.90" y="583.30" font-size="6.85" text-anchor="end" fill="#222" >1898 - 1940</text>
<polyline points="172.80,586.80 177.70,586.80 177.70,576" fill="none" stroke="#8a8a8a" stroke-width="1.4"/>
<text x="172.30" y="589.80" font-size="6.85" text-anchor="end" fill="#222" >1941 - 1960</text>
<polyline points="175.10,594.80 184.40,594.80 184.40,576" fill="none" stroke="#222" stroke-width="1.0"/>
<text x="174.60" y="597.10" font-size="6.85" text-anchor="end" fill="#222" >1961 - 1980</text>
<polyline points="179.80,601.60 190.70,601.60 190.70,576" fill="none" stroke="#8a8a8a" stroke-width="1.4"/>
<text x="179.30" y="604.10" font-size="6.85" text-anchor="end" fill="#222" >1981 - 2000</text>
<polyline points="188.50,608.50 197.40,608.50 197.40,576" fill="none" stroke="#222" stroke-width="1.0"/>
<text x="188.00" y="611.10" font-size="6.85" text-anchor="end" fill="#222" >2001 - 2021</text>
<text x="168.90" y="48.40" font-size="12.3" text-anchor="start" fill="#222" >TIME</text>
<line x1="167.00" y1="52.30" x2="199.60" y2="52.30" stroke="#333" stroke-width="1.1" />
<line x1="167.00" y1="50.00" x2="167.00" y2="54.60" stroke="#333" stroke-width="1.1" />
<line x1="199.60" y1="50.00" x2="199.60" y2="54.60" stroke="#333" stroke-width="1.1" />
<text x="142.90" y="67.50" font-size="12" text-anchor="start" fill="#222" >GEO</text>
<text x="137.00" y="75.00" font-size="12.4" text-anchor="start" fill="#222" >L</text>
<line x1="86.00" y1="587.30" x2="112.90" y2="587.30" stroke="#555" stroke-width="0.9" />
<text x="99.60" y="586.10" font-size="7.9" text-anchor="middle" fill="#333" >0.01</text>
<path d="M207.5,76.0 V578.5 H311.0 V76.0 Z" fill="none" stroke="#7e7e7e" stroke-width="1"/>
<path d="M317.5,76.0 V578.5 H361.5 V76.0 Z" fill="none" stroke="#7e7e7e" stroke-width="1"/>
<path d="M367.5,76.0 V578.5 H410.5 V76.0 Z" fill="none" stroke="#7e7e7e" stroke-width="1"/>
<path d="M418.0,76.0 V578.5 H431.5 V76.0 Z" fill="none" stroke="#7e7e7e" stroke-width="1"/>
<path d="M437.0,76.0 V578.5 H450.5 V76.0 Z" fill="none" stroke="#7e7e7e" stroke-width="1"/>
<path d="M457.5,76.0 V578.5 H486.0 V76.0 Z" fill="none" stroke="#7e7e7e" stroke-width="1"/>
<path d="M493.5,76.0 V578.5 H507.5 V76.0 Z" fill="none" stroke="#7e7e7e" stroke-width="1"/>
<path d="M514.5,76.0 V578.5 H527.5 V76.0 Z" fill="none" stroke="#7e7e7e" stroke-width="1"/>
<rect x="208.80" y="105.75" width="11.70" height="1.10" fill="#3f70c2" />
<rect x="224.90" y="95.65" width="11.70" height="1.30" fill="#3f70c2" />
<rect x="224.90" y="120.70" width="11.70" height="2.00" fill="#3f70c2" />
<rect x="224.90" y="137.15" width="11.70" height="1.30" fill="#7e9fd6" />
<rect x="239.90" y="137.15" width="11.70" height="1.30" fill="#7e9fd6" />
<rect x="254.30" y="176.70" width="11.70" height="1.20" fill="#3f70c2" />
<rect x="269.20" y="102.90" width="11.70" height="3.00" fill="#3f70c2" />
<rect x="269.20" y="197.15" width="11.70" height="1.30" fill="#7e9fd6" />
<rect x="254.30" y="224.70" width="11.70" height="1.20" fill="#3f70c2" />
<rect x="224.90" y="233.25" width="11.70" height="1.50" fill="#7e9fd6" />
<rect x="224.90" y="243.90" width="11.70" height="1.20" fill="#3f70c2" />
<rect x="208.80" y="253.00" width="11.70" height="1.20" fill="#3f70c2" />
<rect x="224.90" y="264.90" width="11.70" height="1.20" fill="#3f70c2" />
<rect x="224.90" y="271.00" width="11.70" height="1.40" fill="#7e9fd6" />
<rect x="224.90" y="294.85" width="11.70" height="1.10" fill="#3f70c2" />
<rect x="269.20" y="320.60" width="11.70" height="1.20" fill="#3f70c2" />
<rect x="254.30" y="331.90" width="11.70" height="2.00" fill="#3f70c2" />
<rect x="254.30" y="342.60" width="11.70" height="1.20" fill="#3f70c2" />
<rect x="283.30" y="340.90" width="11.70" height="2.60" fill="#3f70c2" />
<rect x="239.90" y="368.95" width="11.70" height="1.10" fill="#3f70c2" />
<rect x="224.90" y="375.20" width="11.70" height="2.60" fill="#3f70c2" />
<rect x="224.90" y="382.20" width="11.70" height="2.60" fill="#3f70c2" />
<rect x="224.90" y="395.20" width="11.70" height="1.60" fill="#7e9fd6" />
<rect x="239.90" y="420.05" width="11.70" height="1.10" fill="#3f70c2" />
<rect x="254.30" y="422.65" width="11.70" height="1.10" fill="#3f70c2" />
<rect x="208.80" y="452.50" width="11.70" height="1.20" fill="#3f70c2" />
<rect x="224.90" y="514.45" width="11.70" height="2.50" fill="#3f70c2" />
<rect x="254.30" y="522.90" width="11.70" height="1.00" fill="#3f70c2" />
<rect x="269.20" y="533.90" width="11.70" height="5.80" fill="#3f70c2" />
<rect x="224.90" y="557.50" width="11.70" height="2.00" fill="#3f70c2" />
<rect x="297.80" y="402.35" width="11.90" height="1.30" fill="#3a3a3a" />
<rect x="297.80" y="433.95" width="11.90" height="1.30" fill="#3a3a3a" />
<rect x="318.30" y="97.65" width="12.10" height="1.30" fill="#3a3a3a" />
<rect x="333.50" y="330.25" width="11.50" height="1.30" fill="#3a3a3a" />
<rect x="347.90" y="402.25" width="12.50" height="1.30" fill="#3a3a3a" />
<rect x="368.60" y="97.65" width="11.50" height="1.30" fill="#3a3a3a" />
<rect x="383.00" y="97.65" width="11.80" height="1.30" fill="#3a3a3a" />
<rect x="397.50" y="97.65" width="12.30" height="1.30" fill="#3a3a3a" />
<rect x="418.30" y="97.65" width="12.50" height="1.30" fill="#3a3a3a" />
<rect x="437.70" y="97.65" width="12.20" height="1.30" fill="#3a3a3a" />
<rect x="473.30" y="97.65" width="12.50" height="1.30" fill="#3a3a3a" />
<rect x="493.90" y="97.65" width="13.00" height="1.30" fill="#3a3a3a" />
<rect x="437.70" y="418.65" width="12.20" height="1.30" fill="#3a3a3a" />
<rect x="457.90" y="418.65" width="12.50" height="1.30" fill="#3a3a3a" />
<rect x="514.90" y="418.65" width="12.00" height="1.30" fill="#3a3a3a" />
<text x="262.05" y="591.20" font-size="11.1" text-anchor="middle" fill="#1a1a1a" >QUI</text>
<text x="338.55" y="591.20" font-size="11.1" text-anchor="middle" fill="#1a1a1a" >B-LAC</text>
<text x="389.15" y="591.20" font-size="11.1" text-anchor="middle" fill="#1a1a1a" >AMG</text>
<text x="423.25" y="591.20" font-size="11.1" text-anchor="middle" fill="#1a1a1a" >PHE</text>
<text x="447.35" y="591.20" font-size="11.1" text-anchor="middle" fill="#1a1a1a" >SUL</text>
<text x="472.75" y="591.20" font-size="11.1" text-anchor="middle" fill="#1a1a1a" >TMP</text>
<text x="501.20" y="591.20" font-size="11.1" text-anchor="middle" fill="#1a1a1a" >TET</text>
<text x="524.20" y="591.20" font-size="11.1" text-anchor="middle" fill="#1a1a1a" >AZM</text>
<line x1="203.50" y1="14.00" x2="531.50" y2="14.00" stroke="#555" stroke-width="1.3" />
<line x1="203.80" y1="11.80" x2="203.80" y2="16.20" stroke="#222" stroke-width="1.4" />
<line x1="531.20" y1="11.80" x2="531.20" y2="16.20" stroke="#222" stroke-width="1.4" />
<text x="372.50" y="10.40" font-size="13.3" text-anchor="middle" fill="#111" >ANTIBIOTIC RESISTANCE GENES</text>
<text x="376.20" y="631.40" font-size="13.5" text-anchor="middle" fill="#111" >INFERRED ANTIBIOTIC RESISTANCE TO:</text>
<text transform="translate(214.90,74.20) rotate(-90)" font-size="7.6" fill="#111" stroke="#111" stroke-width="0.18"><tspan font-style="italic">gyrA</tspan> (D82N)</text>
<text transform="translate(230.70,74.20) rotate(-90)" font-size="7.6" fill="#111" stroke="#111" stroke-width="0.18"><tspan font-style="italic">gyrA</tspan> (S83F)</text>
<text transform="translate(245.20,74.20) rotate(-90)" font-size="7.6" fill="#111" stroke="#111" stroke-width="0.18"><tspan font-style="italic">gyrA</tspan> (D87G)</text>
<text transform="translate(261.30,74.20) rotate(-90)" font-size="7.6" fill="#111" stroke="#111" stroke-width="0.18"><tspan font-style="italic">gyrA</tspan> (D87N)</text>
<text transform="translate(275.70,74.20) rotate(-90)" font-size="7.6" fill="#111" stroke="#111" stroke-width="0.18"><tspan font-style="italic">gyrA</tspan> (D87Y)</text>
<text transform="translate(291.70,74.20) rotate(-90)" font-size="7.6" fill="#111" stroke="#111" stroke-width="0.18"><tspan font-style="italic">gyrB</tspan> (S464F)</text>
<text transform="translate(305.50,74.20) rotate(-90)" font-size="7.6" fill="#111" stroke="#111" stroke-width="0.18"><tspan font-style="italic">qnrB19</tspan></text>
<text transform="translate(326.00,74.60) rotate(-90)" font-size="7.6" fill="#111" stroke="#111" stroke-width="0.18"><tspan font-style="italic">bla</tspan><tspan font-size="4.2" dy="2.2">TEM-1D</tspan></text>
<text transform="translate(340.90,74.60) rotate(-90)" font-size="7.6" fill="#111" stroke="#111" stroke-width="0.18"><tspan font-style="italic">bla</tspan><tspan font-size="4.2" dy="2.2">CTX-M-3</tspan></text>
<text transform="translate(355.80,74.60) rotate(-90)" font-size="7.6" fill="#111" stroke="#111" stroke-width="0.18"><tspan font-style="italic">bla</tspan><tspan font-size="4.2" dy="2.2">OXA-48</tspan></text>
<text transform="translate(376.50,74.30) rotate(-90)" font-size="7.6" fill="#111" stroke="#111" stroke-width="0.18"><tspan font-style="italic">strAB</tspan></text>
<text transform="translate(391.20,74.30) rotate(-90)" font-size="7.6" fill="#111" stroke="#111" stroke-width="0.18"><tspan font-style="italic">aadA1</tspan></text>
<text transform="translate(406.30,74.30) rotate(-90)" font-size="7.6" fill="#111" stroke="#111" stroke-width="0.18"><tspan font-style="italic">aadA2b</tspan></text>
<text transform="translate(426.70,74.30) rotate(-90)" font-size="7.6" fill="#111" stroke="#111" stroke-width="0.18"><tspan font-style="italic">cmlA1</tspan></text>
<text transform="translate(445.30,74.30) rotate(-90)" font-size="7.6" fill="#111" stroke="#111" stroke-width="0.18"><tspan font-style="italic">sul1</tspan></text>
<text transform="translate(466.50,74.30) rotate(-90)" font-size="7.6" fill="#111" stroke="#111" stroke-width="0.18"><tspan font-style="italic">dfrA5</tspan></text>
<text transform="translate(481.20,74.30) rotate(-90)" font-size="7.6" fill="#111" stroke="#111" stroke-width="0.18"><tspan font-style="italic">dfrA14</tspan></text>
<text transform="translate(502.20,74.30) rotate(-90)" font-size="7.6" fill="#111" stroke="#111" stroke-width="0.18"><tspan font-style="italic">tetA</tspan></text>
<text transform="translate(523.20,74.30) rotate(-90)" font-size="7.6" fill="#111" stroke="#111" stroke-width="0.18"><tspan font-style="italic">mphA</tspan></text>
<text x="544.40" y="125.80" font-size="11" text-anchor="start" fill="#1a1a1a" >Lineage (L)</text>
<rect x="548.60" y="134.50" width="10.80" height="10.80" fill="#c462b6" stroke="#333" stroke-width="1"/>
<text x="565.70" y="143.70" font-size="10" text-anchor="start" fill="#1a1a1a" >L1</text>
<rect x="548.60" y="150.90" width="10.80" height="10.80" fill="#dcdcdc" stroke="#333" stroke-width="1"/>
<text x="565.70" y="160.10" font-size="10" text-anchor="start" fill="#1a1a1a" >L2</text>
<rect x="548.60" y="167.70" width="10.80" height="10.80" fill="#000000" stroke="#333" stroke-width="1"/>
<text x="565.70" y="176.90" font-size="10" text-anchor="start" fill="#1a1a1a" >L3</text>
<rect x="548.60" y="185.50" width="10.80" height="10.80" fill="#38b4aa" stroke="#333" stroke-width="1"/>
<text x="565.70" y="194.70" font-size="10" text-anchor="start" fill="#1a1a1a" >L4</text>
<rect x="548.60" y="204.70" width="10.80" height="10.80" fill="#9b561e" stroke="#333" stroke-width="1"/>
<text x="565.70" y="213.90" font-size="10" text-anchor="start" fill="#1a1a1a" >L5</text>
<rect x="588.90" y="134.50" width="10.80" height="10.80" fill="#e0bb78" stroke="#333" stroke-width="1"/>
<text x="605.30" y="143.70" font-size="10" text-anchor="start" fill="#1a1a1a" >L6</text>
<rect x="588.90" y="150.90" width="10.80" height="10.80" fill="#5cbb45" stroke="#333" stroke-width="1"/>
<text x="605.30" y="160.10" font-size="10" text-anchor="start" fill="#1a1a1a" >L7</text>
<rect x="588.90" y="167.70" width="10.80" height="10.80" fill="#f39a9a" stroke="#333" stroke-width="1"/>
<text x="605.30" y="176.90" font-size="10" text-anchor="start" fill="#1a1a1a" >L8</text>
<rect x="588.90" y="185.50" width="10.80" height="10.80" fill="#3b76c4" stroke="#333" stroke-width="1"/>
<text x="605.30" y="194.70" font-size="10" text-anchor="start" fill="#1a1a1a" >L9</text>
<rect x="588.90" y="204.70" width="10.80" height="10.80" fill="#d81a60" stroke="#333" stroke-width="1"/>
<text x="605.30" y="213.90" font-size="10" text-anchor="start" fill="#1a1a1a" >L10</text>
<rect x="624.60" y="134.50" width="10.80" height="10.80" fill="#f6ee7a" stroke="#333" stroke-width="1"/>
<text x="641.00" y="143.70" font-size="10" text-anchor="start" fill="#1a1a1a" >L11</text>
<text x="542.80" y="238.10" font-size="10.85" text-anchor="start" fill="#1a1a1a" >Geographic region (GEO)</text>
<rect x="549.70" y="244.70" width="10.80" height="10.40" fill="#7b7dc6" stroke="#333" stroke-width="1"/>
<text x="568.50" y="252.90" font-size="10" text-anchor="start" fill="#1a1a1a" >Africa*</text>
<rect x="549.70" y="260.50" width="10.80" height="10.40" fill="#e9a92f" stroke="#333" stroke-width="1"/>
<text x="568.50" y="269.70" font-size="10" text-anchor="start" fill="#1a1a1a" >America</text>
<rect x="549.70" y="277.50" width="10.80" height="10.40" fill="#63b247" stroke="#333" stroke-width="1"/>
<text x="568.50" y="286.00" font-size="10" text-anchor="start" fill="#1a1a1a" >Asia*</text>
<rect x="549.70" y="293.80" width="10.80" height="10.40" fill="#000" stroke="#333" stroke-width="1"/>
<text x="568.50" y="302.90" font-size="10" text-anchor="start" fill="#1a1a1a" >Europe</text>
<rect x="549.70" y="310.30" width="10.80" height="10.40" fill="#e06b28" stroke="#333" stroke-width="1"/>
<text x="568.50" y="319.10" font-size="10" text-anchor="start" fill="#1a1a1a" >Middle East</text>
<rect x="549.70" y="326.90" width="10.80" height="10.40" fill="#fff" stroke="#333" stroke-width="1"/>
<text x="568.50" y="336.00" font-size="10" text-anchor="start" fill="#1a1a1a" >Unknown</text>
<text x="545.50" y="358.80" font-size="10.85" text-anchor="start" fill="#1a1a1a" >Antibiotic resistance genes</text>
<rect x="551.50" y="366.10" width="11.20" height="10.30" fill="#000" stroke="#333" stroke-width="1"/>
<text x="570.70" y="375.60" font-size="10" text-anchor="start" fill="#1a1a1a" >Presence (acquired gene)</text>
<rect x="551.50" y="381.90" width="11.20" height="10.30" fill="#3b70c0" stroke="#333" stroke-width="1"/>
<text x="570.70" y="391.40" font-size="10" text-anchor="start" fill="#1a1a1a" >Presence (point mutation)</text>
<rect x="551.50" y="398.90" width="11.20" height="10.30" fill="#fff" stroke="#333" stroke-width="1"/>
<text x="570.70" y="408.40" font-size="10" text-anchor="start" fill="#1a1a1a" >Absence</text>
<text x="542.80" y="439.90" font-size="10.85" text-anchor="start" fill="#1a1a1a" >Inferred antibiotic resistance</text>
<text x="550.50" y="455.00" font-size="9.0" text-anchor="start" fill="#1a1a1a" >QUI, quinolones</text>
<text x="550.50" y="468.00" font-size="9.0" text-anchor="start" fill="#1a1a1a" >B-LAC, beta-lactams</text>
<text x="550.50" y="481.50" font-size="9.0" text-anchor="start" fill="#1a1a1a" >AMG, aminoglycosides</text>
<text x="550.50" y="495.30" font-size="9.0" text-anchor="start" fill="#1a1a1a" >PHE, phenicols</text>
<text x="550.50" y="508.20" font-size="9.0" text-anchor="start" fill="#1a1a1a" >SUL, sulfonamide</text>
<text x="550.50" y="523.00" font-size="9.0" text-anchor="start" fill="#1a1a1a" >TMP, trimethoprim</text>
<text x="550.50" y="537.60" font-size="9.0" text-anchor="start" fill="#1a1a1a" >TET, tetracyclines</text>
<text x="550.50" y="551.20" font-size="9.0" text-anchor="start" fill="#1a1a1a" >AZM, azithromycin</text>
</svg>
</body></html>
